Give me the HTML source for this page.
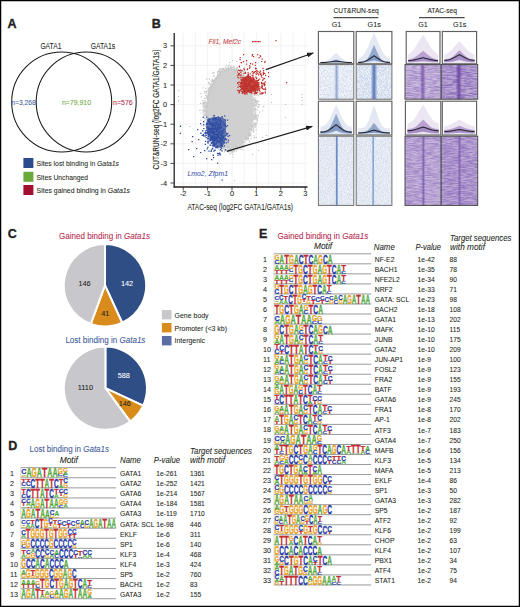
<!DOCTYPE html><html><head><meta charset="utf-8"><style>html,body{margin:0;padding:0;background:#fff;width:520px;height:607px;overflow:hidden}svg{display:block}text{font-family:"Liberation Sans",sans-serif}</style></head><body><svg width="520" height="607" viewBox="0 0 520 607" font-family="Liberation Sans, sans-serif">
<defs>
<filter id="nz" x="0" y="0" width="100%" height="100%"><feTurbulence type="fractalNoise" baseFrequency="1.3" numOctaves="1" seed="3"/><feColorMatrix type="matrix" values="0 0 0 0 0  0 0 0 0 0  0 0 0 0 0  2.6 0 0 0 -0.95" result="n"/><feComposite in="SourceGraphic" in2="n" operator="in"/></filter>
<filter id="nzh" x="0" y="0" width="100%" height="100%"><feTurbulence type="fractalNoise" baseFrequency="0.15 1.4" numOctaves="2" seed="5"/><feColorMatrix type="matrix" values="0 0 0 0 0  0 0 0 0 0  0 0 0 0 0  2.4 0 0 0 -0.75" result="n"/><feComposite in="SourceGraphic" in2="n" operator="in"/></filter>
<marker id="ah" markerWidth="7" markerHeight="5" refX="6.5" refY="2.5" orient="auto" markerUnits="userSpaceOnUse"><path d="M0,0 L7,2.5 L0,5 z" fill="#231f20"/></marker>
</defs>
<rect x="0" y="0" width="520" height="607" fill="#fff"/>
<text x="7.40" y="28.15" font-size="12.5" font-weight="bold" fill="#231f20" stroke="#231f20" stroke-width="0.35">A</text>
<text x="151.70" y="27.75" font-size="12.5" font-weight="bold" fill="#231f20" stroke="#231f20" stroke-width="0.35">B</text>
<text x="7.70" y="237.75" font-size="12.5" font-weight="bold" fill="#231f20" stroke="#231f20" stroke-width="0.35">C</text>
<text x="8.15" y="449.95" font-size="12.5" font-weight="bold" fill="#231f20" stroke="#231f20" stroke-width="0.35">D</text>
<text x="258.90" y="238.15" font-size="12.5" font-weight="bold" fill="#231f20" stroke="#231f20" stroke-width="0.35">E</text>
<circle cx="61.7" cy="102" r="50" fill="none" stroke="#1a1a1a" stroke-width="1.05"/>
<circle cx="86.2" cy="102" r="50" fill="none" stroke="#1a1a1a" stroke-width="1.05"/>
<text x="40.40" y="48.57" font-size="8.3" fill="#231f20" stroke="#231f20" stroke-width="0.07" text-anchor="start" textLength="21.00" lengthAdjust="spacingAndGlyphs">GATA1</text>
<text x="90.70" y="48.57" font-size="8.3" fill="#231f20" stroke="#231f20" stroke-width="0.07" text-anchor="start" textLength="24.50" lengthAdjust="spacingAndGlyphs">GATA1s</text>
<text x="11.30" y="104.86" font-size="8.0" fill="#3d5c9e" stroke="#3d5c9e" stroke-width="0.07" text-anchor="start" textLength="24.50" lengthAdjust="spacingAndGlyphs">n=3,268</text>
<text x="61.90" y="104.86" font-size="8.0" fill="#6caa3f" stroke="#6caa3f" stroke-width="0.07" text-anchor="start" textLength="29.10" lengthAdjust="spacingAndGlyphs">n=79,910</text>
<text x="113.00" y="104.86" font-size="8.0" fill="#b01f3f" stroke="#b01f3f" stroke-width="0.07" text-anchor="start" textLength="19.70" lengthAdjust="spacingAndGlyphs">n=576</text>
<rect x="23.4" y="158" width="10" height="10" fill="#2b4c8c"/>
<rect x="23.4" y="171.8" width="10" height="10" fill="#6aaa3c"/>
<rect x="23.4" y="185" width="10" height="10" fill="#a3102f"/>
<text x="36.60" y="165.72" font-size="7.6" fill="#231f20" stroke="#231f20" stroke-width="0.07" textLength="82.40" lengthAdjust="spacingAndGlyphs"><tspan>Sites lost binding in </tspan><tspan font-style="italic">Gata1s</tspan></text>
<text x="36.60" y="179.52" font-size="7.6" fill="#231f20" stroke="#231f20" stroke-width="0.07" textLength="51.40" lengthAdjust="spacingAndGlyphs"><tspan>Sites Unchanged</tspan></text>
<text x="36.60" y="192.72" font-size="7.6" fill="#231f20" stroke="#231f20" stroke-width="0.07" textLength="93.40" lengthAdjust="spacingAndGlyphs"><tspan>Sites gained binding in </tspan><tspan font-style="italic">Gata1s</tspan></text>
<line x1="171.00" y1="33" x2="171.00" y2="187" stroke="#efefef" stroke-width="0.8"/>
<line x1="183.20" y1="33" x2="183.20" y2="187" stroke="#efefef" stroke-width="0.8"/>
<line x1="195.40" y1="33" x2="195.40" y2="187" stroke="#efefef" stroke-width="0.8"/>
<line x1="207.60" y1="33" x2="207.60" y2="187" stroke="#efefef" stroke-width="0.8"/>
<line x1="219.80" y1="33" x2="219.80" y2="187" stroke="#efefef" stroke-width="0.8"/>
<line x1="232.00" y1="33" x2="232.00" y2="187" stroke="#efefef" stroke-width="0.8"/>
<line x1="244.20" y1="33" x2="244.20" y2="187" stroke="#efefef" stroke-width="0.8"/>
<line x1="256.40" y1="33" x2="256.40" y2="187" stroke="#efefef" stroke-width="0.8"/>
<line x1="268.60" y1="33" x2="268.60" y2="187" stroke="#efefef" stroke-width="0.8"/>
<line x1="280.80" y1="33" x2="280.80" y2="187" stroke="#efefef" stroke-width="0.8"/>
<line x1="293.00" y1="33" x2="293.00" y2="187" stroke="#efefef" stroke-width="0.8"/>
<line x1="305.20" y1="33" x2="305.20" y2="187" stroke="#efefef" stroke-width="0.8"/>
<line x1="174" y1="183.00" x2="307.5" y2="183.00" stroke="#efefef" stroke-width="0.8"/>
<line x1="174" y1="163.40" x2="307.5" y2="163.40" stroke="#efefef" stroke-width="0.8"/>
<line x1="174" y1="143.80" x2="307.5" y2="143.80" stroke="#efefef" stroke-width="0.8"/>
<line x1="174" y1="124.20" x2="307.5" y2="124.20" stroke="#efefef" stroke-width="0.8"/>
<line x1="174" y1="104.60" x2="307.5" y2="104.60" stroke="#efefef" stroke-width="0.8"/>
<line x1="174" y1="85.00" x2="307.5" y2="85.00" stroke="#efefef" stroke-width="0.8"/>
<line x1="174" y1="65.40" x2="307.5" y2="65.40" stroke="#efefef" stroke-width="0.8"/>
<line x1="174" y1="45.80" x2="307.5" y2="45.80" stroke="#efefef" stroke-width="0.8"/>
<path d="M221,72 L229,69 L236,71 L244,78 L250,90 L253,105 L252,120 L248,132 L240,143 L232,148 L224,146 L216,138 L209,125 L206.5,110 L209,94 L215,80 Z" fill="#d0d0d0" stroke="#d0d0d0" stroke-width="2" stroke-linejoin="round"/>
<path d="M215.4,139.2h1.2v1.2h-1.2zM207.7,125.4h1.2v1.2h-1.2zM252.4,127.3h1.2v1.2h-1.2zM203.6,105.9h1.2v1.2h-1.2zM204.3,90.7h1.2v1.2h-1.2zM199.7,93.1h1.2v1.2h-1.2zM228.8,64.8h1.2v1.2h-1.2zM219.9,73.0h1.2v1.2h-1.2zM213.2,82.4h1.2v1.2h-1.2zM233.7,69.4h1.2v1.2h-1.2zM236.3,148.2h1.2v1.2h-1.2zM213.0,134.8h1.2v1.2h-1.2zM217.8,76.0h1.2v1.2h-1.2zM234.0,150.5h1.2v1.2h-1.2zM201.8,109.7h1.2v1.2h-1.2zM249.7,85.6h1.2v1.2h-1.2zM205.5,91.4h1.2v1.2h-1.2zM218.0,140.9h1.2v1.2h-1.2zM248.3,82.1h1.2v1.2h-1.2zM210.4,85.9h1.2v1.2h-1.2zM204.0,101.5h1.2v1.2h-1.2zM210.9,83.1h1.2v1.2h-1.2zM212.6,81.3h1.2v1.2h-1.2zM254.5,100.1h1.2v1.2h-1.2zM219.7,147.5h1.2v1.2h-1.2zM249.2,81.2h1.2v1.2h-1.2zM208.5,93.6h1.2v1.2h-1.2zM243.6,74.9h1.2v1.2h-1.2zM207.0,130.3h1.2v1.2h-1.2zM222.9,146.0h1.2v1.2h-1.2zM221.2,68.6h1.2v1.2h-1.2zM205.6,104.3h1.2v1.2h-1.2zM201.8,99.9h1.2v1.2h-1.2zM247.6,139.1h1.2v1.2h-1.2zM212.9,139.2h1.2v1.2h-1.2zM230.2,149.8h1.2v1.2h-1.2zM236.1,146.0h1.2v1.2h-1.2zM205.4,131.8h1.2v1.2h-1.2zM207.5,119.6h1.2v1.2h-1.2zM207.2,118.0h1.2v1.2h-1.2zM251.5,129.0h1.2v1.2h-1.2zM215.4,77.6h1.2v1.2h-1.2zM218.2,70.5h1.2v1.2h-1.2zM211.5,84.8h1.2v1.2h-1.2zM256.7,119.1h1.2v1.2h-1.2zM250.7,91.4h1.2v1.2h-1.2zM206.0,106.4h1.2v1.2h-1.2zM245.0,136.3h1.2v1.2h-1.2zM222.0,146.8h1.2v1.2h-1.2zM236.0,68.9h1.2v1.2h-1.2zM206.9,121.1h1.2v1.2h-1.2zM207.7,95.6h1.2v1.2h-1.2zM255.0,109.2h1.2v1.2h-1.2zM219.0,142.8h1.2v1.2h-1.2zM213.4,81.0h1.2v1.2h-1.2zM242.6,141.7h1.2v1.2h-1.2zM228.8,147.6h1.2v1.2h-1.2zM252.2,89.8h1.2v1.2h-1.2zM259.3,111.6h1.2v1.2h-1.2zM208.2,124.0h1.2v1.2h-1.2zM211.6,86.8h1.2v1.2h-1.2zM246.7,80.7h1.2v1.2h-1.2zM227.0,151.1h1.2v1.2h-1.2zM255.2,117.3h1.2v1.2h-1.2zM224.6,146.6h1.2v1.2h-1.2zM211.9,135.5h1.2v1.2h-1.2zM246.5,75.9h1.2v1.2h-1.2zM217.8,140.0h1.2v1.2h-1.2zM239.7,70.6h1.2v1.2h-1.2zM204.8,106.1h1.2v1.2h-1.2zM253.3,90.8h1.2v1.2h-1.2zM225.1,149.0h1.2v1.2h-1.2zM235.4,70.1h1.2v1.2h-1.2zM250.6,128.6h1.2v1.2h-1.2zM257.7,106.3h1.2v1.2h-1.2zM219.9,72.7h1.2v1.2h-1.2zM231.2,68.3h1.2v1.2h-1.2zM211.0,139.3h1.2v1.2h-1.2zM258.2,100.9h1.2v1.2h-1.2zM248.5,133.5h1.2v1.2h-1.2zM224.4,148.9h1.2v1.2h-1.2zM254.8,108.3h1.2v1.2h-1.2zM206.9,106.8h1.2v1.2h-1.2zM250.6,88.9h1.2v1.2h-1.2zM218.9,73.3h1.2v1.2h-1.2zM254.8,91.8h1.2v1.2h-1.2zM212.6,134.7h1.2v1.2h-1.2zM240.5,74.3h1.2v1.2h-1.2zM251.0,85.2h1.2v1.2h-1.2zM256.9,118.0h1.2v1.2h-1.2zM245.4,138.2h1.2v1.2h-1.2zM254.0,111.9h1.2v1.2h-1.2zM226.0,67.5h1.2v1.2h-1.2zM211.1,81.1h1.2v1.2h-1.2zM218.1,146.3h1.2v1.2h-1.2zM206.4,125.2h1.2v1.2h-1.2zM222.1,67.7h1.2v1.2h-1.2zM224.4,146.6h1.2v1.2h-1.2zM206.7,101.6h1.2v1.2h-1.2zM236.2,67.6h1.2v1.2h-1.2zM206.1,112.5h1.2v1.2h-1.2zM213.0,82.3h1.2v1.2h-1.2zM231.8,152.0h1.2v1.2h-1.2zM209.3,133.2h1.2v1.2h-1.2zM219.8,71.2h1.2v1.2h-1.2zM211.1,82.8h1.2v1.2h-1.2zM212.3,132.7h1.2v1.2h-1.2zM204.8,125.6h1.2v1.2h-1.2zM252.2,126.3h1.2v1.2h-1.2zM224.7,66.7h1.2v1.2h-1.2zM230.1,67.5h1.2v1.2h-1.2zM229.7,149.7h1.2v1.2h-1.2zM240.3,143.6h1.2v1.2h-1.2zM236.0,150.3h1.2v1.2h-1.2zM250.5,134.5h1.2v1.2h-1.2zM212.9,82.8h1.2v1.2h-1.2zM253.0,116.4h1.2v1.2h-1.2zM244.1,71.8h1.2v1.2h-1.2zM229.7,150.8h1.2v1.2h-1.2zM209.4,132.5h1.2v1.2h-1.2zM227.1,149.9h1.2v1.2h-1.2zM207.0,102.7h1.2v1.2h-1.2zM229.4,148.6h1.2v1.2h-1.2zM255.6,136.9h1.2v1.2h-1.2zM208.2,92.1h1.2v1.2h-1.2zM213.3,133.8h1.2v1.2h-1.2zM253.2,125.0h1.2v1.2h-1.2zM252.3,91.4h1.2v1.2h-1.2zM254.8,113.8h1.2v1.2h-1.2zM253.2,91.7h1.2v1.2h-1.2zM239.8,70.2h1.2v1.2h-1.2zM218.0,75.4h1.2v1.2h-1.2zM207.0,127.8h1.2v1.2h-1.2zM253.1,102.4h1.2v1.2h-1.2zM207.9,81.7h1.2v1.2h-1.2zM239.5,146.3h1.2v1.2h-1.2zM246.2,80.5h1.2v1.2h-1.2zM226.8,68.5h1.2v1.2h-1.2zM207.7,99.8h1.2v1.2h-1.2zM255.6,129.1h1.2v1.2h-1.2zM249.2,84.0h1.2v1.2h-1.2zM249.2,81.3h1.2v1.2h-1.2zM212.8,134.5h1.2v1.2h-1.2zM218.0,140.9h1.2v1.2h-1.2zM242.3,74.4h1.2v1.2h-1.2zM231.8,67.4h1.2v1.2h-1.2zM208.6,95.2h1.2v1.2h-1.2zM242.4,141.3h1.2v1.2h-1.2zM207.6,123.6h1.2v1.2h-1.2zM225.4,70.3h1.2v1.2h-1.2zM209.7,131.0h1.2v1.2h-1.2zM208.3,83.1h1.2v1.2h-1.2zM205.3,105.1h1.2v1.2h-1.2zM247.1,83.8h1.2v1.2h-1.2zM208.9,88.5h1.2v1.2h-1.2zM246.1,134.6h1.2v1.2h-1.2zM249.1,134.6h1.2v1.2h-1.2zM257.6,114.6h1.2v1.2h-1.2zM247.3,133.0h1.2v1.2h-1.2zM208.3,90.7h1.2v1.2h-1.2zM207.1,103.1h1.2v1.2h-1.2zM223.6,145.8h1.2v1.2h-1.2zM207.8,93.0h1.2v1.2h-1.2zM211.7,84.2h1.2v1.2h-1.2zM248.9,80.2h1.2v1.2h-1.2zM237.8,148.2h1.2v1.2h-1.2zM225.6,64.8h1.2v1.2h-1.2zM252.6,125.1h1.2v1.2h-1.2zM250.3,81.0h1.2v1.2h-1.2zM206.0,104.9h1.2v1.2h-1.2zM207.0,116.4h1.2v1.2h-1.2zM217.3,139.8h1.2v1.2h-1.2zM212.1,130.8h1.2v1.2h-1.2zM233.9,150.0h1.2v1.2h-1.2zM211.5,130.5h1.2v1.2h-1.2zM208.3,122.7h1.2v1.2h-1.2zM227.9,68.1h1.2v1.2h-1.2zM203.0,125.3h1.2v1.2h-1.2zM210.9,139.1h1.2v1.2h-1.2zM210.0,133.2h1.2v1.2h-1.2zM255.4,102.2h1.2v1.2h-1.2zM230.9,151.5h1.2v1.2h-1.2zM256.4,122.1h1.2v1.2h-1.2zM206.7,124.3h1.2v1.2h-1.2zM253.9,104.3h1.2v1.2h-1.2zM228.8,69.0h1.2v1.2h-1.2zM246.4,137.7h1.2v1.2h-1.2zM242.5,74.9h1.2v1.2h-1.2zM213.0,134.5h1.2v1.2h-1.2zM245.9,139.5h1.2v1.2h-1.2zM247.7,77.2h1.2v1.2h-1.2zM251.6,122.8h1.2v1.2h-1.2zM220.3,143.8h1.2v1.2h-1.2zM233.8,69.7h1.2v1.2h-1.2zM254.9,109.1h1.2v1.2h-1.2zM243.5,139.1h1.2v1.2h-1.2zM205.9,114.9h1.2v1.2h-1.2zM227.7,69.4h1.2v1.2h-1.2zM207.5,121.5h1.2v1.2h-1.2zM205.7,96.3h1.2v1.2h-1.2zM223.5,68.5h1.2v1.2h-1.2zM254.4,98.5h1.2v1.2h-1.2zM223.3,147.0h1.2v1.2h-1.2zM206.7,103.2h1.2v1.2h-1.2zM203.8,113.9h1.2v1.2h-1.2zM217.0,142.6h1.2v1.2h-1.2zM257.5,94.3h1.2v1.2h-1.2zM203.7,111.1h1.2v1.2h-1.2zM249.7,88.4h1.2v1.2h-1.2zM210.1,87.1h1.2v1.2h-1.2zM207.4,90.2h1.2v1.2h-1.2zM252.8,117.0h1.2v1.2h-1.2zM216.3,145.4h1.2v1.2h-1.2zM209.2,127.9h1.2v1.2h-1.2zM217.0,71.9h1.2v1.2h-1.2zM253.6,79.4h1.2v1.2h-1.2zM212.9,81.7h1.2v1.2h-1.2zM250.2,87.2h1.2v1.2h-1.2zM213.4,134.7h1.2v1.2h-1.2zM240.7,145.0h1.2v1.2h-1.2zM252.8,130.6h1.2v1.2h-1.2zM211.0,88.2h1.2v1.2h-1.2zM254.0,102.2h1.2v1.2h-1.2zM209.5,142.0h1.2v1.2h-1.2zM251.5,129.3h1.2v1.2h-1.2zM209.7,127.8h1.2v1.2h-1.2zM215.9,77.2h1.2v1.2h-1.2zM219.9,68.2h1.2v1.2h-1.2zM245.2,80.3h1.2v1.2h-1.2zM242.6,75.6h1.2v1.2h-1.2zM206.3,128.5h1.2v1.2h-1.2zM203.3,109.9h1.2v1.2h-1.2zM239.3,143.8h1.2v1.2h-1.2zM253.0,104.1h1.2v1.2h-1.2zM253.9,84.1h1.2v1.2h-1.2zM249.7,86.8h1.2v1.2h-1.2zM235.5,69.2h1.2v1.2h-1.2zM245.1,137.3h1.2v1.2h-1.2zM253.5,123.9h1.2v1.2h-1.2zM208.2,89.9h1.2v1.2h-1.2zM224.3,150.0h1.2v1.2h-1.2zM254.5,115.7h1.2v1.2h-1.2zM218.6,75.0h1.2v1.2h-1.2zM222.6,68.9h1.2v1.2h-1.2zM235.5,68.0h1.2v1.2h-1.2zM210.0,135.4h1.2v1.2h-1.2zM232.2,153.9h1.2v1.2h-1.2zM208.8,78.6h1.2v1.2h-1.2zM210.0,128.3h1.2v1.2h-1.2zM218.5,70.6h1.2v1.2h-1.2zM242.9,142.0h1.2v1.2h-1.2zM206.1,103.3h1.2v1.2h-1.2zM241.6,144.4h1.2v1.2h-1.2zM251.2,95.8h1.2v1.2h-1.2zM262.0,110.3h1.2v1.2h-1.2zM209.2,89.1h1.2v1.2h-1.2zM211.8,80.9h1.2v1.2h-1.2zM221.5,69.6h1.2v1.2h-1.2zM246.2,136.9h1.2v1.2h-1.2zM203.5,106.6h1.2v1.2h-1.2zM224.2,150.4h1.2v1.2h-1.2zM216.9,140.7h1.2v1.2h-1.2zM231.3,67.6h1.2v1.2h-1.2zM240.5,74.5h1.2v1.2h-1.2zM213.9,82.1h1.2v1.2h-1.2zM263.2,105.7h1.2v1.2h-1.2zM255.5,117.4h1.2v1.2h-1.2zM238.9,145.4h1.2v1.2h-1.2zM233.0,148.0h1.2v1.2h-1.2zM246.3,79.3h1.2v1.2h-1.2zM250.7,87.2h1.2v1.2h-1.2zM242.8,74.2h1.2v1.2h-1.2zM205.9,123.5h1.2v1.2h-1.2zM203.1,111.9h1.2v1.2h-1.2zM213.0,140.7h1.2v1.2h-1.2zM215.2,137.9h1.2v1.2h-1.2zM229.8,67.5h1.2v1.2h-1.2zM204.4,113.6h1.2v1.2h-1.2zM255.5,104.5h1.2v1.2h-1.2zM208.6,127.6h1.2v1.2h-1.2zM217.7,139.8h1.2v1.2h-1.2zM252.5,122.8h1.2v1.2h-1.2zM245.5,138.7h1.2v1.2h-1.2zM204.3,132.7h1.2v1.2h-1.2zM206.9,118.6h1.2v1.2h-1.2zM236.4,70.3h1.2v1.2h-1.2zM227.4,148.0h1.2v1.2h-1.2zM243.7,67.3h1.2v1.2h-1.2zM234.8,69.7h1.2v1.2h-1.2zM252.4,88.2h1.2v1.2h-1.2zM251.0,124.6h1.2v1.2h-1.2zM236.7,146.8h1.2v1.2h-1.2zM217.9,74.1h1.2v1.2h-1.2zM203.0,116.4h1.2v1.2h-1.2zM250.1,129.3h1.2v1.2h-1.2zM251.4,95.5h1.2v1.2h-1.2zM240.7,148.8h1.2v1.2h-1.2zM242.8,144.5h1.2v1.2h-1.2zM207.2,118.9h1.2v1.2h-1.2zM215.7,140.5h1.2v1.2h-1.2zM233.7,69.4h1.2v1.2h-1.2zM202.3,100.4h1.2v1.2h-1.2zM215.5,142.5h1.2v1.2h-1.2zM246.1,78.0h1.2v1.2h-1.2zM212.5,85.2h1.2v1.2h-1.2zM205.2,105.5h1.2v1.2h-1.2zM254.7,101.5h1.2v1.2h-1.2zM209.5,126.6h1.2v1.2h-1.2zM205.0,101.4h1.2v1.2h-1.2zM243.3,146.3h1.2v1.2h-1.2zM252.4,88.8h1.2v1.2h-1.2zM249.4,127.9h1.2v1.2h-1.2zM251.0,94.3h1.2v1.2h-1.2zM251.1,94.9h1.2v1.2h-1.2zM240.7,74.9h1.2v1.2h-1.2zM206.0,111.3h1.2v1.2h-1.2zM212.0,131.5h1.2v1.2h-1.2zM248.4,132.4h1.2v1.2h-1.2zM242.9,71.3h1.2v1.2h-1.2zM204.2,97.8h1.2v1.2h-1.2zM206.3,104.7h1.2v1.2h-1.2zM252.1,96.2h1.2v1.2h-1.2zM249.9,75.8h1.2v1.2h-1.2zM242.1,76.0h1.2v1.2h-1.2zM204.7,102.5h1.2v1.2h-1.2zM207.1,120.0h1.2v1.2h-1.2zM217.4,145.7h1.2v1.2h-1.2zM251.5,126.9h1.2v1.2h-1.2zM227.1,149.4h1.2v1.2h-1.2zM249.4,128.9h1.2v1.2h-1.2zM244.4,138.3h1.2v1.2h-1.2zM251.4,93.8h1.2v1.2h-1.2zM223.6,147.7h1.2v1.2h-1.2zM250.0,84.4h1.2v1.2h-1.2zM232.6,156.3h1.2v1.2h-1.2zM203.4,115.2h1.2v1.2h-1.2zM229.3,148.1h1.2v1.2h-1.2zM225.8,146.5h1.2v1.2h-1.2zM254.1,100.3h1.2v1.2h-1.2zM205.4,111.3h1.2v1.2h-1.2zM255.1,116.7h1.2v1.2h-1.2zM255.5,103.8h1.2v1.2h-1.2zM253.9,137.2h1.2v1.2h-1.2zM204.6,117.3h1.2v1.2h-1.2zM209.8,129.9h1.2v1.2h-1.2zM221.6,71.1h1.2v1.2h-1.2zM210.4,135.0h1.2v1.2h-1.2zM248.3,74.2h1.2v1.2h-1.2zM236.8,70.9h1.2v1.2h-1.2zM223.7,70.2h1.2v1.2h-1.2zM235.0,69.9h1.2v1.2h-1.2zM222.1,146.0h1.2v1.2h-1.2zM211.4,86.7h1.2v1.2h-1.2zM208.2,95.9h1.2v1.2h-1.2zM221.5,145.4h1.2v1.2h-1.2zM218.7,74.9h1.2v1.2h-1.2zM212.1,132.2h1.2v1.2h-1.2zM205.6,98.4h1.2v1.2h-1.2zM222.4,146.5h1.2v1.2h-1.2zM244.5,72.7h1.2v1.2h-1.2zM254.4,107.4h1.2v1.2h-1.2zM231.6,69.0h1.2v1.2h-1.2zM215.3,137.5h1.2v1.2h-1.2zM248.5,133.4h1.2v1.2h-1.2zM226.9,69.4h1.2v1.2h-1.2zM209.2,128.0h1.2v1.2h-1.2zM209.3,86.9h1.2v1.2h-1.2zM253.7,125.2h1.2v1.2h-1.2zM218.1,148.6h1.2v1.2h-1.2zM200.3,119.7h1.2v1.2h-1.2zM246.5,80.9h1.2v1.2h-1.2zM205.9,105.8h1.2v1.2h-1.2zM218.0,71.2h1.2v1.2h-1.2zM230.1,67.0h1.2v1.2h-1.2zM255.9,116.2h1.2v1.2h-1.2zM217.3,139.5h1.2v1.2h-1.2zM202.7,105.1h1.2v1.2h-1.2zM248.1,138.3h1.2v1.2h-1.2zM250.8,89.8h1.2v1.2h-1.2zM251.2,87.4h1.2v1.2h-1.2zM236.3,70.1h1.2v1.2h-1.2zM211.5,129.7h1.2v1.2h-1.2zM246.5,138.4h1.2v1.2h-1.2zM211.8,137.1h1.2v1.2h-1.2zM217.0,71.3h1.2v1.2h-1.2zM218.8,69.4h1.2v1.2h-1.2zM252.6,102.3h1.2v1.2h-1.2zM254.8,99.3h1.2v1.2h-1.2zM211.6,134.8h1.2v1.2h-1.2zM250.9,127.9h1.2v1.2h-1.2zM240.0,73.4h1.2v1.2h-1.2zM212.6,81.4h1.2v1.2h-1.2zM210.6,134.5h1.2v1.2h-1.2zM246.3,79.0h1.2v1.2h-1.2zM209.8,87.0h1.2v1.2h-1.2zM257.4,106.4h1.2v1.2h-1.2zM227.6,69.0h1.2v1.2h-1.2zM207.8,89.8h1.2v1.2h-1.2zM253.0,128.5h1.2v1.2h-1.2zM220.6,70.6h1.2v1.2h-1.2zM245.4,136.9h1.2v1.2h-1.2zM206.2,123.2h1.2v1.2h-1.2zM241.8,142.8h1.2v1.2h-1.2zM238.0,146.0h1.2v1.2h-1.2zM202.3,105.1h1.2v1.2h-1.2zM255.7,123.6h1.2v1.2h-1.2zM204.7,106.6h1.2v1.2h-1.2zM248.6,77.1h1.2v1.2h-1.2zM206.0,124.2h1.2v1.2h-1.2zM256.8,114.9h1.2v1.2h-1.2zM230.7,148.2h1.2v1.2h-1.2zM209.4,91.1h1.2v1.2h-1.2zM217.3,75.6h1.2v1.2h-1.2zM213.4,72.2h1.2v1.2h-1.2zM206.3,110.1h1.2v1.2h-1.2zM203.5,109.3h1.2v1.2h-1.2zM210.1,86.5h1.2v1.2h-1.2zM212.0,80.0h1.2v1.2h-1.2zM216.9,73.8h1.2v1.2h-1.2zM211.0,136.9h1.2v1.2h-1.2zM251.2,86.5h1.2v1.2h-1.2zM206.7,112.4h1.2v1.2h-1.2zM211.8,131.1h1.2v1.2h-1.2zM253.7,135.3h1.2v1.2h-1.2zM241.2,142.8h1.2v1.2h-1.2zM249.5,86.0h1.2v1.2h-1.2zM258.2,105.8h1.2v1.2h-1.2zM254.5,116.2h1.2v1.2h-1.2zM250.5,129.0h1.2v1.2h-1.2zM206.1,118.2h1.2v1.2h-1.2zM206.3,95.2h1.2v1.2h-1.2zM233.5,147.2h1.2v1.2h-1.2zM255.5,101.9h1.2v1.2h-1.2zM209.0,137.3h1.2v1.2h-1.2zM253.0,109.8h1.2v1.2h-1.2zM255.5,124.2h1.2v1.2h-1.2zM241.3,144.9h1.2v1.2h-1.2zM254.9,122.6h1.2v1.2h-1.2zM226.6,147.6h1.2v1.2h-1.2zM204.0,111.0h1.2v1.2h-1.2zM255.5,124.4h1.2v1.2h-1.2zM240.3,70.9h1.2v1.2h-1.2zM217.0,75.9h1.2v1.2h-1.2zM204.3,99.9h1.2v1.2h-1.2zM211.3,87.0h1.2v1.2h-1.2zM253.6,116.8h1.2v1.2h-1.2zM206.5,109.8h1.2v1.2h-1.2zM210.4,80.5h1.2v1.2h-1.2zM239.1,143.8h1.2v1.2h-1.2zM207.5,103.3h1.2v1.2h-1.2zM256.8,100.1h1.2v1.2h-1.2zM205.5,126.7h1.2v1.2h-1.2zM202.7,102.7h1.2v1.2h-1.2zM250.7,79.4h1.2v1.2h-1.2zM209.7,128.0h1.2v1.2h-1.2zM210.0,89.5h1.2v1.2h-1.2zM208.5,124.7h1.2v1.2h-1.2zM225.0,149.9h1.2v1.2h-1.2zM215.0,79.0h1.2v1.2h-1.2zM220.3,143.9h1.2v1.2h-1.2zM201.6,102.4h1.2v1.2h-1.2zM243.0,70.4h1.2v1.2h-1.2zM206.5,116.6h1.2v1.2h-1.2zM247.3,83.6h1.2v1.2h-1.2zM231.1,67.3h1.2v1.2h-1.2zM213.9,79.1h1.2v1.2h-1.2zM248.7,135.0h1.2v1.2h-1.2zM253.6,136.8h1.2v1.2h-1.2zM230.5,147.8h1.2v1.2h-1.2zM213.5,71.8h1.2v1.2h-1.2zM244.2,77.1h1.2v1.2h-1.2zM206.3,123.2h1.2v1.2h-1.2zM207.2,104.9h1.2v1.2h-1.2zM219.8,149.7h1.2v1.2h-1.2zM209.0,83.0h1.2v1.2h-1.2zM203.6,102.6h1.2v1.2h-1.2zM252.3,98.5h1.2v1.2h-1.2zM211.1,88.3h1.2v1.2h-1.2zM206.1,93.1h1.2v1.2h-1.2zM218.4,141.1h1.2v1.2h-1.2zM251.4,124.9h1.2v1.2h-1.2zM203.9,104.4h1.2v1.2h-1.2zM236.7,68.2h1.2v1.2h-1.2zM209.5,90.4h1.2v1.2h-1.2zM211.9,84.4h1.2v1.2h-1.2zM210.7,86.2h1.2v1.2h-1.2zM209.0,134.5h1.2v1.2h-1.2zM256.8,109.2h1.2v1.2h-1.2zM252.6,99.9h1.2v1.2h-1.2zM252.6,120.2h1.2v1.2h-1.2zM239.6,74.1h1.2v1.2h-1.2zM256.7,120.1h1.2v1.2h-1.2zM206.1,78.6h1.2v1.2h-1.2zM222.5,68.0h1.2v1.2h-1.2zM248.0,132.4h1.2v1.2h-1.2zM203.2,110.6h1.2v1.2h-1.2zM206.7,126.3h1.2v1.2h-1.2zM206.2,118.8h1.2v1.2h-1.2zM252.0,95.6h1.2v1.2h-1.2zM244.7,141.2h1.2v1.2h-1.2zM205.4,104.4h1.2v1.2h-1.2zM223.8,151.2h1.2v1.2h-1.2zM216.4,139.1h1.2v1.2h-1.2zM225.0,69.1h1.2v1.2h-1.2zM254.3,100.6h1.2v1.2h-1.2zM253.2,102.3h1.2v1.2h-1.2zM206.2,105.1h1.2v1.2h-1.2zM247.4,137.0h1.2v1.2h-1.2zM207.8,87.9h1.2v1.2h-1.2zM253.3,104.9h1.2v1.2h-1.2zM248.7,87.3h1.2v1.2h-1.2zM251.2,124.6h1.2v1.2h-1.2zM249.2,129.4h1.2v1.2h-1.2zM229.9,67.4h1.2v1.2h-1.2zM250.2,89.2h1.2v1.2h-1.2zM213.3,137.4h1.2v1.2h-1.2zM232.7,67.0h1.2v1.2h-1.2zM199.3,109.7h1.2v1.2h-1.2zM209.0,127.8h1.2v1.2h-1.2zM221.6,150.4h1.2v1.2h-1.2zM248.2,84.7h1.2v1.2h-1.2zM232.0,149.6h1.2v1.2h-1.2zM219.9,72.6h1.2v1.2h-1.2zM207.0,115.2h1.2v1.2h-1.2zM209.0,125.2h1.2v1.2h-1.2zM227.0,68.9h1.2v1.2h-1.2zM205.0,110.2h1.2v1.2h-1.2zM240.5,71.4h1.2v1.2h-1.2zM201.1,125.1h1.2v1.2h-1.2zM230.8,68.9h1.2v1.2h-1.2zM254.4,123.7h1.2v1.2h-1.2zM209.6,86.7h1.2v1.2h-1.2zM231.4,148.4h1.2v1.2h-1.2zM253.4,102.5h1.2v1.2h-1.2zM238.7,69.6h1.2v1.2h-1.2zM243.8,77.5h1.2v1.2h-1.2zM200.0,102.7h1.2v1.2h-1.2zM213.1,133.6h1.2v1.2h-1.2zM230.8,68.7h1.2v1.2h-1.2zM248.8,140.4h1.2v1.2h-1.2zM215.1,143.1h1.2v1.2h-1.2zM213.7,75.6h1.2v1.2h-1.2zM206.7,120.4h1.2v1.2h-1.2zM256.5,93.7h1.2v1.2h-1.2zM223.7,70.2h1.2v1.2h-1.2zM246.0,80.0h1.2v1.2h-1.2zM230.1,65.6h1.2v1.2h-1.2zM208.1,123.8h1.2v1.2h-1.2zM214.8,79.4h1.2v1.2h-1.2zM217.0,73.6h1.2v1.2h-1.2zM215.1,78.2h1.2v1.2h-1.2zM228.3,151.2h1.2v1.2h-1.2zM209.5,127.7h1.2v1.2h-1.2zM232.6,150.9h1.2v1.2h-1.2zM253.4,130.4h1.2v1.2h-1.2zM250.9,125.1h1.2v1.2h-1.2zM208.1,90.1h1.2v1.2h-1.2zM205.1,87.7h1.2v1.2h-1.2zM218.0,141.5h1.2v1.2h-1.2zM231.5,68.9h1.2v1.2h-1.2zM223.1,145.1h1.2v1.2h-1.2zM204.6,113.4h1.2v1.2h-1.2zM211.7,130.1h1.2v1.2h-1.2zM232.6,149.8h1.2v1.2h-1.2zM211.6,79.1h1.2v1.2h-1.2zM211.3,132.0h1.2v1.2h-1.2zM236.7,146.3h1.2v1.2h-1.2zM254.2,112.2h1.2v1.2h-1.2zM251.2,124.2h1.2v1.2h-1.2zM252.3,125.8h1.2v1.2h-1.2zM209.7,91.5h1.2v1.2h-1.2zM248.1,134.5h1.2v1.2h-1.2zM251.7,130.0h1.2v1.2h-1.2zM206.8,120.3h1.2v1.2h-1.2zM206.2,95.9h1.2v1.2h-1.2zM229.3,149.3h1.2v1.2h-1.2zM235.0,147.3h1.2v1.2h-1.2zM207.8,118.1h1.2v1.2h-1.2zM251.0,92.8h1.2v1.2h-1.2zM242.3,73.0h1.2v1.2h-1.2zM214.6,138.2h1.2v1.2h-1.2zM232.4,151.1h1.2v1.2h-1.2zM213.7,81.1h1.2v1.2h-1.2zM254.9,102.1h1.2v1.2h-1.2zM255.6,100.4h1.2v1.2h-1.2zM209.8,84.1h1.2v1.2h-1.2zM256.2,114.6h1.2v1.2h-1.2zM250.4,88.2h1.2v1.2h-1.2zM253.9,115.4h1.2v1.2h-1.2zM253.4,105.2h1.2v1.2h-1.2zM205.2,94.7h1.2v1.2h-1.2zM206.2,110.9h1.2v1.2h-1.2zM203.4,111.0h1.2v1.2h-1.2zM208.9,86.8h1.2v1.2h-1.2zM205.6,118.9h1.2v1.2h-1.2zM249.9,133.6h1.2v1.2h-1.2zM202.9,107.0h1.2v1.2h-1.2zM254.1,89.2h1.2v1.2h-1.2zM253.6,125.3h1.2v1.2h-1.2zM250.7,126.3h1.2v1.2h-1.2zM217.2,74.1h1.2v1.2h-1.2zM218.8,146.2h1.2v1.2h-1.2zM206.3,103.5h1.2v1.2h-1.2zM229.3,68.9h1.2v1.2h-1.2zM246.5,136.3h1.2v1.2h-1.2zM211.0,88.1h1.2v1.2h-1.2zM206.1,108.9h1.2v1.2h-1.2zM243.6,144.6h1.2v1.2h-1.2zM247.5,84.7h1.2v1.2h-1.2zM251.4,125.4h1.2v1.2h-1.2zM209.1,87.0h1.2v1.2h-1.2zM248.9,141.2h1.2v1.2h-1.2zM226.1,67.4h1.2v1.2h-1.2zM233.8,68.4h1.2v1.2h-1.2zM205.2,112.7h1.2v1.2h-1.2zM229.8,68.4h1.2v1.2h-1.2zM218.6,141.1h1.2v1.2h-1.2zM254.1,117.8h1.2v1.2h-1.2zM258.5,95.4h1.2v1.2h-1.2zM207.3,119.0h1.2v1.2h-1.2zM244.0,139.0h1.2v1.2h-1.2zM208.3,88.2h1.2v1.2h-1.2zM203.2,122.2h1.2v1.2h-1.2zM229.4,153.2h1.2v1.2h-1.2zM212.7,75.4h1.2v1.2h-1.2zM253.2,81.3h1.2v1.2h-1.2zM262.8,106.1h1.2v1.2h-1.2zM221.3,144.9h1.2v1.2h-1.2zM207.7,101.1h1.2v1.2h-1.2zM206.6,122.7h1.2v1.2h-1.2zM253.3,114.7h1.2v1.2h-1.2zM243.1,140.6h1.2v1.2h-1.2zM223.8,146.3h1.2v1.2h-1.2zM200.4,112.4h1.2v1.2h-1.2zM228.3,150.4h1.2v1.2h-1.2zM251.4,124.2h1.2v1.2h-1.2zM236.7,66.8h1.2v1.2h-1.2zM216.5,77.4h1.2v1.2h-1.2zM249.2,86.1h1.2v1.2h-1.2zM233.3,70.0h1.2v1.2h-1.2zM205.4,115.1h1.2v1.2h-1.2zM250.4,125.8h1.2v1.2h-1.2zM252.9,114.2h1.2v1.2h-1.2zM251.9,85.7h1.2v1.2h-1.2zM208.4,92.0h1.2v1.2h-1.2zM241.9,140.8h1.2v1.2h-1.2zM224.7,68.4h1.2v1.2h-1.2zM257.4,116.5h1.2v1.2h-1.2zM222.2,71.2h1.2v1.2h-1.2zM202.0,110.0h1.2v1.2h-1.2zM224.9,149.5h1.2v1.2h-1.2zM235.2,148.1h1.2v1.2h-1.2zM219.3,74.1h1.2v1.2h-1.2zM252.9,97.9h1.2v1.2h-1.2zM247.3,135.1h1.2v1.2h-1.2zM213.3,133.8h1.2v1.2h-1.2zM245.5,135.8h1.2v1.2h-1.2zM204.2,114.8h1.2v1.2h-1.2zM257.8,103.6h1.2v1.2h-1.2zM208.5,127.3h1.2v1.2h-1.2zM218.0,75.7h1.2v1.2h-1.2zM202.7,104.5h1.2v1.2h-1.2zM233.0,70.1h1.2v1.2h-1.2zM206.7,106.0h1.2v1.2h-1.2zM249.7,88.2h1.2v1.2h-1.2zM253.0,131.3h1.2v1.2h-1.2zM247.6,134.2h1.2v1.2h-1.2zM230.6,148.3h1.2v1.2h-1.2zM236.6,145.1h1.2v1.2h-1.2zM229.6,153.1h1.2v1.2h-1.2zM211.2,135.1h1.2v1.2h-1.2zM254.5,126.7h1.2v1.2h-1.2zM251.7,88.8h1.2v1.2h-1.2zM203.2,109.0h1.2v1.2h-1.2zM250.4,137.8h1.2v1.2h-1.2zM203.7,103.3h1.2v1.2h-1.2zM253.9,117.0h1.2v1.2h-1.2zM211.4,142.5h1.2v1.2h-1.2zM241.9,146.8h1.2v1.2h-1.2zM207.4,98.1h1.2v1.2h-1.2zM202.6,113.4h1.2v1.2h-1.2zM210.9,88.4h1.2v1.2h-1.2zM241.0,72.5h1.2v1.2h-1.2zM207.9,122.4h1.2v1.2h-1.2zM260.1,93.9h1.2v1.2h-1.2zM251.4,130.1h1.2v1.2h-1.2zM245.4,78.3h1.2v1.2h-1.2zM219.2,70.8h1.2v1.2h-1.2zM214.0,139.1h1.2v1.2h-1.2zM254.3,96.9h1.2v1.2h-1.2zM232.2,67.1h1.2v1.2h-1.2zM213.1,80.1h1.2v1.2h-1.2zM255.3,116.0h1.2v1.2h-1.2zM239.7,147.5h1.2v1.2h-1.2zM213.6,139.6h1.2v1.2h-1.2zM231.7,148.3h1.2v1.2h-1.2zM253.0,103.5h1.2v1.2h-1.2zM258.9,103.9h1.2v1.2h-1.2zM248.5,143.9h1.2v1.2h-1.2zM233.3,148.2h1.2v1.2h-1.2zM200.7,96.2h1.2v1.2h-1.2zM211.7,78.7h1.2v1.2h-1.2zM256.2,102.6h1.2v1.2h-1.2zM242.7,140.8h1.2v1.2h-1.2zM212.7,136.4h1.2v1.2h-1.2zM204.0,97.7h1.2v1.2h-1.2zM252.1,120.5h1.2v1.2h-1.2zM206.5,98.0h1.2v1.2h-1.2zM223.8,149.5h1.2v1.2h-1.2zM254.9,100.8h1.2v1.2h-1.2zM242.5,142.0h1.2v1.2h-1.2zM219.1,74.1h1.2v1.2h-1.2zM207.7,100.8h1.2v1.2h-1.2zM219.1,71.8h1.2v1.2h-1.2zM250.3,135.2h1.2v1.2h-1.2zM218.5,141.9h1.2v1.2h-1.2zM250.2,131.6h1.2v1.2h-1.2zM246.1,79.2h1.2v1.2h-1.2zM211.0,136.0h1.2v1.2h-1.2zM231.3,68.5h1.2v1.2h-1.2zM207.1,103.4h1.2v1.2h-1.2zM255.1,104.4h1.2v1.2h-1.2zM233.5,65.8h1.2v1.2h-1.2zM203.4,101.7h1.2v1.2h-1.2zM232.6,66.8h1.2v1.2h-1.2zM206.7,103.7h1.2v1.2h-1.2zM235.7,146.1h1.2v1.2h-1.2zM216.8,144.7h1.2v1.2h-1.2zM254.8,104.7h1.2v1.2h-1.2zM253.4,122.2h1.2v1.2h-1.2zM245.4,76.7h1.2v1.2h-1.2zM230.4,148.4h1.2v1.2h-1.2zM250.8,127.0h1.2v1.2h-1.2zM236.1,146.2h1.2v1.2h-1.2zM212.7,83.9h1.2v1.2h-1.2zM257.2,106.4h1.2v1.2h-1.2zM253.5,99.5h1.2v1.2h-1.2zM223.6,147.0h1.2v1.2h-1.2zM233.1,147.7h1.2v1.2h-1.2zM217.9,140.2h1.2v1.2h-1.2zM238.2,69.9h1.2v1.2h-1.2zM245.8,135.4h1.2v1.2h-1.2zM204.2,120.1h1.2v1.2h-1.2zM213.1,84.0h1.2v1.2h-1.2zM222.2,146.5h1.2v1.2h-1.2zM239.7,70.1h1.2v1.2h-1.2zM214.3,141.4h1.2v1.2h-1.2zM211.5,132.2h1.2v1.2h-1.2zM211.7,132.0h1.2v1.2h-1.2zM233.9,70.2h1.2v1.2h-1.2zM212.1,85.8h1.2v1.2h-1.2zM216.3,78.2h1.2v1.2h-1.2zM206.3,114.5h1.2v1.2h-1.2zM218.0,70.3h1.2v1.2h-1.2zM208.3,98.0h1.2v1.2h-1.2zM207.8,93.2h1.2v1.2h-1.2zM255.3,126.3h1.2v1.2h-1.2zM217.5,75.0h1.2v1.2h-1.2zM254.4,109.8h1.2v1.2h-1.2zM211.6,141.3h1.2v1.2h-1.2zM206.5,114.2h1.2v1.2h-1.2zM246.8,136.9h1.2v1.2h-1.2zM237.6,69.8h1.2v1.2h-1.2zM243.3,139.8h1.2v1.2h-1.2zM225.8,146.7h1.2v1.2h-1.2zM228.1,149.7h1.2v1.2h-1.2zM216.3,76.7h1.2v1.2h-1.2zM254.6,114.2h1.2v1.2h-1.2zM254.8,113.1h1.2v1.2h-1.2zM204.5,117.8h1.2v1.2h-1.2zM205.9,122.6h1.2v1.2h-1.2zM236.7,67.0h1.2v1.2h-1.2zM214.6,78.3h1.2v1.2h-1.2zM212.1,72.6h1.2v1.2h-1.2zM213.1,135.1h1.2v1.2h-1.2zM204.2,108.4h1.2v1.2h-1.2zM248.6,130.7h1.2v1.2h-1.2zM228.0,149.3h1.2v1.2h-1.2zM247.7,138.0h1.2v1.2h-1.2zM235.2,146.1h1.2v1.2h-1.2zM252.6,118.8h1.2v1.2h-1.2zM228.1,67.2h1.2v1.2h-1.2zM242.9,76.7h1.2v1.2h-1.2zM227.6,66.1h1.2v1.2h-1.2zM213.6,137.6h1.2v1.2h-1.2zM241.2,70.8h1.2v1.2h-1.2zM247.2,76.0h1.2v1.2h-1.2zM255.0,116.2h1.2v1.2h-1.2zM257.4,104.1h1.2v1.2h-1.2zM221.9,145.0h1.2v1.2h-1.2zM204.4,106.2h1.2v1.2h-1.2zM211.3,131.4h1.2v1.2h-1.2zM223.9,70.8h1.2v1.2h-1.2zM217.3,74.3h1.2v1.2h-1.2zM248.5,85.7h1.2v1.2h-1.2zM251.8,83.8h1.2v1.2h-1.2zM227.1,147.4h1.2v1.2h-1.2zM203.7,111.3h1.2v1.2h-1.2zM205.2,110.7h1.2v1.2h-1.2zM240.4,69.5h1.2v1.2h-1.2zM213.1,80.0h1.2v1.2h-1.2zM252.7,109.9h1.2v1.2h-1.2zM253.8,95.1h1.2v1.2h-1.2zM202.5,87.3h1.2v1.2h-1.2zM248.3,135.4h1.2v1.2h-1.2zM249.7,87.9h1.2v1.2h-1.2zM218.2,75.0h1.2v1.2h-1.2zM220.0,142.4h1.2v1.2h-1.2zM211.5,136.7h1.2v1.2h-1.2zM205.9,90.6h1.2v1.2h-1.2zM213.2,82.7h1.2v1.2h-1.2zM235.1,147.2h1.2v1.2h-1.2zM233.6,67.4h1.2v1.2h-1.2zM205.8,101.7h1.2v1.2h-1.2zM232.2,151.8h1.2v1.2h-1.2zM245.4,136.3h1.2v1.2h-1.2zM208.7,93.9h1.2v1.2h-1.2zM241.7,69.7h1.2v1.2h-1.2zM242.4,149.0h1.2v1.2h-1.2zM216.9,77.1h1.2v1.2h-1.2zM257.9,106.8h1.2v1.2h-1.2zM240.7,71.7h1.2v1.2h-1.2zM254.2,110.7h1.2v1.2h-1.2zM252.8,113.9h1.2v1.2h-1.2zM237.6,69.2h1.2v1.2h-1.2zM204.2,92.2h1.2v1.2h-1.2zM231.2,150.5h1.2v1.2h-1.2zM205.4,107.5h1.2v1.2h-1.2zM211.1,142.0h1.2v1.2h-1.2zM203.5,114.7h1.2v1.2h-1.2zM251.6,91.9h1.2v1.2h-1.2zM246.0,78.0h1.2v1.2h-1.2zM230.6,65.8h1.2v1.2h-1.2zM231.7,148.2h1.2v1.2h-1.2zM241.4,142.1h1.2v1.2h-1.2zM255.5,100.8h1.2v1.2h-1.2zM241.6,75.4h1.2v1.2h-1.2zM249.4,133.1h1.2v1.2h-1.2zM254.8,124.6h1.2v1.2h-1.2zM254.5,108.3h1.2v1.2h-1.2zM209.8,128.9h1.2v1.2h-1.2zM212.2,134.9h1.2v1.2h-1.2zM205.2,109.6h1.2v1.2h-1.2zM251.1,126.8h1.2v1.2h-1.2zM211.8,85.4h1.2v1.2h-1.2zM205.1,101.8h1.2v1.2h-1.2zM254.3,105.7h1.2v1.2h-1.2zM219.4,68.1h1.2v1.2h-1.2zM212.5,80.2h1.2v1.2h-1.2zM252.4,114.3h1.2v1.2h-1.2zM221.8,68.3h1.2v1.2h-1.2zM248.0,135.8h1.2v1.2h-1.2zM243.6,142.0h1.2v1.2h-1.2zM213.8,145.6h1.2v1.2h-1.2zM206.5,95.7h1.2v1.2h-1.2zM247.4,84.1h1.2v1.2h-1.2zM217.8,141.7h1.2v1.2h-1.2zM240.3,144.4h1.2v1.2h-1.2zM253.9,107.8h1.2v1.2h-1.2zM205.5,112.3h1.2v1.2h-1.2zM208.0,94.0h1.2v1.2h-1.2zM248.9,132.2h1.2v1.2h-1.2zM205.2,113.4h1.2v1.2h-1.2zM255.4,90.8h1.2v1.2h-1.2zM219.5,72.7h1.2v1.2h-1.2zM230.8,149.3h1.2v1.2h-1.2zM218.7,74.9h1.2v1.2h-1.2zM254.8,94.0h1.2v1.2h-1.2zM225.0,147.1h1.2v1.2h-1.2zM245.6,79.9h1.2v1.2h-1.2zM248.1,77.5h1.2v1.2h-1.2zM254.4,116.4h1.2v1.2h-1.2zM203.8,117.7h1.2v1.2h-1.2zM256.2,94.4h1.2v1.2h-1.2zM228.0,68.6h1.2v1.2h-1.2zM206.0,114.7h1.2v1.2h-1.2zM253.0,99.3h1.2v1.2h-1.2zM253.7,118.5h1.2v1.2h-1.2zM222.9,148.3h1.2v1.2h-1.2zM234.4,147.8h1.2v1.2h-1.2zM221.4,144.7h1.2v1.2h-1.2zM207.3,122.8h1.2v1.2h-1.2zM238.6,144.8h1.2v1.2h-1.2zM226.8,67.9h1.2v1.2h-1.2zM228.2,65.1h1.2v1.2h-1.2zM210.0,90.4h1.2v1.2h-1.2zM236.7,147.7h1.2v1.2h-1.2zM214.8,136.6h1.2v1.2h-1.2zM256.7,101.2h1.2v1.2h-1.2zM255.2,119.0h1.2v1.2h-1.2zM244.7,137.2h1.2v1.2h-1.2zM210.0,84.5h1.2v1.2h-1.2zM227.9,68.3h1.2v1.2h-1.2zM246.5,137.0h1.2v1.2h-1.2zM206.9,97.1h1.2v1.2h-1.2zM219.1,71.5h1.2v1.2h-1.2zM210.3,86.8h1.2v1.2h-1.2zM245.2,78.3h1.2v1.2h-1.2zM248.8,132.8h1.2v1.2h-1.2zM249.6,89.2h1.2v1.2h-1.2z" fill="#c9c9c9"/>
<path d="M271,94h1.1v1.1h-1.1zM271,102h1.1v1.1h-1.1zM301.5,94h1.1v1.1h-1.1zM301.5,97h1.1v1.1h-1.1zM301.5,100h1.1v1.1h-1.1zM301.5,104h1.1v1.1h-1.1zM285,104h1.1v1.1h-1.1zM285,117h1.1v1.1h-1.1zM178,90h1.1v1.1h-1.1zM178,96h1.1v1.1h-1.1zM178,100h1.1v1.1h-1.1zM189,126h1.1v1.1h-1.1zM266,135h1.1v1.1h-1.1zM262,137h1.1v1.1h-1.1zM258,150h1.1v1.1h-1.1zM252,154h1.1v1.1h-1.1zM234,180h1.1v1.1h-1.1zM229,62h1.1v1.1h-1.1zM232,60h1.1v1.1h-1.1zM236,61h1.1v1.1h-1.1z" fill="#bdbdbd"/>
<path d="M242,77 L249,76 L255,79 L259,84 L260,90 L252,92 L244,92 L240,87 Z" fill="#c1342d" fill-opacity="0.85"/>
<path d="M253.8,85.3h1.2v1.2h-1.2zM238.7,90.0h1.2v1.2h-1.2zM248.2,81.1h1.2v1.2h-1.2zM245.0,85.9h1.2v1.2h-1.2zM250.6,89.8h1.2v1.2h-1.2zM260.7,74.7h1.2v1.2h-1.2zM258.8,72.0h1.2v1.2h-1.2zM247.7,79.1h1.2v1.2h-1.2zM250.8,91.6h1.2v1.2h-1.2zM237.3,74.4h1.2v1.2h-1.2zM242.5,78.9h1.2v1.2h-1.2zM255.5,87.8h1.2v1.2h-1.2zM257.2,72.9h1.2v1.2h-1.2zM259.6,55.1h1.2v1.2h-1.2zM260.8,75.6h1.2v1.2h-1.2zM256.6,84.6h1.2v1.2h-1.2zM257.8,84.4h1.2v1.2h-1.2zM243.0,91.7h1.2v1.2h-1.2zM246.5,88.4h1.2v1.2h-1.2zM238.9,74.4h1.2v1.2h-1.2zM258.5,57.0h1.2v1.2h-1.2zM252.0,63.6h1.2v1.2h-1.2zM241.8,91.5h1.2v1.2h-1.2zM237.0,71.4h1.2v1.2h-1.2zM246.7,83.1h1.2v1.2h-1.2zM249.4,78.2h1.2v1.2h-1.2zM242.6,88.7h1.2v1.2h-1.2zM258.2,82.0h1.2v1.2h-1.2zM254.4,86.0h1.2v1.2h-1.2zM252.2,81.2h1.2v1.2h-1.2zM242.8,61.0h1.2v1.2h-1.2zM251.8,86.4h1.2v1.2h-1.2zM240.1,69.5h1.2v1.2h-1.2zM254.6,87.7h1.2v1.2h-1.2zM246.7,80.4h1.2v1.2h-1.2zM253.0,85.7h1.2v1.2h-1.2zM253.0,81.8h1.2v1.2h-1.2zM250.6,82.2h1.2v1.2h-1.2zM258.4,85.9h1.2v1.2h-1.2zM244.2,88.0h1.2v1.2h-1.2zM244.2,88.7h1.2v1.2h-1.2zM255.8,91.9h1.2v1.2h-1.2zM243.4,72.9h1.2v1.2h-1.2zM262.5,82.6h1.2v1.2h-1.2zM251.4,92.6h1.2v1.2h-1.2zM242.9,78.4h1.2v1.2h-1.2zM244.2,90.7h1.2v1.2h-1.2zM247.7,90.4h1.2v1.2h-1.2zM260.5,92.9h1.2v1.2h-1.2zM257.3,70.9h1.2v1.2h-1.2zM240.1,74.6h1.2v1.2h-1.2zM249.2,82.6h1.2v1.2h-1.2zM245.6,91.2h1.2v1.2h-1.2zM246.3,85.1h1.2v1.2h-1.2zM237.4,86.7h1.2v1.2h-1.2zM247.3,90.5h1.2v1.2h-1.2zM246.3,91.7h1.2v1.2h-1.2zM243.7,93.3h1.2v1.2h-1.2zM250.8,84.0h1.2v1.2h-1.2zM244.0,85.4h1.2v1.2h-1.2zM261.9,83.0h1.2v1.2h-1.2zM255.2,84.2h1.2v1.2h-1.2zM242.9,87.5h1.2v1.2h-1.2zM247.5,89.1h1.2v1.2h-1.2zM242.1,85.7h1.2v1.2h-1.2zM244.5,79.6h1.2v1.2h-1.2zM242.3,90.4h1.2v1.2h-1.2zM240.6,74.5h1.2v1.2h-1.2zM248.4,85.8h1.2v1.2h-1.2zM243.3,68.3h1.2v1.2h-1.2zM254.3,83.5h1.2v1.2h-1.2zM249.5,90.3h1.2v1.2h-1.2zM250.4,79.9h1.2v1.2h-1.2zM241.4,70.1h1.2v1.2h-1.2zM244.9,72.8h1.2v1.2h-1.2zM246.5,83.0h1.2v1.2h-1.2zM256.1,80.1h1.2v1.2h-1.2zM247.9,75.7h1.2v1.2h-1.2zM249.4,91.1h1.2v1.2h-1.2zM254.8,91.2h1.2v1.2h-1.2zM264.7,81.2h1.2v1.2h-1.2zM263.6,88.8h1.2v1.2h-1.2zM259.6,73.7h1.2v1.2h-1.2zM253.1,90.5h1.2v1.2h-1.2zM240.2,71.8h1.2v1.2h-1.2zM254.9,70.8h1.2v1.2h-1.2zM241.1,82.5h1.2v1.2h-1.2zM249.6,88.1h1.2v1.2h-1.2zM252.8,75.4h1.2v1.2h-1.2zM249.9,78.7h1.2v1.2h-1.2zM246.4,88.0h1.2v1.2h-1.2zM240.4,82.7h1.2v1.2h-1.2zM253.6,72.1h1.2v1.2h-1.2zM256.3,71.9h1.2v1.2h-1.2zM247.9,82.7h1.2v1.2h-1.2zM263.6,84.5h1.2v1.2h-1.2zM243.8,80.6h1.2v1.2h-1.2zM256.1,82.0h1.2v1.2h-1.2zM262.9,72.8h1.2v1.2h-1.2zM245.9,85.1h1.2v1.2h-1.2zM246.5,92.0h1.2v1.2h-1.2zM259.2,93.4h1.2v1.2h-1.2zM259.6,71.3h1.2v1.2h-1.2zM252.7,84.7h1.2v1.2h-1.2zM262.3,67.9h1.2v1.2h-1.2zM240.7,90.5h1.2v1.2h-1.2zM257.4,84.3h1.2v1.2h-1.2zM240.3,76.8h1.2v1.2h-1.2zM260.8,81.8h1.2v1.2h-1.2zM247.4,72.2h1.2v1.2h-1.2zM263.9,82.6h1.2v1.2h-1.2zM238.6,92.2h1.2v1.2h-1.2zM244.6,86.2h1.2v1.2h-1.2zM239.6,85.8h1.2v1.2h-1.2zM247.8,75.1h1.2v1.2h-1.2zM261.5,58.6h1.2v1.2h-1.2zM246.9,85.9h1.2v1.2h-1.2zM256.3,84.7h1.2v1.2h-1.2zM238.3,91.8h1.2v1.2h-1.2zM254.9,67.4h1.2v1.2h-1.2zM238.1,73.7h1.2v1.2h-1.2zM243.2,88.5h1.2v1.2h-1.2zM245.1,87.9h1.2v1.2h-1.2zM252.1,75.3h1.2v1.2h-1.2zM264.5,60.7h1.2v1.2h-1.2zM252.5,80.5h1.2v1.2h-1.2zM244.9,77.2h1.2v1.2h-1.2zM248.3,90.2h1.2v1.2h-1.2zM249.7,76.1h1.2v1.2h-1.2zM251.4,88.6h1.2v1.2h-1.2zM244.1,79.7h1.2v1.2h-1.2zM245.1,85.6h1.2v1.2h-1.2zM251.5,85.7h1.2v1.2h-1.2zM243.0,90.2h1.2v1.2h-1.2zM262.8,74.1h1.2v1.2h-1.2zM246.9,90.5h1.2v1.2h-1.2zM248.5,82.5h1.2v1.2h-1.2zM238.1,69.8h1.2v1.2h-1.2zM248.6,91.8h1.2v1.2h-1.2zM262.6,88.5h1.2v1.2h-1.2zM239.6,57.1h1.2v1.2h-1.2zM258.3,83.6h1.2v1.2h-1.2zM248.1,83.6h1.2v1.2h-1.2zM246.1,76.4h1.2v1.2h-1.2zM237.1,82.7h1.2v1.2h-1.2zM252.2,77.1h1.2v1.2h-1.2zM238.8,85.9h1.2v1.2h-1.2zM242.6,86.7h1.2v1.2h-1.2zM238.2,84.3h1.2v1.2h-1.2zM257.2,86.6h1.2v1.2h-1.2zM254.6,82.3h1.2v1.2h-1.2zM248.5,84.6h1.2v1.2h-1.2zM246.5,86.8h1.2v1.2h-1.2zM250.1,82.4h1.2v1.2h-1.2zM255.1,68.2h1.2v1.2h-1.2zM240.5,81.7h1.2v1.2h-1.2zM247.9,89.4h1.2v1.2h-1.2zM261.4,93.3h1.2v1.2h-1.2zM244.2,87.9h1.2v1.2h-1.2zM240.4,85.2h1.2v1.2h-1.2zM262.5,78.9h1.2v1.2h-1.2zM252.3,85.9h1.2v1.2h-1.2zM265.0,74.7h1.2v1.2h-1.2zM249.7,78.3h1.2v1.2h-1.2zM243.2,79.9h1.2v1.2h-1.2zM252.9,87.5h1.2v1.2h-1.2zM250.9,80.9h1.2v1.2h-1.2zM265.0,89.1h1.2v1.2h-1.2zM260.8,86.3h1.2v1.2h-1.2zM255.4,84.7h1.2v1.2h-1.2zM246.0,63.6h1.2v1.2h-1.2zM260.6,87.0h1.2v1.2h-1.2zM257.0,89.7h1.2v1.2h-1.2zM240.9,62.2h1.2v1.2h-1.2zM244.6,92.2h1.2v1.2h-1.2zM253.1,89.3h1.2v1.2h-1.2zM257.9,74.2h1.2v1.2h-1.2zM264.6,91.2h1.2v1.2h-1.2zM255.4,73.2h1.2v1.2h-1.2zM254.7,92.3h1.2v1.2h-1.2zM261.0,82.9h1.2v1.2h-1.2zM256.6,85.6h1.2v1.2h-1.2zM256.0,77.2h1.2v1.2h-1.2zM238.8,66.3h1.2v1.2h-1.2zM249.7,77.7h1.2v1.2h-1.2zM250.9,86.9h1.2v1.2h-1.2zM241.6,79.0h1.2v1.2h-1.2zM246.1,85.3h1.2v1.2h-1.2zM246.8,69.1h1.2v1.2h-1.2zM244.8,90.0h1.2v1.2h-1.2zM249.0,67.6h1.2v1.2h-1.2zM245.6,88.0h1.2v1.2h-1.2zM258.4,83.5h1.2v1.2h-1.2zM239.5,82.3h1.2v1.2h-1.2zM249.3,80.9h1.2v1.2h-1.2zM246.1,83.5h1.2v1.2h-1.2zM244.4,84.0h1.2v1.2h-1.2zM238.9,90.7h1.2v1.2h-1.2zM246.6,75.5h1.2v1.2h-1.2zM239.9,89.3h1.2v1.2h-1.2zM258.9,89.9h1.2v1.2h-1.2zM239.5,59.0h1.2v1.2h-1.2zM249.4,80.3h1.2v1.2h-1.2zM260.2,73.0h1.2v1.2h-1.2zM246.5,93.4h1.2v1.2h-1.2zM240.0,86.6h1.2v1.2h-1.2zM245.9,91.5h1.2v1.2h-1.2zM253.2,80.6h1.2v1.2h-1.2zM250.5,79.2h1.2v1.2h-1.2zM248.4,83.8h1.2v1.2h-1.2zM247.4,77.0h1.2v1.2h-1.2zM255.5,85.4h1.2v1.2h-1.2zM254.2,86.3h1.2v1.2h-1.2zM259.1,78.6h1.2v1.2h-1.2zM255.6,85.2h1.2v1.2h-1.2zM264.1,72.7h1.2v1.2h-1.2zM252.8,78.8h1.2v1.2h-1.2zM238.0,73.2h1.2v1.2h-1.2zM251.5,79.7h1.2v1.2h-1.2zM243.5,82.1h1.2v1.2h-1.2zM253.2,71.9h1.2v1.2h-1.2zM255.8,81.7h1.2v1.2h-1.2zM255.0,76.4h1.2v1.2h-1.2zM252.4,77.8h1.2v1.2h-1.2zM254.1,71.3h1.2v1.2h-1.2zM259.2,88.3h1.2v1.2h-1.2zM255.9,73.8h1.2v1.2h-1.2zM245.9,60.2h1.2v1.2h-1.2zM240.1,77.0h1.2v1.2h-1.2zM241.2,83.4h1.2v1.2h-1.2zM241.9,91.4h1.2v1.2h-1.2zM244.0,83.7h1.2v1.2h-1.2zM262.6,71.8h1.2v1.2h-1.2zM251.8,87.9h1.2v1.2h-1.2zM247.6,72.6h1.2v1.2h-1.2zM250.0,86.5h1.2v1.2h-1.2zM239.8,85.5h1.2v1.2h-1.2zM257.9,79.7h1.2v1.2h-1.2zM237.3,82.0h1.2v1.2h-1.2zM239.0,70.0h1.2v1.2h-1.2zM256.3,70.0h1.2v1.2h-1.2zM245.7,83.3h1.2v1.2h-1.2zM262.1,79.8h1.2v1.2h-1.2zM252.4,73.0h1.2v1.2h-1.2zM247.0,68.3h1.2v1.2h-1.2zM250.2,79.4h1.2v1.2h-1.2zM242.8,82.3h1.2v1.2h-1.2zM247.3,74.2h1.2v1.2h-1.2zM248.5,80.9h1.2v1.2h-1.2zM249.7,82.6h1.2v1.2h-1.2zM249.2,79.2h1.2v1.2h-1.2zM252.8,81.4h1.2v1.2h-1.2zM261.4,92.3h1.2v1.2h-1.2zM255.0,89.6h1.2v1.2h-1.2zM241.1,79.8h1.2v1.2h-1.2zM254.6,91.6h1.2v1.2h-1.2zM252.5,80.9h1.2v1.2h-1.2zM250.9,90.1h1.2v1.2h-1.2zM264.1,61.9h1.2v1.2h-1.2zM264.8,87.5h1.2v1.2h-1.2zM251.0,87.8h1.2v1.2h-1.2zM257.0,80.1h1.2v1.2h-1.2zM253.3,77.6h1.2v1.2h-1.2zM254.5,82.6h1.2v1.2h-1.2zM256.1,70.2h1.2v1.2h-1.2zM262.7,92.2h1.2v1.2h-1.2zM243.4,92.0h1.2v1.2h-1.2zM254.4,84.3h1.2v1.2h-1.2zM249.3,66.6h1.2v1.2h-1.2zM253.8,92.8h1.2v1.2h-1.2zM253.2,85.6h1.2v1.2h-1.2zM247.8,76.8h1.2v1.2h-1.2zM259.9,70.4h1.2v1.2h-1.2zM254.4,89.0h1.2v1.2h-1.2zM237.1,76.6h1.2v1.2h-1.2zM245.9,78.2h1.2v1.2h-1.2zM240.5,88.8h1.2v1.2h-1.2zM254.7,92.7h1.2v1.2h-1.2zM241.8,92.8h1.2v1.2h-1.2zM259.4,91.2h1.2v1.2h-1.2zM261.0,74.6h1.2v1.2h-1.2zM246.7,79.4h1.2v1.2h-1.2zM244.9,85.0h1.2v1.2h-1.2zM253.2,84.7h1.2v1.2h-1.2zM240.2,79.3h1.2v1.2h-1.2zM256.0,92.7h1.2v1.2h-1.2zM249.3,79.3h1.2v1.2h-1.2zM261.3,87.1h1.2v1.2h-1.2zM254.7,64.8h1.2v1.2h-1.2zM252.3,80.0h1.2v1.2h-1.2zM238.6,81.5h1.2v1.2h-1.2zM255.6,68.1h1.2v1.2h-1.2zM264.8,92.2h1.2v1.2h-1.2zM240.0,83.1h1.2v1.2h-1.2zM250.3,87.0h1.2v1.2h-1.2zM251.5,74.7h1.2v1.2h-1.2zM237.1,89.7h1.2v1.2h-1.2zM255.4,86.1h1.2v1.2h-1.2zM252.5,88.3h1.2v1.2h-1.2zM252.1,71.1h1.2v1.2h-1.2zM250.1,92.1h1.2v1.2h-1.2zM249.6,73.2h1.2v1.2h-1.2zM253.6,88.6h1.2v1.2h-1.2zM262.1,92.7h1.2v1.2h-1.2zM245.6,81.0h1.2v1.2h-1.2zM247.0,85.2h1.2v1.2h-1.2zM243.2,80.2h1.2v1.2h-1.2zM245.1,93.4h1.2v1.2h-1.2zM262.4,67.8h1.2v1.2h-1.2zM252.6,89.3h1.2v1.2h-1.2zM251.9,86.9h1.2v1.2h-1.2zM250.7,79.3h1.2v1.2h-1.2zM244.7,71.7h1.2v1.2h-1.2zM241.8,91.3h1.2v1.2h-1.2zM248.6,86.1h1.2v1.2h-1.2zM240.2,89.0h1.2v1.2h-1.2zM241.0,82.1h1.2v1.2h-1.2zM254.9,91.1h1.2v1.2h-1.2zM251.3,71.4h1.2v1.2h-1.2zM244.4,87.2h1.2v1.2h-1.2zM261.8,87.7h1.2v1.2h-1.2zM245.6,78.5h1.2v1.2h-1.2zM244.0,69.3h1.2v1.2h-1.2zM252.9,78.2h1.2v1.2h-1.2zM245.9,78.8h1.2v1.2h-1.2zM251.6,55.2h1.2v1.2h-1.2zM249.1,65.0h1.2v1.2h-1.2zM252.4,86.3h1.2v1.2h-1.2zM249.6,85.3h1.2v1.2h-1.2zM255.6,82.1h1.2v1.2h-1.2zM247.8,74.0h1.2v1.2h-1.2zM246.4,85.1h1.2v1.2h-1.2zM261.6,76.9h1.2v1.2h-1.2zM255.0,90.9h1.2v1.2h-1.2zM251.1,79.3h1.2v1.2h-1.2zM263.2,88.6h1.2v1.2h-1.2zM261.8,85.8h1.2v1.2h-1.2zM251.6,80.3h1.2v1.2h-1.2zM243.7,85.3h1.2v1.2h-1.2zM248.6,76.3h1.2v1.2h-1.2zM257.0,91.6h1.2v1.2h-1.2zM238.4,90.0h1.2v1.2h-1.2zM258.3,86.0h1.2v1.2h-1.2zM244.5,81.6h1.2v1.2h-1.2zM244.8,82.7h1.2v1.2h-1.2zM247.8,81.9h1.2v1.2h-1.2zM256.5,81.6h1.2v1.2h-1.2zM247.7,81.9h1.2v1.2h-1.2zM257.7,79.2h1.2v1.2h-1.2zM256.1,83.7h1.2v1.2h-1.2zM244.3,79.1h1.2v1.2h-1.2zM244.7,78.4h1.2v1.2h-1.2zM248.4,85.9h1.2v1.2h-1.2zM257.5,81.8h1.2v1.2h-1.2zM264.0,85.0h1.2v1.2h-1.2zM238.7,72.8h1.2v1.2h-1.2zM253.6,93.3h1.2v1.2h-1.2zM261.3,84.6h1.2v1.2h-1.2zM263.3,77.8h1.2v1.2h-1.2zM238.9,65.5h1.2v1.2h-1.2zM255.9,78.0h1.2v1.2h-1.2zM252.2,87.5h1.2v1.2h-1.2zM264.4,84.1h1.2v1.2h-1.2zM263.4,83.5h1.2v1.2h-1.2zM240.4,61.9h1.2v1.2h-1.2zM247.3,79.5h1.2v1.2h-1.2zM248.1,85.1h1.2v1.2h-1.2zM237.5,74.9h1.2v1.2h-1.2zM242.9,88.7h1.2v1.2h-1.2zM242.7,88.3h1.2v1.2h-1.2zM253.9,82.0h1.2v1.2h-1.2zM261.0,60.9h1.2v1.2h-1.2zM238.1,77.2h1.2v1.2h-1.2zM241.4,88.0h1.2v1.2h-1.2zM241.0,82.4h1.2v1.2h-1.2zM242.2,82.4h1.2v1.2h-1.2zM255.0,89.2h1.2v1.2h-1.2zM243.6,85.8h1.2v1.2h-1.2zM250.2,80.9h1.2v1.2h-1.2zM248.8,83.6h1.2v1.2h-1.2zM252.0,41.0h1.2v1.2h-1.2zM253.5,41.0h1.2v1.2h-1.2zM255.0,41.0h1.2v1.2h-1.2zM256.5,41.0h1.2v1.2h-1.2zM258.0,41.0h1.2v1.2h-1.2zM259.5,41.0h1.2v1.2h-1.2zM275.5,40.0h1.2v1.2h-1.2zM243.0,54.0h1.2v1.2h-1.2zM252.0,54.0h1.2v1.2h-1.2zM253.0,56.0h1.2v1.2h-1.2zM257.0,54.0h1.2v1.2h-1.2zM260.0,56.0h1.2v1.2h-1.2zM246.0,60.0h1.2v1.2h-1.2zM250.0,63.0h1.2v1.2h-1.2zM255.0,62.0h1.2v1.2h-1.2zM268.0,72.0h1.2v1.2h-1.2zM268.0,76.0h1.2v1.2h-1.2zM286.0,82.0h1.2v1.2h-1.2zM264.0,78.0h1.2v1.2h-1.2zM263.0,70.0h1.2v1.2h-1.2z" fill="#c0302b"/>
<path d="M207,119 L214,117 L222,117 L226,120 L226,132 L225,143 L221,148 L216,147 L210,139 L206,128 Z" fill="#3551a3" fill-opacity="0.75"/>
<path d="M212.9,136.9h1.3v1.3h-1.3zM219.6,135.0h1.3v1.3h-1.3zM216.4,136.2h1.3v1.3h-1.3zM214.3,127.8h1.3v1.3h-1.3zM216.1,130.1h1.3v1.3h-1.3zM212.2,137.4h1.3v1.3h-1.3zM206.6,148.2h1.3v1.3h-1.3zM221.5,116.1h1.3v1.3h-1.3zM216.4,138.1h1.3v1.3h-1.3zM205.6,132.1h1.3v1.3h-1.3zM213.6,145.7h1.3v1.3h-1.3zM214.8,133.4h1.3v1.3h-1.3zM215.3,137.8h1.3v1.3h-1.3zM212.8,123.8h1.3v1.3h-1.3zM205.5,134.8h1.3v1.3h-1.3zM213.9,142.3h1.3v1.3h-1.3zM210.5,150.8h1.3v1.3h-1.3zM218.0,131.9h1.3v1.3h-1.3zM218.3,133.5h1.3v1.3h-1.3zM220.1,122.6h1.3v1.3h-1.3zM217.6,123.5h1.3v1.3h-1.3zM219.7,137.0h1.3v1.3h-1.3zM212.9,135.4h1.3v1.3h-1.3zM215.4,130.9h1.3v1.3h-1.3zM213.5,144.7h1.3v1.3h-1.3zM218.5,127.0h1.3v1.3h-1.3zM212.2,138.2h1.3v1.3h-1.3zM207.2,146.8h1.3v1.3h-1.3zM225.8,139.3h1.3v1.3h-1.3zM222.8,128.6h1.3v1.3h-1.3zM207.0,138.2h1.3v1.3h-1.3zM216.3,122.1h1.3v1.3h-1.3zM216.8,134.5h1.3v1.3h-1.3zM223.4,123.1h1.3v1.3h-1.3zM217.6,127.4h1.3v1.3h-1.3zM227.4,141.5h1.3v1.3h-1.3zM214.5,122.4h1.3v1.3h-1.3zM214.7,119.5h1.3v1.3h-1.3zM213.7,133.3h1.3v1.3h-1.3zM207.9,127.4h1.3v1.3h-1.3zM209.8,122.7h1.3v1.3h-1.3zM227.4,135.8h1.3v1.3h-1.3zM212.1,141.2h1.3v1.3h-1.3zM220.7,131.0h1.3v1.3h-1.3zM215.6,128.7h1.3v1.3h-1.3zM213.5,117.7h1.3v1.3h-1.3zM219.8,128.1h1.3v1.3h-1.3zM217.7,116.2h1.3v1.3h-1.3zM210.0,123.0h1.3v1.3h-1.3zM217.6,133.7h1.3v1.3h-1.3zM209.7,127.9h1.3v1.3h-1.3zM207.7,135.8h1.3v1.3h-1.3zM211.0,136.6h1.3v1.3h-1.3zM221.6,138.5h1.3v1.3h-1.3zM205.0,130.5h1.3v1.3h-1.3zM222.4,136.4h1.3v1.3h-1.3zM223.4,142.2h1.3v1.3h-1.3zM212.8,120.2h1.3v1.3h-1.3zM210.8,142.8h1.3v1.3h-1.3zM211.6,128.7h1.3v1.3h-1.3zM212.6,142.2h1.3v1.3h-1.3zM212.1,126.2h1.3v1.3h-1.3zM224.4,119.2h1.3v1.3h-1.3zM210.2,139.8h1.3v1.3h-1.3zM207.4,142.5h1.3v1.3h-1.3zM213.4,131.4h1.3v1.3h-1.3zM216.4,122.9h1.3v1.3h-1.3zM213.7,138.9h1.3v1.3h-1.3zM208.5,123.3h1.3v1.3h-1.3zM207.0,131.2h1.3v1.3h-1.3zM214.6,138.5h1.3v1.3h-1.3zM218.3,131.9h1.3v1.3h-1.3zM213.2,124.6h1.3v1.3h-1.3zM212.6,154.6h1.3v1.3h-1.3zM213.9,130.9h1.3v1.3h-1.3zM212.8,133.6h1.3v1.3h-1.3zM219.9,127.5h1.3v1.3h-1.3zM219.0,119.3h1.3v1.3h-1.3zM221.4,137.3h1.3v1.3h-1.3zM217.2,136.7h1.3v1.3h-1.3zM201.6,134.8h1.3v1.3h-1.3zM207.8,127.3h1.3v1.3h-1.3zM207.1,133.3h1.3v1.3h-1.3zM212.2,145.1h1.3v1.3h-1.3zM213.9,124.8h1.3v1.3h-1.3zM212.4,124.0h1.3v1.3h-1.3zM207.9,131.7h1.3v1.3h-1.3zM216.2,119.2h1.3v1.3h-1.3zM222.2,132.6h1.3v1.3h-1.3zM204.5,135.4h1.3v1.3h-1.3zM205.9,123.9h1.3v1.3h-1.3zM219.9,144.8h1.3v1.3h-1.3zM212.0,135.9h1.3v1.3h-1.3zM226.9,119.5h1.3v1.3h-1.3zM214.8,133.7h1.3v1.3h-1.3zM209.5,133.8h1.3v1.3h-1.3zM223.0,142.3h1.3v1.3h-1.3zM210.3,144.5h1.3v1.3h-1.3zM222.3,124.7h1.3v1.3h-1.3zM213.8,115.0h1.3v1.3h-1.3zM215.6,124.0h1.3v1.3h-1.3zM214.8,124.7h1.3v1.3h-1.3zM222.9,136.8h1.3v1.3h-1.3zM214.4,138.8h1.3v1.3h-1.3zM212.6,130.6h1.3v1.3h-1.3zM210.6,124.3h1.3v1.3h-1.3zM221.3,150.2h1.3v1.3h-1.3zM205.1,133.1h1.3v1.3h-1.3zM204.7,143.8h1.3v1.3h-1.3zM225.0,138.1h1.3v1.3h-1.3zM207.5,135.5h1.3v1.3h-1.3zM211.8,124.8h1.3v1.3h-1.3zM212.2,132.0h1.3v1.3h-1.3zM216.0,140.7h1.3v1.3h-1.3zM214.6,119.5h1.3v1.3h-1.3zM225.0,149.1h1.3v1.3h-1.3zM220.1,140.4h1.3v1.3h-1.3zM208.9,121.1h1.3v1.3h-1.3zM212.1,118.1h1.3v1.3h-1.3zM208.1,127.2h1.3v1.3h-1.3zM209.6,144.5h1.3v1.3h-1.3zM219.0,130.7h1.3v1.3h-1.3zM215.7,117.1h1.3v1.3h-1.3zM210.8,149.4h1.3v1.3h-1.3zM213.9,131.9h1.3v1.3h-1.3zM222.7,121.5h1.3v1.3h-1.3zM213.5,139.7h1.3v1.3h-1.3zM203.0,135.1h1.3v1.3h-1.3zM220.6,120.1h1.3v1.3h-1.3zM208.3,128.8h1.3v1.3h-1.3zM216.1,129.7h1.3v1.3h-1.3zM213.8,128.5h1.3v1.3h-1.3zM218.5,141.8h1.3v1.3h-1.3zM213.1,128.5h1.3v1.3h-1.3zM223.3,128.8h1.3v1.3h-1.3zM224.3,124.2h1.3v1.3h-1.3zM220.4,126.9h1.3v1.3h-1.3zM212.1,124.2h1.3v1.3h-1.3zM217.3,127.6h1.3v1.3h-1.3zM214.8,146.4h1.3v1.3h-1.3zM209.3,138.3h1.3v1.3h-1.3zM211.9,126.2h1.3v1.3h-1.3zM218.3,121.5h1.3v1.3h-1.3zM213.1,115.2h1.3v1.3h-1.3zM211.5,122.8h1.3v1.3h-1.3zM227.8,139.5h1.3v1.3h-1.3zM214.9,126.1h1.3v1.3h-1.3zM214.1,143.4h1.3v1.3h-1.3zM221.6,129.9h1.3v1.3h-1.3zM211.8,148.3h1.3v1.3h-1.3zM207.5,137.2h1.3v1.3h-1.3zM222.4,137.6h1.3v1.3h-1.3zM219.3,153.7h1.3v1.3h-1.3zM211.4,142.4h1.3v1.3h-1.3zM210.7,135.9h1.3v1.3h-1.3zM220.4,126.5h1.3v1.3h-1.3zM210.3,131.4h1.3v1.3h-1.3zM204.9,140.7h1.3v1.3h-1.3zM219.6,138.9h1.3v1.3h-1.3zM207.4,140.9h1.3v1.3h-1.3zM220.5,127.0h1.3v1.3h-1.3zM213.3,132.8h1.3v1.3h-1.3zM225.9,132.4h1.3v1.3h-1.3zM224.1,115.3h1.3v1.3h-1.3zM224.3,124.9h1.3v1.3h-1.3zM221.1,136.2h1.3v1.3h-1.3zM206.0,116.4h1.3v1.3h-1.3zM221.1,126.5h1.3v1.3h-1.3zM204.4,132.2h1.3v1.3h-1.3zM210.3,131.9h1.3v1.3h-1.3zM212.2,132.7h1.3v1.3h-1.3zM206.2,129.7h1.3v1.3h-1.3zM210.6,129.2h1.3v1.3h-1.3zM209.4,128.8h1.3v1.3h-1.3zM216.6,123.3h1.3v1.3h-1.3zM207.6,120.7h1.3v1.3h-1.3zM214.7,124.5h1.3v1.3h-1.3zM214.7,126.0h1.3v1.3h-1.3zM209.4,144.4h1.3v1.3h-1.3zM217.5,135.4h1.3v1.3h-1.3zM202.5,116.7h1.3v1.3h-1.3zM209.3,139.3h1.3v1.3h-1.3zM211.3,131.1h1.3v1.3h-1.3zM212.8,139.9h1.3v1.3h-1.3zM219.0,152.5h1.3v1.3h-1.3zM214.0,138.7h1.3v1.3h-1.3zM210.9,127.9h1.3v1.3h-1.3zM213.1,137.3h1.3v1.3h-1.3zM217.1,129.2h1.3v1.3h-1.3zM212.9,119.5h1.3v1.3h-1.3zM212.1,130.3h1.3v1.3h-1.3zM215.6,122.3h1.3v1.3h-1.3zM215.0,146.2h1.3v1.3h-1.3zM211.1,121.8h1.3v1.3h-1.3zM219.9,149.0h1.3v1.3h-1.3zM211.8,128.1h1.3v1.3h-1.3zM213.5,122.6h1.3v1.3h-1.3zM208.5,130.2h1.3v1.3h-1.3zM210.7,124.1h1.3v1.3h-1.3zM212.9,124.1h1.3v1.3h-1.3zM212.6,135.8h1.3v1.3h-1.3zM218.2,140.2h1.3v1.3h-1.3zM213.2,136.5h1.3v1.3h-1.3zM207.6,140.4h1.3v1.3h-1.3zM210.6,134.9h1.3v1.3h-1.3zM217.5,119.0h1.3v1.3h-1.3zM211.3,131.9h1.3v1.3h-1.3zM218.1,116.9h1.3v1.3h-1.3zM209.7,139.1h1.3v1.3h-1.3zM221.4,139.3h1.3v1.3h-1.3zM216.3,146.0h1.3v1.3h-1.3zM226.8,125.0h1.3v1.3h-1.3zM215.3,125.9h1.3v1.3h-1.3zM216.4,130.4h1.3v1.3h-1.3zM221.5,132.7h1.3v1.3h-1.3zM220.3,131.1h1.3v1.3h-1.3zM213.6,135.4h1.3v1.3h-1.3zM213.2,123.7h1.3v1.3h-1.3zM208.3,127.4h1.3v1.3h-1.3zM211.2,135.9h1.3v1.3h-1.3zM212.1,132.7h1.3v1.3h-1.3zM214.9,117.4h1.3v1.3h-1.3zM218.5,123.3h1.3v1.3h-1.3zM208.2,134.0h1.3v1.3h-1.3zM209.7,135.5h1.3v1.3h-1.3zM214.4,149.6h1.3v1.3h-1.3zM215.0,118.8h1.3v1.3h-1.3zM221.0,135.0h1.3v1.3h-1.3zM206.8,123.1h1.3v1.3h-1.3zM215.4,143.7h1.3v1.3h-1.3zM207.7,120.0h1.3v1.3h-1.3zM215.3,127.5h1.3v1.3h-1.3zM224.3,138.6h1.3v1.3h-1.3zM214.6,133.7h1.3v1.3h-1.3zM209.0,120.5h1.3v1.3h-1.3zM210.5,137.1h1.3v1.3h-1.3zM223.1,130.7h1.3v1.3h-1.3zM211.0,141.9h1.3v1.3h-1.3zM221.9,130.0h1.3v1.3h-1.3zM228.9,135.0h1.3v1.3h-1.3zM216.8,129.7h1.3v1.3h-1.3zM221.7,132.0h1.3v1.3h-1.3zM207.2,141.1h1.3v1.3h-1.3zM219.6,154.2h1.3v1.3h-1.3zM210.3,138.9h1.3v1.3h-1.3zM211.0,138.1h1.3v1.3h-1.3zM216.9,139.7h1.3v1.3h-1.3zM217.1,146.9h1.3v1.3h-1.3zM212.7,139.7h1.3v1.3h-1.3zM202.8,134.7h1.3v1.3h-1.3zM220.9,133.0h1.3v1.3h-1.3zM214.2,143.9h1.3v1.3h-1.3zM216.3,120.9h1.3v1.3h-1.3zM220.8,120.8h1.3v1.3h-1.3zM216.4,124.0h1.3v1.3h-1.3zM218.7,126.8h1.3v1.3h-1.3zM212.7,127.5h1.3v1.3h-1.3zM227.1,132.9h1.3v1.3h-1.3zM211.6,125.3h1.3v1.3h-1.3zM202.1,130.1h1.3v1.3h-1.3zM220.9,144.2h1.3v1.3h-1.3zM212.5,132.0h1.3v1.3h-1.3zM220.1,142.9h1.3v1.3h-1.3zM221.4,134.8h1.3v1.3h-1.3zM208.7,129.9h1.3v1.3h-1.3zM219.9,122.8h1.3v1.3h-1.3zM219.6,130.2h1.3v1.3h-1.3zM216.8,137.7h1.3v1.3h-1.3zM213.2,125.3h1.3v1.3h-1.3zM219.7,118.5h1.3v1.3h-1.3zM219.7,141.3h1.3v1.3h-1.3zM215.6,137.2h1.3v1.3h-1.3zM214.1,138.9h1.3v1.3h-1.3zM219.8,120.9h1.3v1.3h-1.3zM217.7,134.5h1.3v1.3h-1.3zM224.9,135.0h1.3v1.3h-1.3zM216.5,128.6h1.3v1.3h-1.3zM211.7,132.3h1.3v1.3h-1.3zM214.2,149.4h1.3v1.3h-1.3zM223.7,145.2h1.3v1.3h-1.3zM219.6,137.5h1.3v1.3h-1.3zM209.5,134.4h1.3v1.3h-1.3zM212.5,133.2h1.3v1.3h-1.3zM216.3,122.3h1.3v1.3h-1.3zM208.7,133.3h1.3v1.3h-1.3zM215.5,147.1h1.3v1.3h-1.3zM208.6,132.4h1.3v1.3h-1.3zM213.2,118.2h1.3v1.3h-1.3zM215.5,146.2h1.3v1.3h-1.3zM212.4,136.4h1.3v1.3h-1.3zM212.1,144.4h1.3v1.3h-1.3zM215.4,137.6h1.3v1.3h-1.3zM205.6,136.9h1.3v1.3h-1.3zM216.4,123.6h1.3v1.3h-1.3zM219.2,126.0h1.3v1.3h-1.3zM216.4,142.3h1.3v1.3h-1.3zM219.7,137.9h1.3v1.3h-1.3zM219.6,130.9h1.3v1.3h-1.3zM216.7,135.5h1.3v1.3h-1.3zM213.0,128.0h1.3v1.3h-1.3zM220.0,138.4h1.3v1.3h-1.3zM209.9,136.6h1.3v1.3h-1.3zM219.9,133.5h1.3v1.3h-1.3zM214.6,133.4h1.3v1.3h-1.3zM218.4,140.6h1.3v1.3h-1.3zM216.3,133.9h1.3v1.3h-1.3zM220.5,143.8h1.3v1.3h-1.3zM226.1,134.1h1.3v1.3h-1.3zM217.7,125.7h1.3v1.3h-1.3zM218.3,119.6h1.3v1.3h-1.3zM210.0,123.4h1.3v1.3h-1.3zM206.7,127.3h1.3v1.3h-1.3zM221.7,145.6h1.3v1.3h-1.3zM222.3,140.6h1.3v1.3h-1.3zM214.3,127.3h1.3v1.3h-1.3zM208.6,123.5h1.3v1.3h-1.3zM214.7,127.5h1.3v1.3h-1.3zM209.6,128.0h1.3v1.3h-1.3zM210.6,130.5h1.3v1.3h-1.3zM207.2,126.3h1.3v1.3h-1.3zM212.8,144.9h1.3v1.3h-1.3zM217.3,145.4h1.3v1.3h-1.3zM210.7,135.2h1.3v1.3h-1.3zM218.1,125.2h1.3v1.3h-1.3zM214.6,137.9h1.3v1.3h-1.3zM211.3,125.9h1.3v1.3h-1.3zM219.9,138.6h1.3v1.3h-1.3zM221.9,132.5h1.3v1.3h-1.3zM218.2,123.5h1.3v1.3h-1.3zM218.6,137.6h1.3v1.3h-1.3zM216.2,130.9h1.3v1.3h-1.3zM214.2,137.3h1.3v1.3h-1.3zM214.2,129.0h1.3v1.3h-1.3zM209.4,140.5h1.3v1.3h-1.3zM216.9,126.5h1.3v1.3h-1.3zM220.4,146.8h1.3v1.3h-1.3zM220.8,143.5h1.3v1.3h-1.3zM220.8,134.0h1.3v1.3h-1.3zM218.6,125.7h1.3v1.3h-1.3zM214.4,125.0h1.3v1.3h-1.3zM219.6,124.5h1.3v1.3h-1.3zM213.9,124.7h1.3v1.3h-1.3zM203.0,120.9h1.3v1.3h-1.3zM215.3,136.4h1.3v1.3h-1.3zM212.0,118.5h1.3v1.3h-1.3zM206.4,132.5h1.3v1.3h-1.3zM213.8,135.4h1.3v1.3h-1.3zM212.7,143.7h1.3v1.3h-1.3zM209.0,122.0h1.3v1.3h-1.3zM217.6,131.8h1.3v1.3h-1.3zM219.6,127.4h1.3v1.3h-1.3zM220.8,142.5h1.3v1.3h-1.3zM214.9,139.4h1.3v1.3h-1.3zM217.8,136.3h1.3v1.3h-1.3zM209.5,131.2h1.3v1.3h-1.3zM214.4,122.3h1.3v1.3h-1.3zM216.9,152.8h1.3v1.3h-1.3zM214.7,137.4h1.3v1.3h-1.3zM203.2,127.9h1.3v1.3h-1.3zM200.2,132.6h1.3v1.3h-1.3zM209.2,118.7h1.3v1.3h-1.3zM225.6,126.0h1.3v1.3h-1.3zM213.5,138.0h1.3v1.3h-1.3zM217.4,123.9h1.3v1.3h-1.3zM218.0,128.3h1.3v1.3h-1.3zM212.0,138.9h1.3v1.3h-1.3zM215.6,121.3h1.3v1.3h-1.3zM212.5,139.0h1.3v1.3h-1.3zM208.0,118.6h1.3v1.3h-1.3zM208.4,150.4h1.3v1.3h-1.3zM213.2,150.4h1.3v1.3h-1.3zM217.2,129.3h1.3v1.3h-1.3zM207.5,128.7h1.3v1.3h-1.3zM217.3,129.4h1.3v1.3h-1.3zM219.7,138.2h1.3v1.3h-1.3zM217.8,133.0h1.3v1.3h-1.3zM214.1,139.7h1.3v1.3h-1.3zM216.0,129.8h1.3v1.3h-1.3zM218.2,128.0h1.3v1.3h-1.3zM213.2,140.7h1.3v1.3h-1.3zM207.6,134.2h1.3v1.3h-1.3zM216.2,133.6h1.3v1.3h-1.3zM213.3,142.9h1.3v1.3h-1.3zM217.0,126.7h1.3v1.3h-1.3zM214.3,139.2h1.3v1.3h-1.3zM222.8,135.5h1.3v1.3h-1.3zM215.2,124.6h1.3v1.3h-1.3zM213.8,144.7h1.3v1.3h-1.3zM216.4,131.1h1.3v1.3h-1.3zM207.2,131.1h1.3v1.3h-1.3zM216.2,121.6h1.3v1.3h-1.3zM211.3,132.3h1.3v1.3h-1.3zM221.4,139.8h1.3v1.3h-1.3zM220.0,123.9h1.3v1.3h-1.3zM217.3,154.7h1.3v1.3h-1.3zM214.0,135.8h1.3v1.3h-1.3zM215.6,134.1h1.3v1.3h-1.3zM214.7,139.9h1.3v1.3h-1.3zM218.5,136.7h1.3v1.3h-1.3zM214.6,122.0h1.3v1.3h-1.3zM212.0,130.2h1.3v1.3h-1.3zM215.5,139.0h1.3v1.3h-1.3zM212.8,135.0h1.3v1.3h-1.3zM205.8,123.5h1.3v1.3h-1.3zM220.8,140.1h1.3v1.3h-1.3zM209.7,127.7h1.3v1.3h-1.3zM217.9,123.5h1.3v1.3h-1.3zM212.1,147.7h1.3v1.3h-1.3zM219.2,126.0h1.3v1.3h-1.3zM206.1,122.7h1.3v1.3h-1.3zM207.8,138.1h1.3v1.3h-1.3zM212.4,127.9h1.3v1.3h-1.3zM208.0,128.0h1.3v1.3h-1.3zM216.6,140.4h1.3v1.3h-1.3zM218.6,131.7h1.3v1.3h-1.3zM216.3,121.0h1.3v1.3h-1.3zM225.6,142.3h1.3v1.3h-1.3zM202.8,133.8h1.3v1.3h-1.3zM209.3,128.7h1.3v1.3h-1.3zM215.7,142.2h1.3v1.3h-1.3zM179.8,125.6h1.3v1.3h-1.3zM179.8,132.7h1.3v1.3h-1.3zM192.0,136.0h1.3v1.3h-1.3zM191.5,141.0h1.3v1.3h-1.3zM193.0,156.0h1.3v1.3h-1.3zM217.0,162.5h1.3v1.3h-1.3zM196.0,148.0h1.3v1.3h-1.3zM200.0,152.0h1.3v1.3h-1.3zM188.0,149.0h1.3v1.3h-1.3zM206.0,158.0h1.3v1.3h-1.3zM211.0,159.0h1.3v1.3h-1.3zM213.0,157.0h1.3v1.3h-1.3zM221.0,148.0h1.3v1.3h-1.3zM218.0,153.0h1.3v1.3h-1.3zM221.5,179.5h1.3v1.3h-1.3zM197.0,129.0h1.3v1.3h-1.3zM200.0,123.0h1.3v1.3h-1.3zM203.0,124.0h1.3v1.3h-1.3zM198.0,139.0h1.3v1.3h-1.3zM204.0,150.0h1.3v1.3h-1.3z" fill="#2f4ca3"/>
<line x1="174.2" y1="33" x2="174.2" y2="187.6" stroke="#231f20" stroke-width="1.3"/>
<line x1="173.6" y1="187" x2="307.5" y2="187" stroke="#231f20" stroke-width="1.3"/>
<line x1="170.5" y1="183.00" x2="174" y2="183.00" stroke="#231f20" stroke-width="0.8"/>
<text x="167.20" y="185.65" font-size="7.4" fill="#231f20" stroke="#231f20" stroke-width="0.07" text-anchor="end">-4</text>
<line x1="170.5" y1="163.40" x2="174" y2="163.40" stroke="#231f20" stroke-width="0.8"/>
<text x="167.20" y="166.05" font-size="7.4" fill="#231f20" stroke="#231f20" stroke-width="0.07" text-anchor="end">-3</text>
<line x1="170.5" y1="143.80" x2="174" y2="143.80" stroke="#231f20" stroke-width="0.8"/>
<text x="167.20" y="146.45" font-size="7.4" fill="#231f20" stroke="#231f20" stroke-width="0.07" text-anchor="end">-2</text>
<line x1="170.5" y1="124.20" x2="174" y2="124.20" stroke="#231f20" stroke-width="0.8"/>
<text x="167.20" y="126.85" font-size="7.4" fill="#231f20" stroke="#231f20" stroke-width="0.07" text-anchor="end">-1</text>
<line x1="170.5" y1="104.60" x2="174" y2="104.60" stroke="#231f20" stroke-width="0.8"/>
<text x="167.20" y="107.25" font-size="7.4" fill="#231f20" stroke="#231f20" stroke-width="0.07" text-anchor="end">0</text>
<line x1="170.5" y1="85.00" x2="174" y2="85.00" stroke="#231f20" stroke-width="0.8"/>
<text x="167.20" y="87.65" font-size="7.4" fill="#231f20" stroke="#231f20" stroke-width="0.07" text-anchor="end">1</text>
<line x1="170.5" y1="65.40" x2="174" y2="65.40" stroke="#231f20" stroke-width="0.8"/>
<text x="167.20" y="68.05" font-size="7.4" fill="#231f20" stroke="#231f20" stroke-width="0.07" text-anchor="end">2</text>
<line x1="170.5" y1="45.80" x2="174" y2="45.80" stroke="#231f20" stroke-width="0.8"/>
<text x="167.20" y="48.45" font-size="7.4" fill="#231f20" stroke="#231f20" stroke-width="0.07" text-anchor="end">3</text>
<line x1="183.20" y1="187" x2="183.20" y2="190.5" stroke="#231f20" stroke-width="0.8"/>
<text x="183.20" y="196.35" font-size="7.4" fill="#231f20" stroke="#231f20" stroke-width="0.07" text-anchor="middle">-2</text>
<line x1="207.60" y1="187" x2="207.60" y2="190.5" stroke="#231f20" stroke-width="0.8"/>
<text x="207.60" y="196.35" font-size="7.4" fill="#231f20" stroke="#231f20" stroke-width="0.07" text-anchor="middle">-1</text>
<line x1="232.00" y1="187" x2="232.00" y2="190.5" stroke="#231f20" stroke-width="0.8"/>
<text x="232.00" y="196.35" font-size="7.4" fill="#231f20" stroke="#231f20" stroke-width="0.07" text-anchor="middle">0</text>
<line x1="256.40" y1="187" x2="256.40" y2="190.5" stroke="#231f20" stroke-width="0.8"/>
<text x="256.40" y="196.35" font-size="7.4" fill="#231f20" stroke="#231f20" stroke-width="0.07" text-anchor="middle">1</text>
<line x1="280.80" y1="187" x2="280.80" y2="190.5" stroke="#231f20" stroke-width="0.8"/>
<text x="280.80" y="196.35" font-size="7.4" fill="#231f20" stroke="#231f20" stroke-width="0.07" text-anchor="middle">2</text>
<line x1="305.20" y1="187" x2="305.20" y2="190.5" stroke="#231f20" stroke-width="0.8"/>
<text x="305.20" y="196.35" font-size="7.4" fill="#231f20" stroke="#231f20" stroke-width="0.07" text-anchor="middle">3</text>
<text x="187.40" y="209.75" font-size="8.8" fill="#231f20" stroke="#231f20" stroke-width="0.07" text-anchor="start" textLength="105.60" lengthAdjust="spacingAndGlyphs">ATAC-seq (log2FC GATA1/GATA1s)</text>
<g transform="translate(155.6,109.5) rotate(-90)">
<text x="-60" y="3.15" font-size="8.8" fill="#231f20" stroke="#231f20" stroke-width="0.12" textLength="120" lengthAdjust="spacingAndGlyphs">CUT&amp;RUN-seq (log2FC GATA1/GATA1s)</text></g>
<text x="208.50" y="43.66" font-size="8.0" fill="#c8413a" stroke="#c8413a" stroke-width="0.07" font-style="italic" text-anchor="start" textLength="32.50" lengthAdjust="spacingAndGlyphs">Fli1, Mef2c</text>
<text x="187.50" y="176.36" font-size="8.0" fill="#3b56a8" stroke="#3b56a8" stroke-width="0.07" font-style="italic" text-anchor="start" textLength="40.50" lengthAdjust="spacingAndGlyphs">Lmo2, Zfpm1</text>
<line x1="265.8" y1="69.6" x2="313.3" y2="53" stroke="#231f20" stroke-width="1.2" marker-end="url(#ah)"/>
<line x1="226.7" y1="151.3" x2="312.3" y2="126.3" stroke="#231f20" stroke-width="1.2" marker-end="url(#ah)"/>
<text x="333.50" y="13.38" font-size="7.2" fill="#231f20" stroke="#231f20" stroke-width="0.07" text-anchor="start" textLength="45.30" lengthAdjust="spacingAndGlyphs">CUT&amp;RUN-seq</text>
<line x1="333.5" y1="17.7" x2="378.4" y2="17.7" stroke="#231f20" stroke-width="1"/>
<text x="336.50" y="27.18" font-size="7.2" fill="#231f20" stroke="#231f20" stroke-width="0.07" text-anchor="middle">G1</text>
<text x="374.20" y="27.18" font-size="7.2" fill="#231f20" stroke="#231f20" stroke-width="0.07" text-anchor="middle">G1s</text>
<text x="427.40" y="13.38" font-size="7.2" fill="#231f20" stroke="#231f20" stroke-width="0.07" text-anchor="start" textLength="29.60" lengthAdjust="spacingAndGlyphs">ATAC-seq</text>
<line x1="419" y1="17.7" x2="464.6" y2="17.7" stroke="#231f20" stroke-width="1"/>
<text x="423.00" y="27.18" font-size="7.2" fill="#231f20" stroke="#231f20" stroke-width="0.07" text-anchor="middle">G1</text>
<text x="459.70" y="27.18" font-size="7.2" fill="#231f20" stroke="#231f20" stroke-width="0.07" text-anchor="middle">G1s</text>
<rect x="318.4" y="31.5" width="35.40" height="32.30" fill="#fff"/>
<path d="M320.40,61.47 L321.03,61.46 L321.66,61.44 L322.28,61.41 L322.91,61.37 L323.54,61.32 L324.17,61.25 L324.80,61.15 L325.42,61.03 L326.05,60.87 L326.68,60.67 L327.31,60.42 L327.94,60.11 L328.56,59.75 L329.19,59.34 L329.82,58.86 L330.45,58.33 L331.08,57.76 L331.70,57.15 L332.33,56.51 L332.96,55.85 L333.59,55.20 L334.22,54.55 L334.84,53.90 L335.47,53.26 L336.10,52.60 L336.73,53.26 L337.36,53.90 L337.98,54.55 L338.61,55.20 L339.24,55.85 L339.87,56.51 L340.50,57.15 L341.12,57.76 L341.75,58.33 L342.38,58.86 L343.01,59.34 L343.64,59.75 L344.26,60.11 L344.89,60.42 L345.52,60.67 L346.15,60.87 L346.78,61.03 L347.40,61.15 L348.03,61.25 L348.66,61.32 L349.29,61.37 L349.92,61.41 L350.54,61.44 L351.17,61.46 L351.80,61.47 L351.80,63.00 L351.17,63.00 L350.54,63.00 L349.92,63.00 L349.29,63.00 L348.66,63.00 L348.03,63.00 L347.40,63.00 L346.78,63.00 L346.15,63.00 L345.52,63.00 L344.89,63.00 L344.26,63.00 L343.64,63.00 L343.01,63.00 L342.38,63.00 L341.75,63.00 L341.12,63.00 L340.50,63.00 L339.87,63.00 L339.24,63.00 L338.61,63.00 L337.98,63.00 L337.36,63.00 L336.73,63.00 L336.10,63.00 L335.47,63.00 L334.84,63.00 L334.22,63.00 L333.59,63.00 L332.96,63.00 L332.33,63.00 L331.70,63.00 L331.08,63.00 L330.45,63.00 L329.82,63.00 L329.19,63.00 L328.56,63.00 L327.94,63.00 L327.31,63.00 L326.68,63.00 L326.05,63.00 L325.42,63.00 L324.80,63.00 L324.17,63.00 L323.54,63.00 L322.91,63.00 L322.28,63.00 L321.66,63.00 L321.03,63.00 L320.40,63.00 Z" fill="#e3e8f2" fill-opacity="1.0"/>
<path d="M320.40,62.30 L321.03,62.30 L321.66,62.30 L322.28,62.30 L322.91,62.30 L323.54,62.29 L324.17,62.29 L324.80,62.28 L325.42,62.27 L326.05,62.26 L326.68,62.23 L327.31,62.20 L327.94,62.15 L328.56,62.08 L329.19,61.98 L329.82,61.86 L330.45,61.71 L331.08,61.53 L331.70,61.32 L332.33,61.08 L332.96,60.83 L333.59,60.57 L334.22,60.30 L334.84,60.03 L335.47,59.77 L336.10,59.50 L336.73,59.77 L337.36,60.03 L337.98,60.30 L338.61,60.57 L339.24,60.83 L339.87,61.08 L340.50,61.32 L341.12,61.53 L341.75,61.71 L342.38,61.86 L343.01,61.98 L343.64,62.08 L344.26,62.15 L344.89,62.20 L345.52,62.23 L346.15,62.26 L346.78,62.27 L347.40,62.28 L348.03,62.29 L348.66,62.29 L349.29,62.30 L349.92,62.30 L350.54,62.30 L351.17,62.30 L351.80,62.30 L351.80,62.30 L351.17,62.30 L350.54,62.30 L349.92,62.30 L349.29,62.30 L348.66,62.30 L348.03,62.30 L347.40,62.30 L346.78,62.30 L346.15,62.31 L345.52,62.31 L344.89,62.31 L344.26,62.32 L343.64,62.33 L343.01,62.34 L342.38,62.36 L341.75,62.38 L341.12,62.40 L340.50,62.43 L339.87,62.46 L339.24,62.50 L338.61,62.54 L337.98,62.57 L337.36,62.61 L336.73,62.64 L336.10,62.68 L335.47,62.64 L334.84,62.61 L334.22,62.57 L333.59,62.54 L332.96,62.50 L332.33,62.46 L331.70,62.43 L331.08,62.40 L330.45,62.38 L329.82,62.36 L329.19,62.34 L328.56,62.33 L327.94,62.32 L327.31,62.31 L326.68,62.31 L326.05,62.31 L325.42,62.30 L324.80,62.30 L324.17,62.30 L323.54,62.30 L322.91,62.30 L322.28,62.30 L321.66,62.30 L321.03,62.30 L320.40,62.30 Z" fill="#92a8cd" fill-opacity="1.0"/>
<path d="M320.40,62.87 L321.03,62.86 L321.66,62.85 L322.28,62.84 L322.91,62.82 L323.54,62.79 L324.17,62.77 L324.80,62.73 L325.42,62.70 L326.05,62.65 L326.68,62.60 L327.31,62.54 L327.94,62.47 L328.56,62.40 L329.19,62.32 L329.82,62.24 L330.45,62.15 L331.08,62.06 L331.70,61.97 L332.33,61.87 L332.96,61.77 L333.59,61.68 L334.22,61.58 L334.84,61.49 L335.47,61.40 L336.10,61.30 L336.73,61.40 L337.36,61.49 L337.98,61.58 L338.61,61.68 L339.24,61.77 L339.87,61.87 L340.50,61.97 L341.12,62.06 L341.75,62.15 L342.38,62.24 L343.01,62.32 L343.64,62.40 L344.26,62.47 L344.89,62.54 L345.52,62.60 L346.15,62.65 L346.78,62.70 L347.40,62.73 L348.03,62.77 L348.66,62.79 L349.29,62.82 L349.92,62.84 L350.54,62.85 L351.17,62.86 L351.80,62.87 L351.80,62.20 L351.17,62.20 L350.54,62.21 L349.92,62.21 L349.29,62.21 L348.66,62.21 L348.03,62.22 L347.40,62.22 L346.78,62.23 L346.15,62.23 L345.52,62.24 L344.89,62.24 L344.26,62.25 L343.64,62.26 L343.01,62.27 L342.38,62.28 L341.75,62.29 L341.12,62.30 L340.50,62.32 L339.87,62.33 L339.24,62.34 L338.61,62.35 L337.98,62.36 L337.36,62.38 L336.73,62.39 L336.10,62.40 L335.47,62.39 L334.84,62.38 L334.22,62.36 L333.59,62.35 L332.96,62.34 L332.33,62.33 L331.70,62.32 L331.08,62.30 L330.45,62.29 L329.82,62.28 L329.19,62.27 L328.56,62.26 L327.94,62.25 L327.31,62.24 L326.68,62.24 L326.05,62.23 L325.42,62.23 L324.80,62.22 L324.17,62.22 L323.54,62.21 L322.91,62.21 L322.28,62.21 L321.66,62.21 L321.03,62.20 L320.40,62.20 Z" fill="#6a86bb" fill-opacity="0.45"/>
<path d="M320.40,62.57 L321.03,62.56 L321.66,62.55 L322.28,62.54 L322.91,62.52 L323.54,62.49 L324.17,62.47 L324.80,62.43 L325.42,62.40 L326.05,62.35 L326.68,62.30 L327.31,62.24 L327.94,62.17 L328.56,62.10 L329.19,62.02 L329.82,61.94 L330.45,61.85 L331.08,61.76 L331.70,61.67 L332.33,61.57 L332.96,61.47 L333.59,61.38 L334.22,61.28 L334.84,61.19 L335.47,61.10 L336.10,61.00 L336.73,61.10 L337.36,61.19 L337.98,61.28 L338.61,61.38 L339.24,61.47 L339.87,61.57 L340.50,61.67 L341.12,61.76 L341.75,61.85 L342.38,61.94 L343.01,62.02 L343.64,62.10 L344.26,62.17 L344.89,62.24 L345.52,62.30 L346.15,62.35 L346.78,62.40 L347.40,62.43 L348.03,62.47 L348.66,62.49 L349.29,62.52 L349.92,62.54 L350.54,62.55 L351.17,62.56 L351.80,62.57" fill="none" stroke="#22202a" stroke-width="1.05"/>
<rect x="318.4" y="31.5" width="35.40" height="32.30" fill="none" stroke="#606060" stroke-width="1.15"/>
<rect x="356.2" y="31.5" width="35.70" height="32.30" fill="#fff"/>
<path d="M358.20,58.32 L358.83,58.13 L359.47,57.89 L360.10,57.60 L360.74,57.24 L361.37,56.81 L362.00,56.30 L362.64,55.70 L363.27,55.01 L363.91,54.22 L364.54,53.32 L365.17,52.33 L365.81,51.23 L366.44,50.03 L367.08,48.75 L367.71,47.40 L368.34,45.99 L368.98,44.53 L369.61,43.04 L370.25,41.54 L370.88,40.03 L371.51,38.54 L372.15,37.06 L372.78,35.58 L373.42,34.11 L374.05,32.60 L374.68,34.11 L375.32,35.58 L375.95,37.06 L376.59,38.54 L377.22,40.03 L377.85,41.54 L378.49,43.04 L379.12,44.53 L379.76,45.99 L380.39,47.40 L381.02,48.75 L381.66,50.03 L382.29,51.23 L382.93,52.33 L383.56,53.32 L384.19,54.22 L384.83,55.01 L385.46,55.70 L386.10,56.30 L386.73,56.81 L387.36,57.24 L388.00,57.60 L388.63,57.89 L389.27,58.13 L389.90,58.32 L389.90,63.00 L389.27,63.00 L388.63,63.00 L388.00,63.00 L387.36,63.00 L386.73,63.00 L386.10,63.00 L385.46,63.00 L384.83,63.00 L384.19,63.00 L383.56,63.00 L382.93,63.00 L382.29,63.00 L381.66,63.00 L381.02,63.00 L380.39,63.00 L379.76,63.00 L379.12,63.00 L378.49,63.00 L377.85,63.00 L377.22,63.00 L376.59,63.00 L375.95,63.00 L375.32,63.00 L374.68,63.00 L374.05,63.00 L373.42,63.00 L372.78,63.00 L372.15,63.00 L371.51,63.00 L370.88,63.00 L370.25,63.00 L369.61,63.00 L368.98,63.00 L368.34,63.00 L367.71,63.00 L367.08,63.00 L366.44,63.00 L365.81,63.00 L365.17,63.00 L364.54,63.00 L363.91,63.00 L363.27,63.00 L362.64,63.00 L362.00,63.00 L361.37,63.00 L360.74,63.00 L360.10,63.00 L359.47,63.00 L358.83,63.00 L358.20,63.00 Z" fill="#e3e8f2" fill-opacity="1.0"/>
<path d="M358.20,61.49 L358.83,61.48 L359.47,61.47 L360.10,61.46 L360.74,61.44 L361.37,61.41 L362.00,61.37 L362.64,61.30 L363.27,61.20 L363.91,61.05 L364.54,60.84 L365.17,60.55 L365.81,60.16 L366.44,59.65 L367.08,59.01 L367.71,58.21 L368.34,57.27 L368.98,56.17 L369.61,54.95 L370.25,53.61 L370.88,52.20 L371.51,50.76 L372.15,49.31 L372.78,47.87 L373.42,46.45 L374.05,45.00 L374.68,46.45 L375.32,47.87 L375.95,49.31 L376.59,50.76 L377.22,52.20 L377.85,53.61 L378.49,54.95 L379.12,56.17 L379.76,57.27 L380.39,58.21 L381.02,59.01 L381.66,59.65 L382.29,60.16 L382.93,60.55 L383.56,60.84 L384.19,61.05 L384.83,61.20 L385.46,61.30 L386.10,61.37 L386.73,61.41 L387.36,61.44 L388.00,61.46 L388.63,61.47 L389.27,61.48 L389.90,61.49 L389.90,62.30 L389.27,62.30 L388.63,62.30 L388.00,62.30 L387.36,62.29 L386.73,62.29 L386.10,62.29 L385.46,62.28 L384.83,62.27 L384.19,62.25 L383.56,62.23 L382.93,62.20 L382.29,62.16 L381.66,62.10 L381.02,62.04 L380.39,61.95 L379.76,61.85 L379.12,61.74 L378.49,61.61 L377.85,61.47 L377.22,61.32 L376.59,61.17 L375.95,61.01 L375.32,60.86 L374.68,60.71 L374.05,60.56 L373.42,60.71 L372.78,60.86 L372.15,61.01 L371.51,61.17 L370.88,61.32 L370.25,61.47 L369.61,61.61 L368.98,61.74 L368.34,61.85 L367.71,61.95 L367.08,62.04 L366.44,62.10 L365.81,62.16 L365.17,62.20 L364.54,62.23 L363.91,62.25 L363.27,62.27 L362.64,62.28 L362.00,62.29 L361.37,62.29 L360.74,62.29 L360.10,62.30 L359.47,62.30 L358.83,62.30 L358.20,62.30 Z" fill="#92a8cd" fill-opacity="1.0"/>
<path d="M358.20,62.83 L358.83,62.80 L359.47,62.77 L360.10,62.72 L360.74,62.66 L361.37,62.59 L362.00,62.49 L362.64,62.38 L363.27,62.23 L363.91,62.06 L364.54,61.86 L365.17,61.62 L365.81,61.35 L366.44,61.04 L367.08,60.71 L367.71,60.34 L368.34,59.94 L368.98,59.52 L369.61,59.09 L370.25,58.65 L370.88,58.20 L371.51,57.76 L372.15,57.32 L372.78,56.88 L373.42,56.45 L374.05,56.00 L374.68,56.45 L375.32,56.88 L375.95,57.32 L376.59,57.76 L377.22,58.20 L377.85,58.65 L378.49,59.09 L379.12,59.52 L379.76,59.94 L380.39,60.34 L381.02,60.71 L381.66,61.04 L382.29,61.35 L382.93,61.62 L383.56,61.86 L384.19,62.06 L384.83,62.23 L385.46,62.38 L386.10,62.49 L386.73,62.59 L387.36,62.66 L388.00,62.72 L388.63,62.77 L389.27,62.80 L389.90,62.83 L389.90,62.17 L389.27,62.16 L388.63,62.15 L388.00,62.14 L387.36,62.12 L386.73,62.09 L386.10,62.06 L385.46,62.01 L384.83,61.96 L384.19,61.90 L383.56,61.83 L382.93,61.75 L382.29,61.65 L381.66,61.54 L381.02,61.42 L380.39,61.29 L379.76,61.15 L379.12,61.00 L378.49,60.85 L377.85,60.69 L377.22,60.53 L376.59,60.38 L375.95,60.22 L375.32,60.06 L374.68,59.91 L374.05,59.75 L373.42,59.91 L372.78,60.06 L372.15,60.22 L371.51,60.38 L370.88,60.53 L370.25,60.69 L369.61,60.85 L368.98,61.00 L368.34,61.15 L367.71,61.29 L367.08,61.42 L366.44,61.54 L365.81,61.65 L365.17,61.75 L364.54,61.83 L363.91,61.90 L363.27,61.96 L362.64,62.01 L362.00,62.06 L361.37,62.09 L360.74,62.12 L360.10,62.14 L359.47,62.15 L358.83,62.16 L358.20,62.17 Z" fill="#6a86bb" fill-opacity="0.45"/>
<path d="M358.20,62.53 L358.83,62.50 L359.47,62.47 L360.10,62.42 L360.74,62.36 L361.37,62.29 L362.00,62.19 L362.64,62.08 L363.27,61.93 L363.91,61.76 L364.54,61.56 L365.17,61.32 L365.81,61.05 L366.44,60.74 L367.08,60.41 L367.71,60.04 L368.34,59.64 L368.98,59.22 L369.61,58.79 L370.25,58.35 L370.88,57.90 L371.51,57.46 L372.15,57.02 L372.78,56.58 L373.42,56.15 L374.05,55.70 L374.68,56.15 L375.32,56.58 L375.95,57.02 L376.59,57.46 L377.22,57.90 L377.85,58.35 L378.49,58.79 L379.12,59.22 L379.76,59.64 L380.39,60.04 L381.02,60.41 L381.66,60.74 L382.29,61.05 L382.93,61.32 L383.56,61.56 L384.19,61.76 L384.83,61.93 L385.46,62.08 L386.10,62.19 L386.73,62.29 L387.36,62.36 L388.00,62.42 L388.63,62.47 L389.27,62.50 L389.90,62.53" fill="none" stroke="#22202a" stroke-width="1.05"/>
<rect x="356.2" y="31.5" width="35.70" height="32.30" fill="none" stroke="#606060" stroke-width="1.15"/>
<rect x="406.2" y="31.5" width="33.80" height="32.30" fill="#fff"/>
<path d="M408.20,54.22 L408.80,53.89 L409.39,53.52 L409.99,53.10 L410.58,52.63 L411.18,52.11 L411.78,51.54 L412.37,50.91 L412.97,50.23 L413.56,49.50 L414.16,48.72 L414.76,47.89 L415.35,47.03 L415.95,46.13 L416.54,45.20 L417.14,44.26 L417.74,43.29 L418.33,42.32 L418.93,41.35 L419.52,40.38 L420.12,39.41 L420.72,38.45 L421.31,37.49 L421.91,36.54 L422.50,35.58 L423.10,34.60 L423.70,35.58 L424.29,36.54 L424.89,37.49 L425.48,38.45 L426.08,39.41 L426.68,40.38 L427.27,41.35 L427.87,42.32 L428.46,43.29 L429.06,44.26 L429.66,45.20 L430.25,46.13 L430.85,47.03 L431.44,47.89 L432.04,48.72 L432.64,49.50 L433.23,50.23 L433.83,50.91 L434.42,51.54 L435.02,52.11 L435.62,52.63 L436.21,53.10 L436.81,53.52 L437.40,53.89 L438.00,54.22 L438.00,63.00 L437.40,63.00 L436.81,63.00 L436.21,63.00 L435.62,63.00 L435.02,63.00 L434.42,63.00 L433.83,63.00 L433.23,63.00 L432.64,63.00 L432.04,63.00 L431.44,63.00 L430.85,63.00 L430.25,63.00 L429.66,63.00 L429.06,63.00 L428.46,63.00 L427.87,63.00 L427.27,63.00 L426.68,63.00 L426.08,63.00 L425.48,63.00 L424.89,63.00 L424.29,63.00 L423.70,63.00 L423.10,63.00 L422.50,63.00 L421.91,63.00 L421.31,63.00 L420.72,63.00 L420.12,63.00 L419.52,63.00 L418.93,63.00 L418.33,63.00 L417.74,63.00 L417.14,63.00 L416.54,63.00 L415.95,63.00 L415.35,63.00 L414.76,63.00 L414.16,63.00 L413.56,63.00 L412.97,63.00 L412.37,63.00 L411.78,63.00 L411.18,63.00 L410.58,63.00 L409.99,63.00 L409.39,63.00 L408.80,63.00 L408.20,63.00 Z" fill="#ece6f3" fill-opacity="1.0"/>
<path d="M408.20,59.28 L408.80,59.21 L409.39,59.13 L409.99,59.03 L410.58,58.92 L411.18,58.77 L411.78,58.61 L412.37,58.41 L412.97,58.18 L413.56,57.92 L414.16,57.62 L414.76,57.29 L415.35,56.93 L415.95,56.54 L416.54,56.12 L417.14,55.67 L417.74,55.21 L418.33,54.73 L418.93,54.24 L419.52,53.74 L420.12,53.25 L420.72,52.76 L421.31,52.27 L421.91,51.78 L422.50,51.30 L423.10,50.80 L423.70,51.30 L424.29,51.78 L424.89,52.27 L425.48,52.76 L426.08,53.25 L426.68,53.74 L427.27,54.24 L427.87,54.73 L428.46,55.21 L429.06,55.67 L429.66,56.12 L430.25,56.54 L430.85,56.93 L431.44,57.29 L432.04,57.62 L432.64,57.92 L433.23,58.18 L433.83,58.41 L434.42,58.61 L435.02,58.77 L435.62,58.92 L436.21,59.03 L436.81,59.13 L437.40,59.21 L438.00,59.28 L438.00,62.28 L437.40,62.27 L436.81,62.26 L436.21,62.25 L435.62,62.24 L435.02,62.22 L434.42,62.20 L433.83,62.18 L433.23,62.16 L432.64,62.13 L432.04,62.10 L431.44,62.06 L430.85,62.02 L430.25,61.98 L429.66,61.93 L429.06,61.89 L428.46,61.84 L427.87,61.78 L427.27,61.73 L426.68,61.68 L426.08,61.62 L425.48,61.57 L424.89,61.52 L424.29,61.47 L423.70,61.41 L423.10,61.36 L422.50,61.41 L421.91,61.47 L421.31,61.52 L420.72,61.57 L420.12,61.62 L419.52,61.68 L418.93,61.73 L418.33,61.78 L417.74,61.84 L417.14,61.89 L416.54,61.93 L415.95,61.98 L415.35,62.02 L414.76,62.06 L414.16,62.10 L413.56,62.13 L412.97,62.16 L412.37,62.18 L411.78,62.20 L411.18,62.22 L410.58,62.24 L409.99,62.25 L409.39,62.26 L408.80,62.27 L408.20,62.28 Z" fill="#b9a1d1" fill-opacity="1.0"/>
<path d="M408.20,61.02 L408.80,60.97 L409.39,60.92 L409.99,60.85 L410.58,60.78 L411.18,60.70 L411.78,60.61 L412.37,60.51 L412.97,60.41 L413.56,60.30 L414.16,60.18 L414.76,60.05 L415.35,59.92 L415.95,59.78 L416.54,59.64 L417.14,59.49 L417.74,59.34 L418.33,59.19 L418.93,59.04 L419.52,58.89 L420.12,58.74 L420.72,58.59 L421.31,58.45 L421.91,58.30 L422.50,58.15 L423.10,58.00 L423.70,58.15 L424.29,58.30 L424.89,58.45 L425.48,58.59 L426.08,58.74 L426.68,58.89 L427.27,59.04 L427.87,59.19 L428.46,59.34 L429.06,59.49 L429.66,59.64 L430.25,59.78 L430.85,59.92 L431.44,60.05 L432.04,60.18 L432.64,60.30 L433.23,60.41 L433.83,60.51 L434.42,60.61 L435.02,60.70 L435.62,60.78 L436.21,60.85 L436.81,60.92 L437.40,60.97 L438.00,61.02 L438.00,62.08 L437.40,62.06 L436.81,62.03 L436.21,62.00 L435.62,61.97 L435.02,61.94 L434.42,61.90 L433.83,61.86 L433.23,61.81 L432.64,61.76 L432.04,61.71 L431.44,61.65 L430.85,61.59 L430.25,61.53 L429.66,61.47 L429.06,61.40 L428.46,61.34 L427.87,61.27 L427.27,61.21 L426.68,61.14 L426.08,61.08 L425.48,61.01 L424.89,60.95 L424.29,60.88 L423.70,60.82 L423.10,60.75 L422.50,60.82 L421.91,60.88 L421.31,60.95 L420.72,61.01 L420.12,61.08 L419.52,61.14 L418.93,61.21 L418.33,61.27 L417.74,61.34 L417.14,61.40 L416.54,61.47 L415.95,61.53 L415.35,61.59 L414.76,61.65 L414.16,61.71 L413.56,61.76 L412.97,61.81 L412.37,61.86 L411.78,61.90 L411.18,61.94 L410.58,61.97 L409.99,62.00 L409.39,62.03 L408.80,62.06 L408.20,62.08 Z" fill="#9275bb" fill-opacity="0.45"/>
<path d="M408.20,60.72 L408.80,60.67 L409.39,60.62 L409.99,60.55 L410.58,60.48 L411.18,60.40 L411.78,60.31 L412.37,60.21 L412.97,60.11 L413.56,60.00 L414.16,59.88 L414.76,59.75 L415.35,59.62 L415.95,59.48 L416.54,59.34 L417.14,59.19 L417.74,59.04 L418.33,58.89 L418.93,58.74 L419.52,58.59 L420.12,58.44 L420.72,58.29 L421.31,58.15 L421.91,58.00 L422.50,57.85 L423.10,57.70 L423.70,57.85 L424.29,58.00 L424.89,58.15 L425.48,58.29 L426.08,58.44 L426.68,58.59 L427.27,58.74 L427.87,58.89 L428.46,59.04 L429.06,59.19 L429.66,59.34 L430.25,59.48 L430.85,59.62 L431.44,59.75 L432.04,59.88 L432.64,60.00 L433.23,60.11 L433.83,60.21 L434.42,60.31 L435.02,60.40 L435.62,60.48 L436.21,60.55 L436.81,60.62 L437.40,60.67 L438.00,60.72" fill="none" stroke="#22202a" stroke-width="1.05"/>
<rect x="406.2" y="31.5" width="33.80" height="32.30" fill="none" stroke="#606060" stroke-width="1.15"/>
<rect x="442.3" y="31.5" width="34.30" height="32.30" fill="#fff"/>
<path d="M444.30,54.82 L444.91,54.60 L445.51,54.34 L446.12,54.05 L446.72,53.73 L447.33,53.37 L447.94,52.96 L448.54,52.52 L449.15,52.04 L449.75,51.52 L450.36,50.97 L450.97,50.38 L451.57,49.76 L452.18,49.12 L452.78,48.46 L453.39,47.77 L454.00,47.08 L454.60,46.38 L455.21,45.67 L455.81,44.97 L456.42,44.27 L457.03,43.58 L457.63,42.89 L458.24,42.20 L458.84,41.51 L459.45,40.80 L460.06,41.51 L460.66,42.20 L461.27,42.89 L461.87,43.58 L462.48,44.27 L463.09,44.97 L463.69,45.67 L464.30,46.38 L464.90,47.08 L465.51,47.77 L466.12,48.46 L466.72,49.12 L467.33,49.76 L467.93,50.38 L468.54,50.97 L469.15,51.52 L469.75,52.04 L470.36,52.52 L470.96,52.96 L471.57,53.37 L472.18,53.73 L472.78,54.05 L473.39,54.34 L473.99,54.60 L474.60,54.82 L474.60,63.00 L473.99,63.00 L473.39,63.00 L472.78,63.00 L472.18,63.00 L471.57,63.00 L470.96,63.00 L470.36,63.00 L469.75,63.00 L469.15,63.00 L468.54,63.00 L467.93,63.00 L467.33,63.00 L466.72,63.00 L466.12,63.00 L465.51,63.00 L464.90,63.00 L464.30,63.00 L463.69,63.00 L463.09,63.00 L462.48,63.00 L461.87,63.00 L461.27,63.00 L460.66,63.00 L460.06,63.00 L459.45,63.00 L458.84,63.00 L458.24,63.00 L457.63,63.00 L457.03,63.00 L456.42,63.00 L455.81,63.00 L455.21,63.00 L454.60,63.00 L454.00,63.00 L453.39,63.00 L452.78,63.00 L452.18,63.00 L451.57,63.00 L450.97,63.00 L450.36,63.00 L449.75,63.00 L449.15,63.00 L448.54,63.00 L447.94,63.00 L447.33,63.00 L446.72,63.00 L446.12,63.00 L445.51,63.00 L444.91,63.00 L444.30,63.00 Z" fill="#ece6f3" fill-opacity="1.0"/>
<path d="M444.30,59.42 L444.91,59.38 L445.51,59.34 L446.12,59.29 L446.72,59.21 L447.33,59.12 L447.94,59.00 L448.54,58.85 L449.15,58.67 L449.75,58.44 L450.36,58.17 L450.97,57.85 L451.57,57.49 L452.18,57.07 L452.78,56.61 L453.39,56.10 L454.00,55.55 L454.60,54.96 L455.21,54.36 L455.81,53.74 L456.42,53.11 L457.03,52.48 L457.63,51.86 L458.24,51.24 L458.84,50.63 L459.45,50.00 L460.06,50.63 L460.66,51.24 L461.27,51.86 L461.87,52.48 L462.48,53.11 L463.09,53.74 L463.69,54.36 L464.30,54.96 L464.90,55.55 L465.51,56.10 L466.12,56.61 L466.72,57.07 L467.33,57.49 L467.93,57.85 L468.54,58.17 L469.15,58.44 L469.75,58.67 L470.36,58.85 L470.96,59.00 L471.57,59.12 L472.18,59.21 L472.78,59.29 L473.39,59.34 L473.99,59.38 L474.60,59.42 L474.60,62.28 L473.99,62.27 L473.39,62.26 L472.78,62.25 L472.18,62.23 L471.57,62.21 L470.96,62.19 L470.36,62.15 L469.75,62.11 L469.15,62.06 L468.54,61.99 L467.93,61.92 L467.33,61.84 L466.72,61.74 L466.12,61.64 L465.51,61.52 L464.90,61.39 L464.30,61.26 L463.69,61.12 L463.09,60.98 L462.48,60.83 L461.87,60.69 L461.27,60.55 L460.66,60.41 L460.06,60.26 L459.45,60.12 L458.84,60.26 L458.24,60.41 L457.63,60.55 L457.03,60.69 L456.42,60.83 L455.81,60.98 L455.21,61.12 L454.60,61.26 L454.00,61.39 L453.39,61.52 L452.78,61.64 L452.18,61.74 L451.57,61.84 L450.97,61.92 L450.36,61.99 L449.75,62.06 L449.15,62.11 L448.54,62.15 L447.94,62.19 L447.33,62.21 L446.72,62.23 L446.12,62.25 L445.51,62.26 L444.91,62.27 L444.30,62.28 Z" fill="#b9a1d1" fill-opacity="1.0"/>
<path d="M444.30,60.66 L444.91,60.62 L445.51,60.57 L446.12,60.51 L446.72,60.43 L447.33,60.34 L447.94,60.23 L448.54,60.10 L449.15,59.95 L449.75,59.78 L450.36,59.58 L450.97,59.36 L451.57,59.11 L452.18,58.85 L452.78,58.56 L453.39,58.26 L454.00,57.94 L454.60,57.61 L455.21,57.27 L455.81,56.93 L456.42,56.59 L457.03,56.25 L457.63,55.91 L458.24,55.58 L458.84,55.24 L459.45,54.90 L460.06,55.24 L460.66,55.58 L461.27,55.91 L461.87,56.25 L462.48,56.59 L463.09,56.93 L463.69,57.27 L464.30,57.61 L464.90,57.94 L465.51,58.26 L466.12,58.56 L466.72,58.85 L467.33,59.11 L467.93,59.36 L468.54,59.58 L469.15,59.78 L469.75,59.95 L470.36,60.10 L470.96,60.23 L471.57,60.34 L472.18,60.43 L472.78,60.51 L473.39,60.57 L473.99,60.62 L474.60,60.66 L474.60,62.13 L473.99,62.11 L473.39,62.08 L472.78,62.05 L472.18,62.01 L471.57,61.97 L470.96,61.91 L470.36,61.85 L469.75,61.77 L469.15,61.68 L468.54,61.58 L467.93,61.47 L467.33,61.34 L466.72,61.21 L466.12,61.06 L465.51,60.91 L464.90,60.74 L464.30,60.58 L463.69,60.40 L463.09,60.23 L462.48,60.06 L461.87,59.89 L461.27,59.71 L460.66,59.54 L460.06,59.37 L459.45,59.20 L458.84,59.37 L458.24,59.54 L457.63,59.71 L457.03,59.89 L456.42,60.06 L455.81,60.23 L455.21,60.40 L454.60,60.58 L454.00,60.74 L453.39,60.91 L452.78,61.06 L452.18,61.21 L451.57,61.34 L450.97,61.47 L450.36,61.58 L449.75,61.68 L449.15,61.77 L448.54,61.85 L447.94,61.91 L447.33,61.97 L446.72,62.01 L446.12,62.05 L445.51,62.08 L444.91,62.11 L444.30,62.13 Z" fill="#9275bb" fill-opacity="0.45"/>
<path d="M444.30,60.36 L444.91,60.32 L445.51,60.27 L446.12,60.21 L446.72,60.13 L447.33,60.04 L447.94,59.93 L448.54,59.80 L449.15,59.65 L449.75,59.48 L450.36,59.28 L450.97,59.06 L451.57,58.81 L452.18,58.55 L452.78,58.26 L453.39,57.96 L454.00,57.64 L454.60,57.31 L455.21,56.97 L455.81,56.63 L456.42,56.29 L457.03,55.95 L457.63,55.61 L458.24,55.28 L458.84,54.94 L459.45,54.60 L460.06,54.94 L460.66,55.28 L461.27,55.61 L461.87,55.95 L462.48,56.29 L463.09,56.63 L463.69,56.97 L464.30,57.31 L464.90,57.64 L465.51,57.96 L466.12,58.26 L466.72,58.55 L467.33,58.81 L467.93,59.06 L468.54,59.28 L469.15,59.48 L469.75,59.65 L470.36,59.80 L470.96,59.93 L471.57,60.04 L472.18,60.13 L472.78,60.21 L473.39,60.27 L473.99,60.32 L474.60,60.36" fill="none" stroke="#22202a" stroke-width="1.05"/>
<rect x="442.3" y="31.5" width="34.30" height="32.30" fill="none" stroke="#606060" stroke-width="1.15"/>
<rect x="318.4" y="101.2" width="35.40" height="33.80" fill="#fff"/>
<path d="M320.40,126.74 L321.03,126.65 L321.66,126.53 L322.28,126.38 L322.91,126.18 L323.54,125.93 L324.17,125.61 L324.80,125.22 L325.42,124.75 L326.05,124.18 L326.68,123.51 L327.31,122.74 L327.94,121.85 L328.56,120.85 L329.19,119.75 L329.82,118.56 L330.45,117.28 L331.08,115.93 L331.70,114.54 L332.33,113.12 L332.96,111.69 L333.59,110.26 L334.22,108.84 L334.84,107.44 L335.47,106.03 L336.10,104.60 L336.73,106.03 L337.36,107.44 L337.98,108.84 L338.61,110.26 L339.24,111.69 L339.87,113.12 L340.50,114.54 L341.12,115.93 L341.75,117.28 L342.38,118.56 L343.01,119.75 L343.64,120.85 L344.26,121.85 L344.89,122.74 L345.52,123.51 L346.15,124.18 L346.78,124.75 L347.40,125.22 L348.03,125.61 L348.66,125.93 L349.29,126.18 L349.92,126.38 L350.54,126.53 L351.17,126.65 L351.80,126.74 L351.80,134.20 L351.17,134.20 L350.54,134.20 L349.92,134.20 L349.29,134.20 L348.66,134.20 L348.03,134.20 L347.40,134.20 L346.78,134.20 L346.15,134.20 L345.52,134.20 L344.89,134.20 L344.26,134.20 L343.64,134.20 L343.01,134.20 L342.38,134.20 L341.75,134.20 L341.12,134.20 L340.50,134.20 L339.87,134.20 L339.24,134.20 L338.61,134.20 L337.98,134.20 L337.36,134.20 L336.73,134.20 L336.10,134.20 L335.47,134.20 L334.84,134.20 L334.22,134.20 L333.59,134.20 L332.96,134.20 L332.33,134.20 L331.70,134.20 L331.08,134.20 L330.45,134.20 L329.82,134.20 L329.19,134.20 L328.56,134.20 L327.94,134.20 L327.31,134.20 L326.68,134.20 L326.05,134.20 L325.42,134.20 L324.80,134.20 L324.17,134.20 L323.54,134.20 L322.91,134.20 L322.28,134.20 L321.66,134.20 L321.03,134.20 L320.40,134.20 Z" fill="#e3e8f2" fill-opacity="1.0"/>
<path d="M320.40,130.99 L321.03,130.98 L321.66,130.97 L322.28,130.96 L322.91,130.94 L323.54,130.90 L324.17,130.85 L324.80,130.77 L325.42,130.66 L326.05,130.50 L326.68,130.27 L327.31,129.96 L327.94,129.54 L328.56,129.00 L329.19,128.32 L329.82,127.49 L330.45,126.50 L331.08,125.36 L331.70,124.08 L332.33,122.69 L332.96,121.24 L333.59,119.74 L334.22,118.25 L334.84,116.76 L335.47,115.29 L336.10,113.80 L336.73,115.29 L337.36,116.76 L337.98,118.25 L338.61,119.74 L339.24,121.24 L339.87,122.69 L340.50,124.08 L341.12,125.36 L341.75,126.50 L342.38,127.49 L343.01,128.32 L343.64,129.00 L344.26,129.54 L344.89,129.96 L345.52,130.27 L346.15,130.50 L346.78,130.66 L347.40,130.77 L348.03,130.85 L348.66,130.90 L349.29,130.94 L349.92,130.96 L350.54,130.97 L351.17,130.98 L351.80,130.99 L351.80,133.50 L351.17,133.50 L350.54,133.50 L349.92,133.49 L349.29,133.49 L348.66,133.48 L348.03,133.48 L347.40,133.47 L346.78,133.45 L346.15,133.42 L345.52,133.39 L344.89,133.34 L344.26,133.27 L343.64,133.19 L343.01,133.09 L342.38,132.96 L341.75,132.80 L341.12,132.63 L340.50,132.43 L339.87,132.22 L339.24,131.99 L338.61,131.76 L337.98,131.53 L337.36,131.30 L336.73,131.07 L336.10,130.84 L335.47,131.07 L334.84,131.30 L334.22,131.53 L333.59,131.76 L332.96,131.99 L332.33,132.22 L331.70,132.43 L331.08,132.63 L330.45,132.80 L329.82,132.96 L329.19,133.09 L328.56,133.19 L327.94,133.27 L327.31,133.34 L326.68,133.39 L326.05,133.42 L325.42,133.45 L324.80,133.47 L324.17,133.48 L323.54,133.48 L322.91,133.49 L322.28,133.49 L321.66,133.50 L321.03,133.50 L320.40,133.50 Z" fill="#92a8cd" fill-opacity="1.0"/>
<path d="M320.40,132.51 L321.03,132.48 L321.66,132.44 L322.28,132.39 L322.91,132.32 L323.54,132.23 L324.17,132.12 L324.80,131.99 L325.42,131.83 L326.05,131.63 L326.68,131.40 L327.31,131.13 L327.94,130.83 L328.56,130.49 L329.19,130.11 L329.82,129.70 L330.45,129.26 L331.08,128.80 L331.70,128.32 L332.33,127.83 L332.96,127.34 L333.59,126.85 L334.22,126.36 L334.84,125.88 L335.47,125.39 L336.10,124.90 L336.73,125.39 L337.36,125.88 L337.98,126.36 L338.61,126.85 L339.24,127.34 L339.87,127.83 L340.50,128.32 L341.12,128.80 L341.75,129.26 L342.38,129.70 L343.01,130.11 L343.64,130.49 L344.26,130.83 L344.89,131.13 L345.52,131.40 L346.15,131.63 L346.78,131.83 L347.40,131.99 L348.03,132.12 L348.66,132.23 L349.29,132.32 L349.92,132.39 L350.54,132.44 L351.17,132.48 L351.80,132.51 L351.80,133.36 L351.17,133.34 L350.54,133.33 L349.92,133.30 L349.29,133.27 L348.66,133.23 L348.03,133.18 L347.40,133.11 L346.78,133.04 L346.15,132.95 L345.52,132.84 L344.89,132.71 L344.26,132.57 L343.64,132.41 L343.01,132.24 L342.38,132.04 L341.75,131.84 L341.12,131.62 L340.50,131.40 L339.87,131.17 L339.24,130.94 L338.61,130.71 L337.98,130.48 L337.36,130.26 L336.73,130.03 L336.10,129.80 L335.47,130.03 L334.84,130.26 L334.22,130.48 L333.59,130.71 L332.96,130.94 L332.33,131.17 L331.70,131.40 L331.08,131.62 L330.45,131.84 L329.82,132.04 L329.19,132.24 L328.56,132.41 L327.94,132.57 L327.31,132.71 L326.68,132.84 L326.05,132.95 L325.42,133.04 L324.80,133.11 L324.17,133.18 L323.54,133.23 L322.91,133.27 L322.28,133.30 L321.66,133.33 L321.03,133.34 L320.40,133.36 Z" fill="#6a86bb" fill-opacity="0.45"/>
<path d="M320.40,132.21 L321.03,132.18 L321.66,132.14 L322.28,132.09 L322.91,132.02 L323.54,131.93 L324.17,131.82 L324.80,131.69 L325.42,131.53 L326.05,131.33 L326.68,131.10 L327.31,130.83 L327.94,130.53 L328.56,130.19 L329.19,129.81 L329.82,129.40 L330.45,128.96 L331.08,128.50 L331.70,128.02 L332.33,127.53 L332.96,127.04 L333.59,126.55 L334.22,126.06 L334.84,125.58 L335.47,125.09 L336.10,124.60 L336.73,125.09 L337.36,125.58 L337.98,126.06 L338.61,126.55 L339.24,127.04 L339.87,127.53 L340.50,128.02 L341.12,128.50 L341.75,128.96 L342.38,129.40 L343.01,129.81 L343.64,130.19 L344.26,130.53 L344.89,130.83 L345.52,131.10 L346.15,131.33 L346.78,131.53 L347.40,131.69 L348.03,131.82 L348.66,131.93 L349.29,132.02 L349.92,132.09 L350.54,132.14 L351.17,132.18 L351.80,132.21" fill="none" stroke="#22202a" stroke-width="1.05"/>
<rect x="318.4" y="101.2" width="35.40" height="33.80" fill="none" stroke="#606060" stroke-width="1.15"/>
<rect x="356.2" y="101.2" width="35.70" height="33.80" fill="#fff"/>
<path d="M358.20,128.46 L358.83,128.45 L359.47,128.42 L360.10,128.38 L360.74,128.33 L361.37,128.25 L362.00,128.13 L362.64,127.96 L363.27,127.73 L363.91,127.41 L364.54,126.99 L365.17,126.45 L365.81,125.75 L366.44,124.89 L367.08,123.84 L367.71,122.61 L368.34,121.20 L368.98,119.62 L369.61,117.89 L370.25,116.06 L370.88,114.16 L371.51,112.24 L372.15,110.31 L372.78,108.41 L373.42,106.52 L374.05,104.60 L374.68,106.52 L375.32,108.41 L375.95,110.31 L376.59,112.24 L377.22,114.16 L377.85,116.06 L378.49,117.89 L379.12,119.62 L379.76,121.20 L380.39,122.61 L381.02,123.84 L381.66,124.89 L382.29,125.75 L382.93,126.45 L383.56,126.99 L384.19,127.41 L384.83,127.73 L385.46,127.96 L386.10,128.13 L386.73,128.25 L387.36,128.33 L388.00,128.38 L388.63,128.42 L389.27,128.45 L389.90,128.46 L389.90,134.20 L389.27,134.20 L388.63,134.20 L388.00,134.20 L387.36,134.20 L386.73,134.20 L386.10,134.20 L385.46,134.20 L384.83,134.20 L384.19,134.20 L383.56,134.20 L382.93,134.20 L382.29,134.20 L381.66,134.20 L381.02,134.20 L380.39,134.20 L379.76,134.20 L379.12,134.20 L378.49,134.20 L377.85,134.20 L377.22,134.20 L376.59,134.20 L375.95,134.20 L375.32,134.20 L374.68,134.20 L374.05,134.20 L373.42,134.20 L372.78,134.20 L372.15,134.20 L371.51,134.20 L370.88,134.20 L370.25,134.20 L369.61,134.20 L368.98,134.20 L368.34,134.20 L367.71,134.20 L367.08,134.20 L366.44,134.20 L365.81,134.20 L365.17,134.20 L364.54,134.20 L363.91,134.20 L363.27,134.20 L362.64,134.20 L362.00,134.20 L361.37,134.20 L360.74,134.20 L360.10,134.20 L359.47,134.20 L358.83,134.20 L358.20,134.20 Z" fill="#e3e8f2" fill-opacity="1.0"/>
<path d="M358.20,131.99 L358.83,131.99 L359.47,131.99 L360.10,131.98 L360.74,131.97 L361.37,131.95 L362.00,131.93 L362.64,131.89 L363.27,131.83 L363.91,131.75 L364.54,131.64 L365.17,131.48 L365.81,131.27 L366.44,130.99 L367.08,130.64 L367.71,130.21 L368.34,129.69 L368.98,129.09 L369.61,128.43 L370.25,127.70 L370.88,126.93 L371.51,126.14 L372.15,125.35 L372.78,124.57 L373.42,123.79 L374.05,123.00 L374.68,123.79 L375.32,124.57 L375.95,125.35 L376.59,126.14 L377.22,126.93 L377.85,127.70 L378.49,128.43 L379.12,129.09 L379.76,129.69 L380.39,130.21 L381.02,130.64 L381.66,130.99 L382.29,131.27 L382.93,131.48 L383.56,131.64 L384.19,131.75 L384.83,131.83 L385.46,131.89 L386.10,131.93 L386.73,131.95 L387.36,131.97 L388.00,131.98 L388.63,131.99 L389.27,131.99 L389.90,131.99 L389.90,133.50 L389.27,133.50 L388.63,133.50 L388.00,133.50 L387.36,133.50 L386.73,133.50 L386.10,133.50 L385.46,133.49 L384.83,133.49 L384.19,133.49 L383.56,133.48 L382.93,133.47 L382.29,133.46 L381.66,133.44 L381.02,133.42 L380.39,133.40 L379.76,133.37 L379.12,133.34 L378.49,133.30 L377.85,133.26 L377.22,133.22 L376.59,133.17 L375.95,133.13 L375.32,133.09 L374.68,133.04 L374.05,133.00 L373.42,133.04 L372.78,133.09 L372.15,133.13 L371.51,133.17 L370.88,133.22 L370.25,133.26 L369.61,133.30 L368.98,133.34 L368.34,133.37 L367.71,133.40 L367.08,133.42 L366.44,133.44 L365.81,133.46 L365.17,133.47 L364.54,133.48 L363.91,133.49 L363.27,133.49 L362.64,133.49 L362.00,133.50 L361.37,133.50 L360.74,133.50 L360.10,133.50 L359.47,133.50 L358.83,133.50 L358.20,133.50 Z" fill="#92a8cd" fill-opacity="1.0"/>
<path d="M358.20,133.27 L358.83,133.26 L359.47,133.24 L360.10,133.22 L360.74,133.20 L361.37,133.16 L362.00,133.12 L362.64,133.07 L363.27,133.01 L363.91,132.94 L364.54,132.85 L365.17,132.74 L365.81,132.63 L366.44,132.49 L367.08,132.35 L367.71,132.19 L368.34,132.01 L368.98,131.83 L369.61,131.64 L370.25,131.45 L370.88,131.26 L371.51,131.07 L372.15,130.87 L372.78,130.68 L373.42,130.49 L374.05,130.30 L374.68,130.49 L375.32,130.68 L375.95,130.87 L376.59,131.07 L377.22,131.26 L377.85,131.45 L378.49,131.64 L379.12,131.83 L379.76,132.01 L380.39,132.19 L381.02,132.35 L381.66,132.49 L382.29,132.63 L382.93,132.74 L383.56,132.85 L384.19,132.94 L384.83,133.01 L385.46,133.07 L386.10,133.12 L386.73,133.16 L387.36,133.20 L388.00,133.22 L388.63,133.24 L389.27,133.26 L389.90,133.27 L389.90,133.39 L389.27,133.39 L388.63,133.38 L388.00,133.38 L387.36,133.37 L386.73,133.36 L386.10,133.35 L385.46,133.33 L384.83,133.31 L384.19,133.29 L383.56,133.26 L382.93,133.23 L382.29,133.20 L381.66,133.16 L381.02,133.11 L380.39,133.07 L379.76,133.01 L379.12,132.96 L378.49,132.90 L377.85,132.85 L377.22,132.79 L376.59,132.73 L375.95,132.67 L375.32,132.62 L374.68,132.56 L374.05,132.50 L373.42,132.56 L372.78,132.62 L372.15,132.67 L371.51,132.73 L370.88,132.79 L370.25,132.85 L369.61,132.90 L368.98,132.96 L368.34,133.01 L367.71,133.07 L367.08,133.11 L366.44,133.16 L365.81,133.20 L365.17,133.23 L364.54,133.26 L363.91,133.29 L363.27,133.31 L362.64,133.33 L362.00,133.35 L361.37,133.36 L360.74,133.37 L360.10,133.38 L359.47,133.38 L358.83,133.39 L358.20,133.39 Z" fill="#6a86bb" fill-opacity="0.45"/>
<path d="M358.20,132.97 L358.83,132.96 L359.47,132.94 L360.10,132.92 L360.74,132.90 L361.37,132.86 L362.00,132.82 L362.64,132.77 L363.27,132.71 L363.91,132.64 L364.54,132.55 L365.17,132.44 L365.81,132.33 L366.44,132.19 L367.08,132.05 L367.71,131.89 L368.34,131.71 L368.98,131.53 L369.61,131.34 L370.25,131.15 L370.88,130.96 L371.51,130.77 L372.15,130.57 L372.78,130.38 L373.42,130.19 L374.05,130.00 L374.68,130.19 L375.32,130.38 L375.95,130.57 L376.59,130.77 L377.22,130.96 L377.85,131.15 L378.49,131.34 L379.12,131.53 L379.76,131.71 L380.39,131.89 L381.02,132.05 L381.66,132.19 L382.29,132.33 L382.93,132.44 L383.56,132.55 L384.19,132.64 L384.83,132.71 L385.46,132.77 L386.10,132.82 L386.73,132.86 L387.36,132.90 L388.00,132.92 L388.63,132.94 L389.27,132.96 L389.90,132.97" fill="none" stroke="#22202a" stroke-width="1.05"/>
<rect x="356.2" y="101.2" width="35.70" height="33.80" fill="none" stroke="#606060" stroke-width="1.15"/>
<rect x="405.4" y="101.2" width="35.40" height="33.80" fill="#fff"/>
<path d="M407.40,123.46 L408.03,123.31 L408.66,123.12 L409.28,122.90 L409.91,122.62 L410.54,122.29 L411.17,121.90 L411.80,121.44 L412.42,120.92 L413.05,120.32 L413.68,119.64 L414.31,118.89 L414.94,118.06 L415.56,117.17 L416.19,116.21 L416.82,115.20 L417.45,114.15 L418.08,113.06 L418.70,111.95 L419.33,110.84 L419.96,109.72 L420.59,108.61 L421.22,107.51 L421.84,106.42 L422.47,105.32 L423.10,104.20 L423.73,105.32 L424.36,106.42 L424.98,107.51 L425.61,108.61 L426.24,109.72 L426.87,110.84 L427.50,111.95 L428.12,113.06 L428.75,114.15 L429.38,115.20 L430.01,116.21 L430.64,117.17 L431.26,118.06 L431.89,118.89 L432.52,119.64 L433.15,120.32 L433.78,120.92 L434.40,121.44 L435.03,121.90 L435.66,122.29 L436.29,122.62 L436.92,122.90 L437.54,123.12 L438.17,123.31 L438.80,123.46 L438.80,134.20 L438.17,134.20 L437.54,134.20 L436.92,134.20 L436.29,134.20 L435.66,134.20 L435.03,134.20 L434.40,134.20 L433.78,134.20 L433.15,134.20 L432.52,134.20 L431.89,134.20 L431.26,134.20 L430.64,134.20 L430.01,134.20 L429.38,134.20 L428.75,134.20 L428.12,134.20 L427.50,134.20 L426.87,134.20 L426.24,134.20 L425.61,134.20 L424.98,134.20 L424.36,134.20 L423.73,134.20 L423.10,134.20 L422.47,134.20 L421.84,134.20 L421.22,134.20 L420.59,134.20 L419.96,134.20 L419.33,134.20 L418.70,134.20 L418.08,134.20 L417.45,134.20 L416.82,134.20 L416.19,134.20 L415.56,134.20 L414.94,134.20 L414.31,134.20 L413.68,134.20 L413.05,134.20 L412.42,134.20 L411.80,134.20 L411.17,134.20 L410.54,134.20 L409.91,134.20 L409.28,134.20 L408.66,134.20 L408.03,134.20 L407.40,134.20 Z" fill="#ece6f3" fill-opacity="1.0"/>
<path d="M407.40,128.94 L408.03,128.91 L408.66,128.88 L409.28,128.83 L409.91,128.77 L410.54,128.69 L411.17,128.59 L411.80,128.45 L412.42,128.28 L413.05,128.08 L413.68,127.82 L414.31,127.52 L414.94,127.17 L415.56,126.76 L416.19,126.30 L416.82,125.79 L417.45,125.23 L418.08,124.64 L418.70,124.01 L419.33,123.37 L419.96,122.72 L420.59,122.07 L421.22,121.43 L421.84,120.79 L422.47,120.15 L423.10,119.50 L423.73,120.15 L424.36,120.79 L424.98,121.43 L425.61,122.07 L426.24,122.72 L426.87,123.37 L427.50,124.01 L428.12,124.64 L428.75,125.23 L429.38,125.79 L430.01,126.30 L430.64,126.76 L431.26,127.17 L431.89,127.52 L432.52,127.82 L433.15,128.08 L433.78,128.28 L434.40,128.45 L435.03,128.59 L435.66,128.69 L436.29,128.77 L436.92,128.83 L437.54,128.88 L438.17,128.91 L438.80,128.94 L438.80,133.49 L438.17,133.48 L437.54,133.48 L436.92,133.47 L436.29,133.46 L435.66,133.44 L435.03,133.43 L434.40,133.40 L433.78,133.37 L433.15,133.33 L432.52,133.29 L431.89,133.24 L431.26,133.17 L430.64,133.10 L430.01,133.02 L429.38,132.92 L428.75,132.83 L428.12,132.72 L427.50,132.61 L426.87,132.49 L426.24,132.38 L425.61,132.26 L424.98,132.15 L424.36,132.03 L423.73,131.92 L423.10,131.80 L422.47,131.92 L421.84,132.03 L421.22,132.15 L420.59,132.26 L419.96,132.38 L419.33,132.49 L418.70,132.61 L418.08,132.72 L417.45,132.83 L416.82,132.92 L416.19,133.02 L415.56,133.10 L414.94,133.17 L414.31,133.24 L413.68,133.29 L413.05,133.33 L412.42,133.37 L411.80,133.40 L411.17,133.43 L410.54,133.44 L409.91,133.46 L409.28,133.47 L408.66,133.48 L408.03,133.48 L407.40,133.49 Z" fill="#b9a1d1" fill-opacity="1.0"/>
<path d="M407.40,131.15 L408.03,131.11 L408.66,131.06 L409.28,131.01 L409.91,130.94 L410.54,130.87 L411.17,130.78 L411.80,130.68 L412.42,130.56 L413.05,130.44 L413.68,130.29 L414.31,130.14 L414.94,129.97 L415.56,129.79 L416.19,129.60 L416.82,129.41 L417.45,129.20 L418.08,128.99 L418.70,128.78 L419.33,128.57 L419.96,128.35 L420.59,128.14 L421.22,127.93 L421.84,127.72 L422.47,127.51 L423.10,127.30 L423.73,127.51 L424.36,127.72 L424.98,127.93 L425.61,128.14 L426.24,128.35 L426.87,128.57 L427.50,128.78 L428.12,128.99 L428.75,129.20 L429.38,129.41 L430.01,129.60 L430.64,129.79 L431.26,129.97 L431.89,130.14 L432.52,130.29 L433.15,130.44 L433.78,130.56 L434.40,130.68 L435.03,130.78 L435.66,130.87 L436.29,130.94 L436.92,131.01 L437.54,131.06 L438.17,131.11 L438.80,131.15 L438.80,133.31 L438.17,133.29 L437.54,133.26 L436.92,133.22 L436.29,133.19 L435.66,133.14 L435.03,133.09 L434.40,133.03 L433.78,132.96 L433.15,132.88 L432.52,132.80 L431.89,132.70 L431.26,132.60 L430.64,132.50 L430.01,132.38 L429.38,132.26 L428.75,132.14 L428.12,132.01 L427.50,131.89 L426.87,131.76 L426.24,131.63 L425.61,131.51 L424.98,131.38 L424.36,131.25 L423.73,131.13 L423.10,131.00 L422.47,131.13 L421.84,131.25 L421.22,131.38 L420.59,131.51 L419.96,131.63 L419.33,131.76 L418.70,131.89 L418.08,132.01 L417.45,132.14 L416.82,132.26 L416.19,132.38 L415.56,132.50 L414.94,132.60 L414.31,132.70 L413.68,132.80 L413.05,132.88 L412.42,132.96 L411.80,133.03 L411.17,133.09 L410.54,133.14 L409.91,133.19 L409.28,133.22 L408.66,133.26 L408.03,133.29 L407.40,133.31 Z" fill="#9275bb" fill-opacity="0.45"/>
<path d="M407.40,130.85 L408.03,130.81 L408.66,130.76 L409.28,130.71 L409.91,130.64 L410.54,130.57 L411.17,130.48 L411.80,130.38 L412.42,130.26 L413.05,130.14 L413.68,129.99 L414.31,129.84 L414.94,129.67 L415.56,129.49 L416.19,129.30 L416.82,129.11 L417.45,128.90 L418.08,128.69 L418.70,128.48 L419.33,128.27 L419.96,128.05 L420.59,127.84 L421.22,127.63 L421.84,127.42 L422.47,127.21 L423.10,127.00 L423.73,127.21 L424.36,127.42 L424.98,127.63 L425.61,127.84 L426.24,128.05 L426.87,128.27 L427.50,128.48 L428.12,128.69 L428.75,128.90 L429.38,129.11 L430.01,129.30 L430.64,129.49 L431.26,129.67 L431.89,129.84 L432.52,129.99 L433.15,130.14 L433.78,130.26 L434.40,130.38 L435.03,130.48 L435.66,130.57 L436.29,130.64 L436.92,130.71 L437.54,130.76 L438.17,130.81 L438.80,130.85" fill="none" stroke="#22202a" stroke-width="1.05"/>
<rect x="405.4" y="101.2" width="35.40" height="33.80" fill="none" stroke="#606060" stroke-width="1.15"/>
<rect x="442.3" y="101.2" width="34.30" height="33.80" fill="#fff"/>
<path d="M444.30,126.42 L444.91,126.31 L445.51,126.18 L446.12,126.04 L446.72,125.88 L447.33,125.70 L447.94,125.50 L448.54,125.28 L449.15,125.05 L449.75,124.79 L450.36,124.52 L450.97,124.23 L451.57,123.92 L452.18,123.61 L452.78,123.28 L453.39,122.94 L454.00,122.60 L454.60,122.25 L455.21,121.91 L455.81,121.56 L456.42,121.21 L457.03,120.87 L457.63,120.53 L458.24,120.19 L458.84,119.85 L459.45,119.50 L460.06,119.85 L460.66,120.19 L461.27,120.53 L461.87,120.87 L462.48,121.21 L463.09,121.56 L463.69,121.91 L464.30,122.25 L464.90,122.60 L465.51,122.94 L466.12,123.28 L466.72,123.61 L467.33,123.92 L467.93,124.23 L468.54,124.52 L469.15,124.79 L469.75,125.05 L470.36,125.28 L470.96,125.50 L471.57,125.70 L472.18,125.88 L472.78,126.04 L473.39,126.18 L473.99,126.31 L474.60,126.42 L474.60,134.20 L473.99,134.20 L473.39,134.20 L472.78,134.20 L472.18,134.20 L471.57,134.20 L470.96,134.20 L470.36,134.20 L469.75,134.20 L469.15,134.20 L468.54,134.20 L467.93,134.20 L467.33,134.20 L466.72,134.20 L466.12,134.20 L465.51,134.20 L464.90,134.20 L464.30,134.20 L463.69,134.20 L463.09,134.20 L462.48,134.20 L461.87,134.20 L461.27,134.20 L460.66,134.20 L460.06,134.20 L459.45,134.20 L458.84,134.20 L458.24,134.20 L457.63,134.20 L457.03,134.20 L456.42,134.20 L455.81,134.20 L455.21,134.20 L454.60,134.20 L454.00,134.20 L453.39,134.20 L452.78,134.20 L452.18,134.20 L451.57,134.20 L450.97,134.20 L450.36,134.20 L449.75,134.20 L449.15,134.20 L448.54,134.20 L447.94,134.20 L447.33,134.20 L446.72,134.20 L446.12,134.20 L445.51,134.20 L444.91,134.20 L444.30,134.20 Z" fill="#ece6f3" fill-opacity="1.0"/>
<path d="M444.30,129.90 L444.91,129.87 L445.51,129.83 L446.12,129.79 L446.72,129.73 L447.33,129.67 L447.94,129.59 L448.54,129.49 L449.15,129.38 L449.75,129.25 L450.36,129.11 L450.97,128.95 L451.57,128.77 L452.18,128.58 L452.78,128.37 L453.39,128.15 L454.00,127.91 L454.60,127.67 L455.21,127.43 L455.81,127.18 L456.42,126.93 L457.03,126.68 L457.63,126.44 L458.24,126.19 L458.84,125.95 L459.45,125.70 L460.06,125.95 L460.66,126.19 L461.27,126.44 L461.87,126.68 L462.48,126.93 L463.09,127.18 L463.69,127.43 L464.30,127.67 L464.90,127.91 L465.51,128.15 L466.12,128.37 L466.72,128.58 L467.33,128.77 L467.93,128.95 L468.54,129.11 L469.15,129.25 L469.75,129.38 L470.36,129.49 L470.96,129.59 L471.57,129.67 L472.18,129.73 L472.78,129.79 L473.39,129.83 L473.99,129.87 L474.60,129.90 L474.60,133.48 L473.99,133.48 L473.39,133.47 L472.78,133.47 L472.18,133.46 L471.57,133.45 L470.96,133.43 L470.36,133.42 L469.75,133.40 L469.15,133.38 L468.54,133.36 L467.93,133.33 L467.33,133.30 L466.72,133.27 L466.12,133.23 L465.51,133.20 L464.90,133.16 L464.30,133.12 L463.69,133.08 L463.09,133.04 L462.48,133.00 L461.87,132.96 L461.27,132.92 L460.66,132.88 L460.06,132.84 L459.45,132.80 L458.84,132.84 L458.24,132.88 L457.63,132.92 L457.03,132.96 L456.42,133.00 L455.81,133.04 L455.21,133.08 L454.60,133.12 L454.00,133.16 L453.39,133.20 L452.78,133.23 L452.18,133.27 L451.57,133.30 L450.97,133.33 L450.36,133.36 L449.75,133.38 L449.15,133.40 L448.54,133.42 L447.94,133.43 L447.33,133.45 L446.72,133.46 L446.12,133.47 L445.51,133.47 L444.91,133.48 L444.30,133.48 Z" fill="#b9a1d1" fill-opacity="1.0"/>
<path d="M444.30,131.92 L444.91,131.89 L445.51,131.85 L446.12,131.81 L446.72,131.76 L447.33,131.70 L447.94,131.64 L448.54,131.57 L449.15,131.50 L449.75,131.42 L450.36,131.34 L450.97,131.25 L451.57,131.16 L452.18,131.06 L452.78,130.96 L453.39,130.86 L454.00,130.75 L454.60,130.64 L455.21,130.54 L455.81,130.43 L456.42,130.33 L457.03,130.22 L457.63,130.12 L458.24,130.01 L458.84,129.91 L459.45,129.80 L460.06,129.91 L460.66,130.01 L461.27,130.12 L461.87,130.22 L462.48,130.33 L463.09,130.43 L463.69,130.54 L464.30,130.64 L464.90,130.75 L465.51,130.86 L466.12,130.96 L466.72,131.06 L467.33,131.16 L467.93,131.25 L468.54,131.34 L469.15,131.42 L469.75,131.50 L470.36,131.57 L470.96,131.64 L471.57,131.70 L472.18,131.76 L472.78,131.81 L473.39,131.85 L473.99,131.89 L474.60,131.92 L474.60,133.31 L473.99,133.29 L473.39,133.27 L472.78,133.25 L472.18,133.23 L471.57,133.20 L470.96,133.17 L470.36,133.14 L469.75,133.10 L469.15,133.06 L468.54,133.02 L467.93,132.97 L467.33,132.93 L466.72,132.88 L466.12,132.83 L465.51,132.78 L464.90,132.73 L464.30,132.67 L463.69,132.62 L463.09,132.57 L462.48,132.51 L461.87,132.46 L461.27,132.41 L460.66,132.36 L460.06,132.30 L459.45,132.25 L458.84,132.30 L458.24,132.36 L457.63,132.41 L457.03,132.46 L456.42,132.51 L455.81,132.57 L455.21,132.62 L454.60,132.67 L454.00,132.73 L453.39,132.78 L452.78,132.83 L452.18,132.88 L451.57,132.93 L450.97,132.97 L450.36,133.02 L449.75,133.06 L449.15,133.10 L448.54,133.14 L447.94,133.17 L447.33,133.20 L446.72,133.23 L446.12,133.25 L445.51,133.27 L444.91,133.29 L444.30,133.31 Z" fill="#9275bb" fill-opacity="0.45"/>
<path d="M444.30,131.62 L444.91,131.59 L445.51,131.55 L446.12,131.51 L446.72,131.46 L447.33,131.40 L447.94,131.34 L448.54,131.27 L449.15,131.20 L449.75,131.12 L450.36,131.04 L450.97,130.95 L451.57,130.86 L452.18,130.76 L452.78,130.66 L453.39,130.56 L454.00,130.45 L454.60,130.34 L455.21,130.24 L455.81,130.13 L456.42,130.03 L457.03,129.92 L457.63,129.82 L458.24,129.71 L458.84,129.61 L459.45,129.50 L460.06,129.61 L460.66,129.71 L461.27,129.82 L461.87,129.92 L462.48,130.03 L463.09,130.13 L463.69,130.24 L464.30,130.34 L464.90,130.45 L465.51,130.56 L466.12,130.66 L466.72,130.76 L467.33,130.86 L467.93,130.95 L468.54,131.04 L469.15,131.12 L469.75,131.20 L470.36,131.27 L470.96,131.34 L471.57,131.40 L472.18,131.46 L472.78,131.51 L473.39,131.55 L473.99,131.59 L474.60,131.62" fill="none" stroke="#22202a" stroke-width="1.05"/>
<rect x="442.3" y="101.2" width="34.30" height="33.80" fill="none" stroke="#606060" stroke-width="1.15"/>
<linearGradient id="sg1" x1="0" y1="0" x2="1" y2="0"><stop offset="0" stop-color="#6f8dc6" stop-opacity="0"/><stop offset="0.5" stop-color="#6f8dc6" stop-opacity="0.7"/><stop offset="1" stop-color="#6f8dc6" stop-opacity="0"/></linearGradient>
<rect x="318.4" y="64.6" width="35.40" height="34.60" fill="#f3f6fa"/>
<rect x="318.4" y="64.6" width="35.40" height="34.60" fill="#a9bbdd" filter="url(#nz)" opacity="0.5"/>
<rect x="334.20" y="64.6" width="4.8" height="34.60" fill="url(#sg1)"/>
<rect x="318.4" y="64.6" width="35.40" height="34.60" fill="none" stroke="#6f6f6f" stroke-width="1"/>
<linearGradient id="sg2" x1="0" y1="0" x2="1" y2="0"><stop offset="0" stop-color="#4568ae" stop-opacity="0"/><stop offset="0.5" stop-color="#4568ae" stop-opacity="0.9"/><stop offset="1" stop-color="#4568ae" stop-opacity="0"/></linearGradient>
<rect x="356.2" y="64.6" width="35.70" height="34.60" fill="#edf1f8"/>
<rect x="356.2" y="64.6" width="35.70" height="34.60" fill="#9fb3da" filter="url(#nz)" opacity="0.6"/>
<rect x="370.60" y="64.6" width="6.8" height="34.60" fill="url(#sg2)"/>
<rect x="356.2" y="64.6" width="35.70" height="34.60" fill="none" stroke="#6f6f6f" stroke-width="1"/>
<linearGradient id="sg3" x1="0" y1="0" x2="1" y2="0"><stop offset="0" stop-color="#4f76bd" stop-opacity="0"/><stop offset="0.5" stop-color="#4f76bd" stop-opacity="1.0"/><stop offset="1" stop-color="#4f76bd" stop-opacity="0"/></linearGradient>
<rect x="318.4" y="136.2" width="35.40" height="69.20" fill="#eef2f8"/>
<rect x="318.4" y="136.2" width="35.40" height="69.20" fill="#c3cfe4" filter="url(#nz)" opacity="0.7"/>
<rect x="335.30" y="136.2" width="3.0" height="69.20" fill="url(#sg3)"/>
<rect x="318.4" y="136.2" width="35.40" height="69.20" fill="none" stroke="#6f6f6f" stroke-width="1"/>
<linearGradient id="sg4" x1="0" y1="0" x2="1" y2="0"><stop offset="0" stop-color="#6a8fcc" stop-opacity="0"/><stop offset="0.5" stop-color="#6a8fcc" stop-opacity="0.95"/><stop offset="1" stop-color="#6a8fcc" stop-opacity="0"/></linearGradient>
<rect x="356.2" y="136.2" width="35.70" height="69.20" fill="#eef2f8"/>
<rect x="356.2" y="136.2" width="35.70" height="69.20" fill="#c3cfe4" filter="url(#nz)" opacity="0.7"/>
<rect x="371.80" y="136.2" width="2.8" height="69.20" fill="url(#sg4)"/>
<rect x="356.2" y="136.2" width="35.70" height="69.20" fill="none" stroke="#6f6f6f" stroke-width="1"/>
<linearGradient id="sg5" x1="0" y1="0" x2="1" y2="0"><stop offset="0" stop-color="#6a3f9e" stop-opacity="0"/><stop offset="0.5" stop-color="#6a3f9e" stop-opacity="0.7"/><stop offset="1" stop-color="#6a3f9e" stop-opacity="0"/></linearGradient>
<rect x="405" y="64.6" width="36.20" height="34.60" fill="#cdbfe0"/>
<rect x="405" y="64.6" width="36.20" height="34.60" fill="#9275bd" filter="url(#nzh)" opacity="0.7"/>
<rect x="419.80" y="64.6" width="6.0" height="34.60" fill="url(#sg5)"/>
<rect x="405" y="64.6" width="36.20" height="34.60" fill="none" stroke="#4a4a4a" stroke-width="1"/>
<linearGradient id="sg6" x1="0" y1="0" x2="1" y2="0"><stop offset="0" stop-color="#62389a" stop-opacity="0"/><stop offset="0.5" stop-color="#62389a" stop-opacity="0.8"/><stop offset="1" stop-color="#62389a" stop-opacity="0"/></linearGradient>
<rect x="441.2" y="64.6" width="36.50" height="34.60" fill="#bcaad6"/>
<rect x="441.2" y="64.6" width="36.50" height="34.60" fill="#8060b2" filter="url(#nzh)" opacity="0.8"/>
<rect x="455.60" y="64.6" width="6.4" height="34.60" fill="url(#sg6)"/>
<rect x="441.2" y="64.6" width="36.50" height="34.60" fill="none" stroke="#4a4a4a" stroke-width="1"/>
<linearGradient id="sg7" x1="0" y1="0" x2="1" y2="0"><stop offset="0" stop-color="#7450a8" stop-opacity="0"/><stop offset="0.5" stop-color="#7450a8" stop-opacity="0.75"/><stop offset="1" stop-color="#7450a8" stop-opacity="0"/></linearGradient>
<rect x="405" y="136.2" width="36.20" height="69.20" fill="#c6b5dc"/>
<rect x="405" y="136.2" width="36.20" height="69.20" fill="#8d70ba" filter="url(#nzh)" opacity="0.65"/>
<rect x="421.30" y="136.2" width="4.0" height="69.20" fill="url(#sg7)"/>
<rect x="405" y="136.2" width="36.20" height="69.20" fill="none" stroke="#4a4a4a" stroke-width="1"/>
<linearGradient id="sg8" x1="0" y1="0" x2="1" y2="0"><stop offset="0" stop-color="#7450a8" stop-opacity="0"/><stop offset="0.5" stop-color="#7450a8" stop-opacity="0.65"/><stop offset="1" stop-color="#7450a8" stop-opacity="0"/></linearGradient>
<rect x="441.2" y="136.2" width="36.50" height="69.20" fill="#bdaad7"/>
<rect x="441.2" y="136.2" width="36.50" height="69.20" fill="#8566b4" filter="url(#nzh)" opacity="0.7"/>
<rect x="457.50" y="136.2" width="4.0" height="69.20" fill="url(#sg8)"/>
<rect x="441.2" y="136.2" width="36.50" height="69.20" fill="none" stroke="#4a4a4a" stroke-width="1"/>
<text x="59.00" y="239.47" font-size="8.3" fill="#b5294e" stroke="#b5294e" stroke-width="0.07" textLength="91.00" lengthAdjust="spacingAndGlyphs"><tspan>Gained binding in </tspan><tspan font-style="italic">Gata1s</tspan></text>
<path d="M105.00,285.30 L105.00,244.10 A41.2,41.2 0 0 1 122.16,322.75 Z" fill="#2f4e86" stroke="#fff" stroke-width="2.0" stroke-linejoin="miter"/>
<path d="M105.00,285.30 L122.16,322.75 A41.2,41.2 0 0 1 90.74,323.96 Z" fill="#d98c1c" stroke="#fff" stroke-width="2.0" stroke-linejoin="miter"/>
<path d="M105.00,285.30 L90.74,323.96 A41.2,41.2 0 0 1 105.00,244.10 Z" fill="#c8c7cc" stroke="#fff" stroke-width="2.0" stroke-linejoin="miter"/>
<text x="84.60" y="286.21" font-size="7.3" fill="#231f20" stroke="#231f20" stroke-width="0.07" text-anchor="middle">146</text>
<text x="127.00" y="286.21" font-size="7.3" fill="#fff" stroke="#fff" stroke-width="0.07" text-anchor="middle">142</text>
<text x="105.20" y="316.01" font-size="7.3" fill="#231f20" stroke="#231f20" stroke-width="0.07" text-anchor="middle">41</text>
<text x="65.40" y="342.97" font-size="8.3" fill="#3c5a9a" stroke="#3c5a9a" stroke-width="0.07" textLength="80.00" lengthAdjust="spacingAndGlyphs"><tspan>Lost binding in </tspan><tspan font-style="italic">Gata1s</tspan></text>
<path d="M105.40,388.20 L105.40,346.60 A41.6,41.6 0 0 1 143.17,405.65 Z" fill="#2f4e86" stroke="#fff" stroke-width="2.0" stroke-linejoin="miter"/>
<path d="M105.40,388.20 L143.17,405.65 A41.6,41.6 0 0 1 130.26,421.55 Z" fill="#d98c1c" stroke="#fff" stroke-width="2.0" stroke-linejoin="miter"/>
<path d="M105.40,388.20 L130.26,421.55 A41.6,41.6 0 1 1 105.40,346.60 Z" fill="#c8c7cc" stroke="#fff" stroke-width="2.0" stroke-linejoin="miter"/>
<text x="123.80" y="378.01" font-size="7.3" fill="#fff" stroke="#fff" stroke-width="0.07" text-anchor="middle">588</text>
<text x="85.40" y="390.31" font-size="7.3" fill="#231f20" stroke="#231f20" stroke-width="0.07" text-anchor="middle">1110</text>
<text x="124.80" y="406.31" font-size="7.3" fill="#231f20" stroke="#231f20" stroke-width="0.07" text-anchor="middle">146</text>
<rect x="161.9" y="310" width="9.6" height="9.4" fill="#c8c7cc"/>
<rect x="161.9" y="323" width="9.6" height="9.4" fill="#d98c1c"/>
<rect x="161.9" y="336" width="9.6" height="9.4" fill="#5a6ea6"/>
<text x="174.60" y="317.59" font-size="7.8" fill="#231f20" stroke="#231f20" stroke-width="0.07" text-anchor="start" textLength="34.00" lengthAdjust="spacingAndGlyphs">Gene body</text>
<text x="174.60" y="330.69" font-size="7.8" fill="#231f20" stroke="#231f20" stroke-width="0.07" text-anchor="start" textLength="52.40" lengthAdjust="spacingAndGlyphs">Promoter (&lt;3 kb)</text>
<text x="174.60" y="343.19" font-size="7.8" fill="#231f20" stroke="#231f20" stroke-width="0.07" text-anchor="start" textLength="30.40" lengthAdjust="spacingAndGlyphs">Intergenic</text>
<text x="29.50" y="451.72" font-size="8.3" fill="#3c5a9a" stroke="#3c5a9a" stroke-width="0.07" textLength="79.50" lengthAdjust="spacingAndGlyphs"><tspan>Lost binding in </tspan><tspan font-style="italic">Gata1s</tspan></text>
<text x="68.75" y="463.01" font-size="8.4" fill="#231f20" stroke="#231f20" stroke-width="0.07" font-style="italic" text-anchor="middle">Motif</text>
<text x="120.00" y="463.21" font-size="8.4" fill="#231f20" stroke="#231f20" stroke-width="0.07" font-style="italic" text-anchor="start" textLength="20.90" lengthAdjust="spacingAndGlyphs">Name</text>
<text x="153.80" y="463.21" font-size="8.4" fill="#231f20" stroke="#231f20" stroke-width="0.07" font-style="italic" text-anchor="start" textLength="26.20" lengthAdjust="spacingAndGlyphs">P-value</text>
<text x="190.00" y="454.01" font-size="8.4" fill="#231f20" stroke="#231f20" stroke-width="0.07" font-style="italic" text-anchor="start" textLength="62.00" lengthAdjust="spacingAndGlyphs">Target sequences</text>
<text x="190.00" y="463.21" font-size="8.4" fill="#231f20" stroke="#231f20" stroke-width="0.07" font-style="italic" text-anchor="start" textLength="35.00" lengthAdjust="spacingAndGlyphs">with motif</text>
<line x1="20.8" y1="467.70" x2="116" y2="467.70" stroke="#9a9a9a" stroke-width="1.0"/>
<line x1="20.8" y1="477.78" x2="116" y2="477.78" stroke="#9a9a9a" stroke-width="1.0"/>
<line x1="20.8" y1="487.86" x2="116" y2="487.86" stroke="#9a9a9a" stroke-width="1.0"/>
<line x1="20.8" y1="497.94" x2="116" y2="497.94" stroke="#9a9a9a" stroke-width="1.0"/>
<line x1="20.8" y1="508.02" x2="116" y2="508.02" stroke="#9a9a9a" stroke-width="1.0"/>
<line x1="20.8" y1="518.10" x2="116" y2="518.10" stroke="#9a9a9a" stroke-width="1.0"/>
<line x1="20.8" y1="528.18" x2="116" y2="528.18" stroke="#9a9a9a" stroke-width="1.0"/>
<line x1="20.8" y1="538.26" x2="116" y2="538.26" stroke="#9a9a9a" stroke-width="1.0"/>
<line x1="20.8" y1="548.34" x2="116" y2="548.34" stroke="#9a9a9a" stroke-width="1.0"/>
<line x1="20.8" y1="558.42" x2="116" y2="558.42" stroke="#9a9a9a" stroke-width="1.0"/>
<line x1="20.8" y1="568.50" x2="116" y2="568.50" stroke="#9a9a9a" stroke-width="1.0"/>
<line x1="20.8" y1="578.58" x2="116" y2="578.58" stroke="#9a9a9a" stroke-width="1.0"/>
<line x1="20.8" y1="588.66" x2="116" y2="588.66" stroke="#9a9a9a" stroke-width="1.0"/>
<line x1="20.8" y1="598.74" x2="116" y2="598.74" stroke="#9a9a9a" stroke-width="1.0"/>
<line x1="20.8" y1="467.70" x2="20.8" y2="598.74" stroke="#c8c8c8" stroke-width="0.7"/>
<text x="10.00" y="476.08" font-size="7.2" fill="#231f20" stroke="#231f20" stroke-width="0.07" text-anchor="start">1</text>
<text transform="matrix(0.669,0,0,0.225,23.80,477.48)" font-size="10" font-weight="bold" fill="#e6a024" stroke="#e6a024" stroke-width="0.25" text-anchor="middle">G</text><text transform="matrix(0.720,0,0,0.225,23.80,475.87)" font-size="10" font-weight="bold" fill="#53a83c" stroke="#53a83c" stroke-width="0.25" text-anchor="middle">A</text><text transform="matrix(0.720,0,0,0.676,23.80,474.25)" font-size="10" font-weight="bold" fill="#2438a6" stroke="#2438a6" stroke-width="0.25" text-anchor="middle">C</text><text transform="matrix(0.720,0,0,1.268,29.00,477.48)" font-size="10" font-weight="bold" fill="#53a83c" stroke="#53a83c" stroke-width="0.25" text-anchor="middle">A</text><text transform="matrix(0.669,0,0,1.268,34.20,477.48)" font-size="10" font-weight="bold" fill="#e6a024" stroke="#e6a024" stroke-width="0.25" text-anchor="middle">G</text><text transform="matrix(0.720,0,0,1.268,39.40,477.48)" font-size="10" font-weight="bold" fill="#53a83c" stroke="#53a83c" stroke-width="0.25" text-anchor="middle">A</text><text transform="matrix(0.851,0,0,1.268,44.60,477.48)" font-size="10" font-weight="bold" fill="#c52a2e" stroke="#c52a2e" stroke-width="0.25" text-anchor="middle">T</text><text transform="matrix(0.720,0,0,1.268,49.80,477.48)" font-size="10" font-weight="bold" fill="#53a83c" stroke="#53a83c" stroke-width="0.25" text-anchor="middle">A</text><text transform="matrix(0.720,0,0,1.268,55.00,477.48)" font-size="10" font-weight="bold" fill="#53a83c" stroke="#53a83c" stroke-width="0.25" text-anchor="middle">A</text><text transform="matrix(0.720,0,0,0.141,60.20,477.48)" font-size="10" font-weight="bold" fill="#53a83c" stroke="#53a83c" stroke-width="0.25" text-anchor="middle">A</text><text transform="matrix(0.720,0,0,0.282,60.20,476.47)" font-size="10" font-weight="bold" fill="#2438a6" stroke="#2438a6" stroke-width="0.25" text-anchor="middle">C</text><text transform="matrix(0.669,0,0,0.845,60.20,474.45)" font-size="10" font-weight="bold" fill="#e6a024" stroke="#e6a024" stroke-width="0.25" text-anchor="middle">G</text><text transform="matrix(0.720,0,0,0.362,65.40,477.48)" font-size="10" font-weight="bold" fill="#2438a6" stroke="#2438a6" stroke-width="0.25" text-anchor="middle">C</text><text transform="matrix(0.720,0,0,0.362,65.40,474.89)" font-size="10" font-weight="bold" fill="#53a83c" stroke="#53a83c" stroke-width="0.25" text-anchor="middle">A</text><text transform="matrix(0.669,0,0,0.543,65.40,472.29)" font-size="10" font-weight="bold" fill="#e6a024" stroke="#e6a024" stroke-width="0.25" text-anchor="middle">G</text>
<text x="120.00" y="476.11" font-size="7.3" fill="#231f20" stroke="#231f20" stroke-width="0.07" text-anchor="start" textLength="21.26" lengthAdjust="spacingAndGlyphs">GATA1</text>
<text x="156.30" y="476.11" font-size="7.3" fill="#231f20" stroke="#231f20" stroke-width="0.07" text-anchor="start" textLength="20.92" lengthAdjust="spacingAndGlyphs">1e-261</text>
<text x="190.00" y="476.11" font-size="7.3" fill="#231f20" stroke="#231f20" stroke-width="0.07" text-anchor="start" textLength="14.79" lengthAdjust="spacingAndGlyphs">1361</text>
<text x="10.00" y="486.16" font-size="7.2" fill="#231f20" stroke="#231f20" stroke-width="0.07" text-anchor="start">2</text>
<text transform="matrix(0.648,0,0,0.225,23.54,487.56)" font-size="10" font-weight="bold" fill="#53a83c" stroke="#53a83c" stroke-width="0.25" text-anchor="middle">A</text><text transform="matrix(0.648,0,0,0.451,23.54,485.95)" font-size="10" font-weight="bold" fill="#2438a6" stroke="#2438a6" stroke-width="0.25" text-anchor="middle">C</text><text transform="matrix(0.766,0,0,0.451,23.54,482.72)" font-size="10" font-weight="bold" fill="#c52a2e" stroke="#c52a2e" stroke-width="0.25" text-anchor="middle">T</text><text transform="matrix(0.648,0,0,0.211,28.22,487.56)" font-size="10" font-weight="bold" fill="#53a83c" stroke="#53a83c" stroke-width="0.25" text-anchor="middle">A</text><text transform="matrix(0.648,0,0,0.634,28.22,486.05)" font-size="10" font-weight="bold" fill="#2438a6" stroke="#2438a6" stroke-width="0.25" text-anchor="middle">C</text><text transform="matrix(0.766,0,0,0.423,28.22,481.51)" font-size="10" font-weight="bold" fill="#c52a2e" stroke="#c52a2e" stroke-width="0.25" text-anchor="middle">T</text><text transform="matrix(0.648,0,0,1.268,32.90,487.56)" font-size="10" font-weight="bold" fill="#2438a6" stroke="#2438a6" stroke-width="0.25" text-anchor="middle">C</text><text transform="matrix(0.766,0,0,1.268,37.58,487.56)" font-size="10" font-weight="bold" fill="#c52a2e" stroke="#c52a2e" stroke-width="0.25" text-anchor="middle">T</text><text transform="matrix(0.766,0,0,1.268,42.26,487.56)" font-size="10" font-weight="bold" fill="#c52a2e" stroke="#c52a2e" stroke-width="0.25" text-anchor="middle">T</text><text transform="matrix(0.648,0,0,1.268,46.94,487.56)" font-size="10" font-weight="bold" fill="#53a83c" stroke="#53a83c" stroke-width="0.25" text-anchor="middle">A</text><text transform="matrix(0.766,0,0,1.268,51.62,487.56)" font-size="10" font-weight="bold" fill="#c52a2e" stroke="#c52a2e" stroke-width="0.25" text-anchor="middle">T</text><text transform="matrix(0.648,0,0,1.268,56.30,487.56)" font-size="10" font-weight="bold" fill="#2438a6" stroke="#2438a6" stroke-width="0.25" text-anchor="middle">C</text><text transform="matrix(0.648,0,0,0.423,60.98,487.56)" font-size="10" font-weight="bold" fill="#53a83c" stroke="#53a83c" stroke-width="0.25" text-anchor="middle">A</text><text transform="matrix(0.766,0,0,0.845,60.98,484.53)" font-size="10" font-weight="bold" fill="#c52a2e" stroke="#c52a2e" stroke-width="0.25" text-anchor="middle">T</text><text transform="matrix(0.602,0,0,0.634,65.66,487.56)" font-size="10" font-weight="bold" fill="#e6a024" stroke="#e6a024" stroke-width="0.25" text-anchor="middle">G</text><text transform="matrix(0.648,0,0,0.634,65.66,483.02)" font-size="10" font-weight="bold" fill="#2438a6" stroke="#2438a6" stroke-width="0.25" text-anchor="middle">C</text>
<text x="120.00" y="486.19" font-size="7.3" fill="#231f20" stroke="#231f20" stroke-width="0.07" text-anchor="start" textLength="21.26" lengthAdjust="spacingAndGlyphs">GATA2</text>
<text x="156.30" y="486.19" font-size="7.3" fill="#231f20" stroke="#231f20" stroke-width="0.07" text-anchor="start" textLength="20.92" lengthAdjust="spacingAndGlyphs">1e-252</text>
<text x="190.00" y="486.19" font-size="7.3" fill="#231f20" stroke="#231f20" stroke-width="0.07" text-anchor="start" textLength="14.79" lengthAdjust="spacingAndGlyphs">1421</text>
<text x="10.00" y="496.24" font-size="7.2" fill="#231f20" stroke="#231f20" stroke-width="0.07" text-anchor="start">3</text>
<text transform="matrix(0.648,0,0,0.451,23.54,497.64)" font-size="10" font-weight="bold" fill="#2438a6" stroke="#2438a6" stroke-width="0.25" text-anchor="middle">C</text><text transform="matrix(0.766,0,0,0.676,23.54,494.41)" font-size="10" font-weight="bold" fill="#c52a2e" stroke="#c52a2e" stroke-width="0.25" text-anchor="middle">T</text><text transform="matrix(0.648,0,0,1.268,28.22,497.64)" font-size="10" font-weight="bold" fill="#2438a6" stroke="#2438a6" stroke-width="0.25" text-anchor="middle">C</text><text transform="matrix(0.766,0,0,1.268,32.90,497.64)" font-size="10" font-weight="bold" fill="#c52a2e" stroke="#c52a2e" stroke-width="0.25" text-anchor="middle">T</text><text transform="matrix(0.766,0,0,1.268,37.58,497.64)" font-size="10" font-weight="bold" fill="#c52a2e" stroke="#c52a2e" stroke-width="0.25" text-anchor="middle">T</text><text transform="matrix(0.648,0,0,1.268,42.26,497.64)" font-size="10" font-weight="bold" fill="#53a83c" stroke="#53a83c" stroke-width="0.25" text-anchor="middle">A</text><text transform="matrix(0.766,0,0,1.268,46.94,497.64)" font-size="10" font-weight="bold" fill="#c52a2e" stroke="#c52a2e" stroke-width="0.25" text-anchor="middle">T</text><text transform="matrix(0.648,0,0,1.268,51.62,497.64)" font-size="10" font-weight="bold" fill="#2438a6" stroke="#2438a6" stroke-width="0.25" text-anchor="middle">C</text><text transform="matrix(0.648,0,0,0.451,56.30,497.64)" font-size="10" font-weight="bold" fill="#53a83c" stroke="#53a83c" stroke-width="0.25" text-anchor="middle">A</text><text transform="matrix(0.766,0,0,0.676,56.30,494.41)" font-size="10" font-weight="bold" fill="#c52a2e" stroke="#c52a2e" stroke-width="0.25" text-anchor="middle">T</text><text transform="matrix(0.648,0,0,0.225,60.98,497.64)" font-size="10" font-weight="bold" fill="#53a83c" stroke="#53a83c" stroke-width="0.25" text-anchor="middle">A</text><text transform="matrix(0.766,0,0,0.451,60.98,496.03)" font-size="10" font-weight="bold" fill="#c52a2e" stroke="#c52a2e" stroke-width="0.25" text-anchor="middle">T</text><text transform="matrix(0.648,0,0,0.451,60.98,492.80)" font-size="10" font-weight="bold" fill="#2438a6" stroke="#2438a6" stroke-width="0.25" text-anchor="middle">C</text><text transform="matrix(0.602,0,0,0.451,65.66,497.64)" font-size="10" font-weight="bold" fill="#e6a024" stroke="#e6a024" stroke-width="0.25" text-anchor="middle">G</text><text transform="matrix(0.648,0,0,0.676,65.66,494.41)" font-size="10" font-weight="bold" fill="#2438a6" stroke="#2438a6" stroke-width="0.25" text-anchor="middle">C</text>
<text x="120.00" y="496.27" font-size="7.3" fill="#231f20" stroke="#231f20" stroke-width="0.07" text-anchor="start" textLength="21.26" lengthAdjust="spacingAndGlyphs">GATA6</text>
<text x="156.30" y="496.27" font-size="7.3" fill="#231f20" stroke="#231f20" stroke-width="0.07" text-anchor="start" textLength="20.92" lengthAdjust="spacingAndGlyphs">1e-214</text>
<text x="190.00" y="496.27" font-size="7.3" fill="#231f20" stroke="#231f20" stroke-width="0.07" text-anchor="start" textLength="14.79" lengthAdjust="spacingAndGlyphs">1567</text>
<text x="10.00" y="506.32" font-size="7.2" fill="#231f20" stroke="#231f20" stroke-width="0.07" text-anchor="start">4</text>
<text transform="matrix(0.648,0,0,0.225,23.54,507.72)" font-size="10" font-weight="bold" fill="#53a83c" stroke="#53a83c" stroke-width="0.25" text-anchor="middle">A</text><text transform="matrix(0.766,0,0,0.451,23.54,506.11)" font-size="10" font-weight="bold" fill="#c52a2e" stroke="#c52a2e" stroke-width="0.25" text-anchor="middle">T</text><text transform="matrix(0.648,0,0,0.451,23.54,502.88)" font-size="10" font-weight="bold" fill="#2438a6" stroke="#2438a6" stroke-width="0.25" text-anchor="middle">C</text><text transform="matrix(0.766,0,0,0.225,28.22,507.72)" font-size="10" font-weight="bold" fill="#c52a2e" stroke="#c52a2e" stroke-width="0.25" text-anchor="middle">T</text><text transform="matrix(0.648,0,0,0.451,28.22,506.11)" font-size="10" font-weight="bold" fill="#53a83c" stroke="#53a83c" stroke-width="0.25" text-anchor="middle">A</text><text transform="matrix(0.648,0,0,0.451,28.22,502.88)" font-size="10" font-weight="bold" fill="#2438a6" stroke="#2438a6" stroke-width="0.25" text-anchor="middle">C</text><text transform="matrix(0.648,0,0,1.268,32.90,507.72)" font-size="10" font-weight="bold" fill="#53a83c" stroke="#53a83c" stroke-width="0.25" text-anchor="middle">A</text><text transform="matrix(0.602,0,0,1.268,37.58,507.72)" font-size="10" font-weight="bold" fill="#e6a024" stroke="#e6a024" stroke-width="0.25" text-anchor="middle">G</text><text transform="matrix(0.648,0,0,1.268,42.26,507.72)" font-size="10" font-weight="bold" fill="#53a83c" stroke="#53a83c" stroke-width="0.25" text-anchor="middle">A</text><text transform="matrix(0.766,0,0,1.268,46.94,507.72)" font-size="10" font-weight="bold" fill="#c52a2e" stroke="#c52a2e" stroke-width="0.25" text-anchor="middle">T</text><text transform="matrix(0.648,0,0,1.268,51.62,507.72)" font-size="10" font-weight="bold" fill="#53a83c" stroke="#53a83c" stroke-width="0.25" text-anchor="middle">A</text><text transform="matrix(0.648,0,0,1.268,56.30,507.72)" font-size="10" font-weight="bold" fill="#53a83c" stroke="#53a83c" stroke-width="0.25" text-anchor="middle">A</text><text transform="matrix(0.648,0,0,0.423,60.98,507.72)" font-size="10" font-weight="bold" fill="#2438a6" stroke="#2438a6" stroke-width="0.25" text-anchor="middle">C</text><text transform="matrix(0.602,0,0,0.845,60.98,504.69)" font-size="10" font-weight="bold" fill="#e6a024" stroke="#e6a024" stroke-width="0.25" text-anchor="middle">G</text><text transform="matrix(0.648,0,0,0.451,65.66,507.72)" font-size="10" font-weight="bold" fill="#53a83c" stroke="#53a83c" stroke-width="0.25" text-anchor="middle">A</text><text transform="matrix(0.602,0,0,0.676,65.66,504.49)" font-size="10" font-weight="bold" fill="#e6a024" stroke="#e6a024" stroke-width="0.25" text-anchor="middle">G</text>
<text x="120.00" y="506.35" font-size="7.3" fill="#231f20" stroke="#231f20" stroke-width="0.07" text-anchor="start" textLength="21.26" lengthAdjust="spacingAndGlyphs">GATA4</text>
<text x="156.30" y="506.35" font-size="7.3" fill="#231f20" stroke="#231f20" stroke-width="0.07" text-anchor="start" textLength="20.92" lengthAdjust="spacingAndGlyphs">1e-184</text>
<text x="190.00" y="506.35" font-size="7.3" fill="#231f20" stroke="#231f20" stroke-width="0.07" text-anchor="start" textLength="14.79" lengthAdjust="spacingAndGlyphs">1581</text>
<text x="10.00" y="516.40" font-size="7.2" fill="#231f20" stroke="#231f20" stroke-width="0.07" text-anchor="start">5</text>
<text transform="matrix(0.659,0,0,1.268,23.58,517.80)" font-size="10" font-weight="bold" fill="#53a83c" stroke="#53a83c" stroke-width="0.25" text-anchor="middle">A</text><text transform="matrix(0.612,0,0,1.268,28.34,517.80)" font-size="10" font-weight="bold" fill="#e6a024" stroke="#e6a024" stroke-width="0.25" text-anchor="middle">G</text><text transform="matrix(0.659,0,0,1.268,33.11,517.80)" font-size="10" font-weight="bold" fill="#53a83c" stroke="#53a83c" stroke-width="0.25" text-anchor="middle">A</text><text transform="matrix(0.780,0,0,1.268,37.87,517.80)" font-size="10" font-weight="bold" fill="#c52a2e" stroke="#c52a2e" stroke-width="0.25" text-anchor="middle">T</text><text transform="matrix(0.659,0,0,1.268,42.63,517.80)" font-size="10" font-weight="bold" fill="#53a83c" stroke="#53a83c" stroke-width="0.25" text-anchor="middle">A</text><text transform="matrix(0.659,0,0,1.184,47.39,517.80)" font-size="10" font-weight="bold" fill="#53a83c" stroke="#53a83c" stroke-width="0.25" text-anchor="middle">A</text><text transform="matrix(0.612,0,0,0.451,52.16,517.80)" font-size="10" font-weight="bold" fill="#e6a024" stroke="#e6a024" stroke-width="0.25" text-anchor="middle">G</text><text transform="matrix(0.659,0,0,0.676,52.16,514.57)" font-size="10" font-weight="bold" fill="#2438a6" stroke="#2438a6" stroke-width="0.25" text-anchor="middle">C</text><text transform="matrix(0.612,0,0,0.254,56.92,517.80)" font-size="10" font-weight="bold" fill="#e6a024" stroke="#e6a024" stroke-width="0.25" text-anchor="middle">G</text><text transform="matrix(0.659,0,0,0.761,56.92,515.98)" font-size="10" font-weight="bold" fill="#53a83c" stroke="#53a83c" stroke-width="0.25" text-anchor="middle">A</text>
<text x="120.00" y="516.43" font-size="7.3" fill="#231f20" stroke="#231f20" stroke-width="0.07" text-anchor="start" textLength="21.26" lengthAdjust="spacingAndGlyphs">GATA3</text>
<text x="156.30" y="516.43" font-size="7.3" fill="#231f20" stroke="#231f20" stroke-width="0.07" text-anchor="start" textLength="20.43" lengthAdjust="spacingAndGlyphs">1e-119</text>
<text x="190.00" y="516.43" font-size="7.3" fill="#231f20" stroke="#231f20" stroke-width="0.07" text-anchor="start" textLength="14.79" lengthAdjust="spacingAndGlyphs">1710</text>
<text x="10.00" y="526.48" font-size="7.2" fill="#231f20" stroke="#231f20" stroke-width="0.07" text-anchor="start">6</text>
<text transform="matrix(0.580,0,0,0.254,23.46,527.88)" font-size="10" font-weight="bold" fill="#e6a024" stroke="#e6a024" stroke-width="0.25" text-anchor="middle">G</text><text transform="matrix(0.625,0,0,0.254,23.46,526.06)" font-size="10" font-weight="bold" fill="#53a83c" stroke="#53a83c" stroke-width="0.25" text-anchor="middle">A</text><text transform="matrix(0.625,0,0,0.507,23.46,524.25)" font-size="10" font-weight="bold" fill="#2438a6" stroke="#2438a6" stroke-width="0.25" text-anchor="middle">C</text><text transform="matrix(0.625,0,0,0.507,27.97,527.88)" font-size="10" font-weight="bold" fill="#53a83c" stroke="#53a83c" stroke-width="0.25" text-anchor="middle">A</text><text transform="matrix(0.625,0,0,0.507,27.97,524.25)" font-size="10" font-weight="bold" fill="#2438a6" stroke="#2438a6" stroke-width="0.25" text-anchor="middle">C</text><text transform="matrix(0.625,0,0,0.507,32.49,527.88)" font-size="10" font-weight="bold" fill="#53a83c" stroke="#53a83c" stroke-width="0.25" text-anchor="middle">A</text><text transform="matrix(0.739,0,0,0.507,32.49,524.25)" font-size="10" font-weight="bold" fill="#c52a2e" stroke="#c52a2e" stroke-width="0.25" text-anchor="middle">T</text><text transform="matrix(0.625,0,0,1.268,37.00,527.88)" font-size="10" font-weight="bold" fill="#2438a6" stroke="#2438a6" stroke-width="0.25" text-anchor="middle">C</text><text transform="matrix(0.739,0,0,1.268,41.51,527.88)" font-size="10" font-weight="bold" fill="#c52a2e" stroke="#c52a2e" stroke-width="0.25" text-anchor="middle">T</text><text transform="matrix(0.580,0,0,1.268,46.03,527.88)" font-size="10" font-weight="bold" fill="#e6a024" stroke="#e6a024" stroke-width="0.25" text-anchor="middle">G</text><text transform="matrix(0.625,0,0,0.211,50.54,527.88)" font-size="10" font-weight="bold" fill="#53a83c" stroke="#53a83c" stroke-width="0.25" text-anchor="middle">A</text><text transform="matrix(0.739,0,0,0.423,50.54,526.37)" font-size="10" font-weight="bold" fill="#c52a2e" stroke="#c52a2e" stroke-width="0.25" text-anchor="middle">T</text><text transform="matrix(0.625,0,0,0.634,50.54,523.34)" font-size="10" font-weight="bold" fill="#2438a6" stroke="#2438a6" stroke-width="0.25" text-anchor="middle">C</text><text transform="matrix(0.580,0,0,0.507,55.06,527.88)" font-size="10" font-weight="bold" fill="#e6a024" stroke="#e6a024" stroke-width="0.25" text-anchor="middle">G</text><text transform="matrix(0.739,0,0,0.507,55.06,524.25)" font-size="10" font-weight="bold" fill="#c52a2e" stroke="#c52a2e" stroke-width="0.25" text-anchor="middle">T</text><text transform="matrix(0.739,0,0,0.507,59.57,527.88)" font-size="10" font-weight="bold" fill="#c52a2e" stroke="#c52a2e" stroke-width="0.25" text-anchor="middle">T</text><text transform="matrix(0.625,0,0,0.507,59.57,524.25)" font-size="10" font-weight="bold" fill="#2438a6" stroke="#2438a6" stroke-width="0.25" text-anchor="middle">C</text><text transform="matrix(0.580,0,0,0.254,64.09,527.88)" font-size="10" font-weight="bold" fill="#e6a024" stroke="#e6a024" stroke-width="0.25" text-anchor="middle">G</text><text transform="matrix(0.625,0,0,0.761,64.09,526.06)" font-size="10" font-weight="bold" fill="#2438a6" stroke="#2438a6" stroke-width="0.25" text-anchor="middle">C</text><text transform="matrix(0.739,0,0,0.507,68.60,527.88)" font-size="10" font-weight="bold" fill="#c52a2e" stroke="#c52a2e" stroke-width="0.25" text-anchor="middle">T</text><text transform="matrix(0.625,0,0,0.507,68.60,524.25)" font-size="10" font-weight="bold" fill="#2438a6" stroke="#2438a6" stroke-width="0.25" text-anchor="middle">C</text><text transform="matrix(0.625,0,0,0.254,73.11,527.88)" font-size="10" font-weight="bold" fill="#53a83c" stroke="#53a83c" stroke-width="0.25" text-anchor="middle">A</text><text transform="matrix(0.625,0,0,0.761,73.11,526.06)" font-size="10" font-weight="bold" fill="#2438a6" stroke="#2438a6" stroke-width="0.25" text-anchor="middle">C</text><text transform="matrix(0.580,0,0,0.507,77.63,527.88)" font-size="10" font-weight="bold" fill="#e6a024" stroke="#e6a024" stroke-width="0.25" text-anchor="middle">G</text><text transform="matrix(0.625,0,0,0.507,77.63,524.25)" font-size="10" font-weight="bold" fill="#2438a6" stroke="#2438a6" stroke-width="0.25" text-anchor="middle">C</text><text transform="matrix(0.625,0,0,0.451,82.14,527.88)" font-size="10" font-weight="bold" fill="#2438a6" stroke="#2438a6" stroke-width="0.25" text-anchor="middle">C</text><text transform="matrix(0.625,0,0,0.676,82.14,524.65)" font-size="10" font-weight="bold" fill="#53a83c" stroke="#53a83c" stroke-width="0.25" text-anchor="middle">A</text><text transform="matrix(0.580,0,0,0.451,86.66,527.88)" font-size="10" font-weight="bold" fill="#e6a024" stroke="#e6a024" stroke-width="0.25" text-anchor="middle">G</text><text transform="matrix(0.625,0,0,0.676,86.66,524.65)" font-size="10" font-weight="bold" fill="#2438a6" stroke="#2438a6" stroke-width="0.25" text-anchor="middle">C</text><text transform="matrix(0.625,0,0,1.268,91.17,527.88)" font-size="10" font-weight="bold" fill="#53a83c" stroke="#53a83c" stroke-width="0.25" text-anchor="middle">A</text><text transform="matrix(0.580,0,0,1.268,95.69,527.88)" font-size="10" font-weight="bold" fill="#e6a024" stroke="#e6a024" stroke-width="0.25" text-anchor="middle">G</text><text transform="matrix(0.625,0,0,1.268,100.20,527.88)" font-size="10" font-weight="bold" fill="#53a83c" stroke="#53a83c" stroke-width="0.25" text-anchor="middle">A</text><text transform="matrix(0.739,0,0,1.268,104.71,527.88)" font-size="10" font-weight="bold" fill="#c52a2e" stroke="#c52a2e" stroke-width="0.25" text-anchor="middle">T</text><text transform="matrix(0.625,0,0,1.268,109.23,527.88)" font-size="10" font-weight="bold" fill="#53a83c" stroke="#53a83c" stroke-width="0.25" text-anchor="middle">A</text><text transform="matrix(0.625,0,0,1.268,113.74,527.88)" font-size="10" font-weight="bold" fill="#53a83c" stroke="#53a83c" stroke-width="0.25" text-anchor="middle">A</text>
<text x="120.00" y="526.51" font-size="7.3" fill="#231f20" stroke="#231f20" stroke-width="0.07" text-anchor="start" textLength="34.46" lengthAdjust="spacingAndGlyphs">GATA: SCL</text>
<text x="156.30" y="526.51" font-size="7.3" fill="#231f20" stroke="#231f20" stroke-width="0.07" text-anchor="start" textLength="17.19" lengthAdjust="spacingAndGlyphs">1e-98</text>
<text x="190.00" y="526.51" font-size="7.3" fill="#231f20" stroke="#231f20" stroke-width="0.07" text-anchor="start" textLength="11.10" lengthAdjust="spacingAndGlyphs">446</text>
<text x="10.00" y="536.56" font-size="7.2" fill="#231f20" stroke="#231f20" stroke-width="0.07" text-anchor="start">7</text>
<text transform="matrix(0.640,0,0,0.451,23.51,537.96)" font-size="10" font-weight="bold" fill="#53a83c" stroke="#53a83c" stroke-width="0.25" text-anchor="middle">A</text><text transform="matrix(0.640,0,0,0.676,23.51,534.73)" font-size="10" font-weight="bold" fill="#2438a6" stroke="#2438a6" stroke-width="0.25" text-anchor="middle">C</text><text transform="matrix(0.757,0,0,1.268,28.14,537.96)" font-size="10" font-weight="bold" fill="#c52a2e" stroke="#c52a2e" stroke-width="0.25" text-anchor="middle">T</text><text transform="matrix(0.595,0,0,1.268,32.76,537.96)" font-size="10" font-weight="bold" fill="#e6a024" stroke="#e6a024" stroke-width="0.25" text-anchor="middle">G</text><text transform="matrix(0.595,0,0,1.268,37.39,537.96)" font-size="10" font-weight="bold" fill="#e6a024" stroke="#e6a024" stroke-width="0.25" text-anchor="middle">G</text><text transform="matrix(0.595,0,0,1.268,42.01,537.96)" font-size="10" font-weight="bold" fill="#e6a024" stroke="#e6a024" stroke-width="0.25" text-anchor="middle">G</text><text transform="matrix(0.757,0,0,1.268,46.64,537.96)" font-size="10" font-weight="bold" fill="#c52a2e" stroke="#c52a2e" stroke-width="0.25" text-anchor="middle">T</text><text transform="matrix(0.595,0,0,1.268,51.26,537.96)" font-size="10" font-weight="bold" fill="#e6a024" stroke="#e6a024" stroke-width="0.25" text-anchor="middle">G</text><text transform="matrix(0.757,0,0,1.268,55.89,537.96)" font-size="10" font-weight="bold" fill="#c52a2e" stroke="#c52a2e" stroke-width="0.25" text-anchor="middle">T</text><text transform="matrix(0.595,0,0,1.268,60.51,537.96)" font-size="10" font-weight="bold" fill="#e6a024" stroke="#e6a024" stroke-width="0.25" text-anchor="middle">G</text><text transform="matrix(0.595,0,0,1.268,65.14,537.96)" font-size="10" font-weight="bold" fill="#e6a024" stroke="#e6a024" stroke-width="0.25" text-anchor="middle">G</text><text transform="matrix(0.757,0,0,0.362,69.76,537.96)" font-size="10" font-weight="bold" fill="#c52a2e" stroke="#c52a2e" stroke-width="0.25" text-anchor="middle">T</text><text transform="matrix(0.640,0,0,0.906,69.76,535.37)" font-size="10" font-weight="bold" fill="#2438a6" stroke="#2438a6" stroke-width="0.25" text-anchor="middle">C</text><text transform="matrix(0.757,0,0,0.543,74.39,537.96)" font-size="10" font-weight="bold" fill="#c52a2e" stroke="#c52a2e" stroke-width="0.25" text-anchor="middle">T</text><text transform="matrix(0.640,0,0,0.725,74.39,534.07)" font-size="10" font-weight="bold" fill="#2438a6" stroke="#2438a6" stroke-width="0.25" text-anchor="middle">C</text>
<text x="120.00" y="536.59" font-size="7.3" fill="#231f20" stroke="#231f20" stroke-width="0.07" text-anchor="start" textLength="16.98" lengthAdjust="spacingAndGlyphs">EKLF</text>
<text x="156.30" y="536.59" font-size="7.3" fill="#231f20" stroke="#231f20" stroke-width="0.07" text-anchor="start" textLength="13.45" lengthAdjust="spacingAndGlyphs">1e-6</text>
<text x="190.00" y="536.59" font-size="7.3" fill="#231f20" stroke="#231f20" stroke-width="0.07" text-anchor="start" textLength="10.60" lengthAdjust="spacingAndGlyphs">311</text>
<text x="10.00" y="546.64" font-size="7.2" fill="#231f20" stroke="#231f20" stroke-width="0.07" text-anchor="start">8</text>
<text transform="matrix(0.640,0,0,0.451,23.51,548.04)" font-size="10" font-weight="bold" fill="#2438a6" stroke="#2438a6" stroke-width="0.25" text-anchor="middle">C</text><text transform="matrix(0.595,0,0,0.676,23.51,544.81)" font-size="10" font-weight="bold" fill="#e6a024" stroke="#e6a024" stroke-width="0.25" text-anchor="middle">G</text><text transform="matrix(0.595,0,0,1.268,28.14,548.04)" font-size="10" font-weight="bold" fill="#e6a024" stroke="#e6a024" stroke-width="0.25" text-anchor="middle">G</text><text transform="matrix(0.640,0,0,1.268,32.76,548.04)" font-size="10" font-weight="bold" fill="#2438a6" stroke="#2438a6" stroke-width="0.25" text-anchor="middle">C</text><text transform="matrix(0.640,0,0,1.268,37.39,548.04)" font-size="10" font-weight="bold" fill="#2438a6" stroke="#2438a6" stroke-width="0.25" text-anchor="middle">C</text><text transform="matrix(0.640,0,0,1.268,42.01,548.04)" font-size="10" font-weight="bold" fill="#2438a6" stroke="#2438a6" stroke-width="0.25" text-anchor="middle">C</text><text transform="matrix(0.640,0,0,1.268,46.64,548.04)" font-size="10" font-weight="bold" fill="#2438a6" stroke="#2438a6" stroke-width="0.25" text-anchor="middle">C</text><text transform="matrix(0.595,0,0,1.268,51.26,548.04)" font-size="10" font-weight="bold" fill="#e6a024" stroke="#e6a024" stroke-width="0.25" text-anchor="middle">G</text><text transform="matrix(0.640,0,0,1.268,55.89,548.04)" font-size="10" font-weight="bold" fill="#2438a6" stroke="#2438a6" stroke-width="0.25" text-anchor="middle">C</text><text transform="matrix(0.640,0,0,1.268,60.51,548.04)" font-size="10" font-weight="bold" fill="#2438a6" stroke="#2438a6" stroke-width="0.25" text-anchor="middle">C</text><text transform="matrix(0.640,0,0,1.268,65.14,548.04)" font-size="10" font-weight="bold" fill="#2438a6" stroke="#2438a6" stroke-width="0.25" text-anchor="middle">C</text><text transform="matrix(0.640,0,0,1.268,69.76,548.04)" font-size="10" font-weight="bold" fill="#2438a6" stroke="#2438a6" stroke-width="0.25" text-anchor="middle">C</text><text transform="matrix(0.595,0,0,0.362,74.39,548.04)" font-size="10" font-weight="bold" fill="#e6a024" stroke="#e6a024" stroke-width="0.25" text-anchor="middle">G</text><text transform="matrix(0.640,0,0,0.906,74.39,545.45)" font-size="10" font-weight="bold" fill="#2438a6" stroke="#2438a6" stroke-width="0.25" text-anchor="middle">C</text>
<text x="120.00" y="546.67" font-size="7.3" fill="#231f20" stroke="#231f20" stroke-width="0.07" text-anchor="start" textLength="12.83" lengthAdjust="spacingAndGlyphs">SP1</text>
<text x="156.30" y="546.67" font-size="7.3" fill="#231f20" stroke="#231f20" stroke-width="0.07" text-anchor="start" textLength="13.45" lengthAdjust="spacingAndGlyphs">1e-6</text>
<text x="190.00" y="546.67" font-size="7.3" fill="#231f20" stroke="#231f20" stroke-width="0.07" text-anchor="start" textLength="11.10" lengthAdjust="spacingAndGlyphs">140</text>
<text x="10.00" y="556.72" font-size="7.2" fill="#231f20" stroke="#231f20" stroke-width="0.07" text-anchor="start">9</text>
<text transform="matrix(0.654,0,0,0.507,23.56,558.12)" font-size="10" font-weight="bold" fill="#53a83c" stroke="#53a83c" stroke-width="0.25" text-anchor="middle">A</text><text transform="matrix(0.773,0,0,0.507,23.56,554.49)" font-size="10" font-weight="bold" fill="#c52a2e" stroke="#c52a2e" stroke-width="0.25" text-anchor="middle">T</text><text transform="matrix(0.607,0,0,0.507,28.28,558.12)" font-size="10" font-weight="bold" fill="#e6a024" stroke="#e6a024" stroke-width="0.25" text-anchor="middle">G</text><text transform="matrix(0.654,0,0,0.507,28.28,554.49)" font-size="10" font-weight="bold" fill="#2438a6" stroke="#2438a6" stroke-width="0.25" text-anchor="middle">C</text><text transform="matrix(0.607,0,0,0.676,33.00,558.12)" font-size="10" font-weight="bold" fill="#e6a024" stroke="#e6a024" stroke-width="0.25" text-anchor="middle">G</text><text transform="matrix(0.654,0,0,0.451,33.00,553.28)" font-size="10" font-weight="bold" fill="#53a83c" stroke="#53a83c" stroke-width="0.25" text-anchor="middle">A</text><text transform="matrix(0.654,0,0,1.268,37.72,558.12)" font-size="10" font-weight="bold" fill="#2438a6" stroke="#2438a6" stroke-width="0.25" text-anchor="middle">C</text><text transform="matrix(0.654,0,0,1.268,42.44,558.12)" font-size="10" font-weight="bold" fill="#2438a6" stroke="#2438a6" stroke-width="0.25" text-anchor="middle">C</text><text transform="matrix(0.607,0,0,0.423,47.16,558.12)" font-size="10" font-weight="bold" fill="#e6a024" stroke="#e6a024" stroke-width="0.25" text-anchor="middle">G</text><text transform="matrix(0.654,0,0,0.845,47.16,555.09)" font-size="10" font-weight="bold" fill="#2438a6" stroke="#2438a6" stroke-width="0.25" text-anchor="middle">C</text><text transform="matrix(0.654,0,0,0.451,51.88,558.12)" font-size="10" font-weight="bold" fill="#53a83c" stroke="#53a83c" stroke-width="0.25" text-anchor="middle">A</text><text transform="matrix(0.654,0,0,0.676,51.88,554.89)" font-size="10" font-weight="bold" fill="#2438a6" stroke="#2438a6" stroke-width="0.25" text-anchor="middle">C</text><text transform="matrix(0.654,0,0,0.451,56.60,558.12)" font-size="10" font-weight="bold" fill="#2438a6" stroke="#2438a6" stroke-width="0.25" text-anchor="middle">C</text><text transform="matrix(0.654,0,0,0.676,56.60,554.89)" font-size="10" font-weight="bold" fill="#53a83c" stroke="#53a83c" stroke-width="0.25" text-anchor="middle">A</text><text transform="matrix(0.654,0,0,1.268,61.32,558.12)" font-size="10" font-weight="bold" fill="#2438a6" stroke="#2438a6" stroke-width="0.25" text-anchor="middle">C</text><text transform="matrix(0.654,0,0,1.268,66.04,558.12)" font-size="10" font-weight="bold" fill="#2438a6" stroke="#2438a6" stroke-width="0.25" text-anchor="middle">C</text><text transform="matrix(0.654,0,0,1.268,70.76,558.12)" font-size="10" font-weight="bold" fill="#2438a6" stroke="#2438a6" stroke-width="0.25" text-anchor="middle">C</text><text transform="matrix(0.773,0,0,0.451,75.48,558.12)" font-size="10" font-weight="bold" fill="#c52a2e" stroke="#c52a2e" stroke-width="0.25" text-anchor="middle">T</text><text transform="matrix(0.654,0,0,0.676,75.48,554.89)" font-size="10" font-weight="bold" fill="#2438a6" stroke="#2438a6" stroke-width="0.25" text-anchor="middle">C</text><text transform="matrix(0.654,0,0,0.254,80.20,558.12)" font-size="10" font-weight="bold" fill="#2438a6" stroke="#2438a6" stroke-width="0.25" text-anchor="middle">C</text><text transform="matrix(0.773,0,0,0.761,80.20,556.30)" font-size="10" font-weight="bold" fill="#c52a2e" stroke="#c52a2e" stroke-width="0.25" text-anchor="middle">T</text><text transform="matrix(0.654,0,0,0.451,84.92,558.12)" font-size="10" font-weight="bold" fill="#53a83c" stroke="#53a83c" stroke-width="0.25" text-anchor="middle">A</text><text transform="matrix(0.654,0,0,0.676,84.92,554.89)" font-size="10" font-weight="bold" fill="#2438a6" stroke="#2438a6" stroke-width="0.25" text-anchor="middle">C</text><text transform="matrix(0.654,0,0,0.451,89.64,558.12)" font-size="10" font-weight="bold" fill="#53a83c" stroke="#53a83c" stroke-width="0.25" text-anchor="middle">A</text><text transform="matrix(0.654,0,0,0.676,89.64,554.89)" font-size="10" font-weight="bold" fill="#2438a6" stroke="#2438a6" stroke-width="0.25" text-anchor="middle">C</text>
<text x="120.00" y="556.75" font-size="7.3" fill="#231f20" stroke="#231f20" stroke-width="0.07" text-anchor="start" textLength="16.23" lengthAdjust="spacingAndGlyphs">KLF3</text>
<text x="156.30" y="556.75" font-size="7.3" fill="#231f20" stroke="#231f20" stroke-width="0.07" text-anchor="start" textLength="13.45" lengthAdjust="spacingAndGlyphs">1e-4</text>
<text x="190.00" y="556.75" font-size="7.3" fill="#231f20" stroke="#231f20" stroke-width="0.07" text-anchor="start" textLength="11.10" lengthAdjust="spacingAndGlyphs">468</text>
<text x="10.00" y="566.80" font-size="7.2" fill="#231f20" stroke="#231f20" stroke-width="0.07" text-anchor="start">10</text>
<text transform="matrix(0.607,0,0,1.268,23.56,568.20)" font-size="10" font-weight="bold" fill="#e6a024" stroke="#e6a024" stroke-width="0.25" text-anchor="middle">G</text><text transform="matrix(0.654,0,0,1.268,28.28,568.20)" font-size="10" font-weight="bold" fill="#2438a6" stroke="#2438a6" stroke-width="0.25" text-anchor="middle">C</text><text transform="matrix(0.654,0,0,1.268,33.00,568.20)" font-size="10" font-weight="bold" fill="#2438a6" stroke="#2438a6" stroke-width="0.25" text-anchor="middle">C</text><text transform="matrix(0.654,0,0,1.268,37.72,568.20)" font-size="10" font-weight="bold" fill="#53a83c" stroke="#53a83c" stroke-width="0.25" text-anchor="middle">A</text><text transform="matrix(0.654,0,0,1.268,42.44,568.20)" font-size="10" font-weight="bold" fill="#2438a6" stroke="#2438a6" stroke-width="0.25" text-anchor="middle">C</text><text transform="matrix(0.654,0,0,1.268,47.16,568.20)" font-size="10" font-weight="bold" fill="#53a83c" stroke="#53a83c" stroke-width="0.25" text-anchor="middle">A</text><text transform="matrix(0.654,0,0,1.268,51.88,568.20)" font-size="10" font-weight="bold" fill="#2438a6" stroke="#2438a6" stroke-width="0.25" text-anchor="middle">C</text><text transform="matrix(0.654,0,0,1.268,56.60,568.20)" font-size="10" font-weight="bold" fill="#2438a6" stroke="#2438a6" stroke-width="0.25" text-anchor="middle">C</text><text transform="matrix(0.654,0,0,1.268,61.32,568.20)" font-size="10" font-weight="bold" fill="#2438a6" stroke="#2438a6" stroke-width="0.25" text-anchor="middle">C</text><text transform="matrix(0.654,0,0,1.015,66.04,568.20)" font-size="10" font-weight="bold" fill="#53a83c" stroke="#53a83c" stroke-width="0.25" text-anchor="middle">A</text>
<text x="120.00" y="566.83" font-size="7.3" fill="#231f20" stroke="#231f20" stroke-width="0.07" text-anchor="start" textLength="16.23" lengthAdjust="spacingAndGlyphs">KLF4</text>
<text x="156.30" y="566.83" font-size="7.3" fill="#231f20" stroke="#231f20" stroke-width="0.07" text-anchor="start" textLength="13.45" lengthAdjust="spacingAndGlyphs">1e-3</text>
<text x="190.00" y="566.83" font-size="7.3" fill="#231f20" stroke="#231f20" stroke-width="0.07" text-anchor="start" textLength="11.10" lengthAdjust="spacingAndGlyphs">424</text>
<text x="10.00" y="576.88" font-size="7.2" fill="#231f20" stroke="#231f20" stroke-width="0.07" text-anchor="start">11</text>
<text transform="matrix(0.595,0,0,0.451,23.51,578.28)" font-size="10" font-weight="bold" fill="#e6a024" stroke="#e6a024" stroke-width="0.25" text-anchor="middle">G</text><text transform="matrix(0.640,0,0,0.676,23.51,575.05)" font-size="10" font-weight="bold" fill="#53a83c" stroke="#53a83c" stroke-width="0.25" text-anchor="middle">A</text><text transform="matrix(0.595,0,0,1.268,28.14,578.28)" font-size="10" font-weight="bold" fill="#e6a024" stroke="#e6a024" stroke-width="0.25" text-anchor="middle">G</text><text transform="matrix(0.595,0,0,0.362,32.76,578.28)" font-size="10" font-weight="bold" fill="#e6a024" stroke="#e6a024" stroke-width="0.25" text-anchor="middle">G</text><text transform="matrix(0.757,0,0,0.906,32.76,575.69)" font-size="10" font-weight="bold" fill="#c52a2e" stroke="#c52a2e" stroke-width="0.25" text-anchor="middle">T</text><text transform="matrix(0.595,0,0,1.268,37.39,578.28)" font-size="10" font-weight="bold" fill="#e6a024" stroke="#e6a024" stroke-width="0.25" text-anchor="middle">G</text><text transform="matrix(0.595,0,0,1.268,42.01,578.28)" font-size="10" font-weight="bold" fill="#e6a024" stroke="#e6a024" stroke-width="0.25" text-anchor="middle">G</text><text transform="matrix(0.595,0,0,1.268,46.64,578.28)" font-size="10" font-weight="bold" fill="#e6a024" stroke="#e6a024" stroke-width="0.25" text-anchor="middle">G</text><text transform="matrix(0.640,0,0,1.268,51.26,578.28)" font-size="10" font-weight="bold" fill="#2438a6" stroke="#2438a6" stroke-width="0.25" text-anchor="middle">C</text><text transform="matrix(0.595,0,0,1.268,55.89,578.28)" font-size="10" font-weight="bold" fill="#e6a024" stroke="#e6a024" stroke-width="0.25" text-anchor="middle">G</text><text transform="matrix(0.595,0,0,1.268,60.51,578.28)" font-size="10" font-weight="bold" fill="#e6a024" stroke="#e6a024" stroke-width="0.25" text-anchor="middle">G</text><text transform="matrix(0.640,0,0,1.268,65.14,578.28)" font-size="10" font-weight="bold" fill="#53a83c" stroke="#53a83c" stroke-width="0.25" text-anchor="middle">A</text><text transform="matrix(0.595,0,0,1.268,69.76,578.28)" font-size="10" font-weight="bold" fill="#e6a024" stroke="#e6a024" stroke-width="0.25" text-anchor="middle">G</text><text transform="matrix(0.640,0,0,1.268,74.39,578.28)" font-size="10" font-weight="bold" fill="#2438a6" stroke="#2438a6" stroke-width="0.25" text-anchor="middle">C</text>
<text x="120.00" y="576.91" font-size="7.3" fill="#231f20" stroke="#231f20" stroke-width="0.07" text-anchor="start" textLength="12.83" lengthAdjust="spacingAndGlyphs">SP5</text>
<text x="156.30" y="576.91" font-size="7.3" fill="#231f20" stroke="#231f20" stroke-width="0.07" text-anchor="start" textLength="13.45" lengthAdjust="spacingAndGlyphs">1e-2</text>
<text x="190.00" y="576.91" font-size="7.3" fill="#231f20" stroke="#231f20" stroke-width="0.07" text-anchor="start" textLength="11.10" lengthAdjust="spacingAndGlyphs">760</text>
<text x="10.00" y="586.96" font-size="7.2" fill="#231f20" stroke="#231f20" stroke-width="0.07" text-anchor="start">12</text>
<text transform="matrix(0.773,0,0,0.451,23.56,588.36)" font-size="10" font-weight="bold" fill="#c52a2e" stroke="#c52a2e" stroke-width="0.25" text-anchor="middle">T</text><text transform="matrix(0.654,0,0,0.676,23.56,585.13)" font-size="10" font-weight="bold" fill="#53a83c" stroke="#53a83c" stroke-width="0.25" text-anchor="middle">A</text><text transform="matrix(0.773,0,0,0.451,28.28,588.36)" font-size="10" font-weight="bold" fill="#c52a2e" stroke="#c52a2e" stroke-width="0.25" text-anchor="middle">T</text><text transform="matrix(0.654,0,0,0.676,28.28,585.13)" font-size="10" font-weight="bold" fill="#53a83c" stroke="#53a83c" stroke-width="0.25" text-anchor="middle">A</text><text transform="matrix(0.773,0,0,0.451,33.00,588.36)" font-size="10" font-weight="bold" fill="#c52a2e" stroke="#c52a2e" stroke-width="0.25" text-anchor="middle">T</text><text transform="matrix(0.654,0,0,0.676,33.00,585.13)" font-size="10" font-weight="bold" fill="#53a83c" stroke="#53a83c" stroke-width="0.25" text-anchor="middle">A</text><text transform="matrix(0.654,0,0,0.507,37.72,588.36)" font-size="10" font-weight="bold" fill="#2438a6" stroke="#2438a6" stroke-width="0.25" text-anchor="middle">C</text><text transform="matrix(0.607,0,0,0.507,37.72,584.73)" font-size="10" font-weight="bold" fill="#e6a024" stroke="#e6a024" stroke-width="0.25" text-anchor="middle">G</text><text transform="matrix(0.773,0,0,1.268,42.44,588.36)" font-size="10" font-weight="bold" fill="#c52a2e" stroke="#c52a2e" stroke-width="0.25" text-anchor="middle">T</text><text transform="matrix(0.607,0,0,1.268,47.16,588.36)" font-size="10" font-weight="bold" fill="#e6a024" stroke="#e6a024" stroke-width="0.25" text-anchor="middle">G</text><text transform="matrix(0.654,0,0,1.268,51.88,588.36)" font-size="10" font-weight="bold" fill="#2438a6" stroke="#2438a6" stroke-width="0.25" text-anchor="middle">C</text><text transform="matrix(0.773,0,0,1.268,56.60,588.36)" font-size="10" font-weight="bold" fill="#c52a2e" stroke="#c52a2e" stroke-width="0.25" text-anchor="middle">T</text><text transform="matrix(0.607,0,0,1.268,61.32,588.36)" font-size="10" font-weight="bold" fill="#e6a024" stroke="#e6a024" stroke-width="0.25" text-anchor="middle">G</text><text transform="matrix(0.654,0,0,1.268,66.04,588.36)" font-size="10" font-weight="bold" fill="#53a83c" stroke="#53a83c" stroke-width="0.25" text-anchor="middle">A</text><text transform="matrix(0.607,0,0,1.268,70.76,588.36)" font-size="10" font-weight="bold" fill="#e6a024" stroke="#e6a024" stroke-width="0.25" text-anchor="middle">G</text><text transform="matrix(0.773,0,0,1.268,75.48,588.36)" font-size="10" font-weight="bold" fill="#c52a2e" stroke="#c52a2e" stroke-width="0.25" text-anchor="middle">T</text><text transform="matrix(0.654,0,0,1.268,80.20,588.36)" font-size="10" font-weight="bold" fill="#2438a6" stroke="#2438a6" stroke-width="0.25" text-anchor="middle">C</text><text transform="matrix(0.654,0,0,1.268,84.92,588.36)" font-size="10" font-weight="bold" fill="#53a83c" stroke="#53a83c" stroke-width="0.25" text-anchor="middle">A</text><text transform="matrix(0.654,0,0,0.362,89.64,588.36)" font-size="10" font-weight="bold" fill="#2438a6" stroke="#2438a6" stroke-width="0.25" text-anchor="middle">C</text><text transform="matrix(0.773,0,0,0.906,89.64,585.77)" font-size="10" font-weight="bold" fill="#c52a2e" stroke="#c52a2e" stroke-width="0.25" text-anchor="middle">T</text>
<text x="120.00" y="586.99" font-size="7.3" fill="#231f20" stroke="#231f20" stroke-width="0.07" text-anchor="start" textLength="22.64" lengthAdjust="spacingAndGlyphs">BACH1</text>
<text x="156.30" y="586.99" font-size="7.3" fill="#231f20" stroke="#231f20" stroke-width="0.07" text-anchor="start" textLength="13.45" lengthAdjust="spacingAndGlyphs">1e-2</text>
<text x="190.00" y="586.99" font-size="7.3" fill="#231f20" stroke="#231f20" stroke-width="0.07" text-anchor="start" textLength="7.40" lengthAdjust="spacingAndGlyphs">83</text>
<text x="10.00" y="597.04" font-size="7.2" fill="#231f20" stroke="#231f20" stroke-width="0.07" text-anchor="start">13</text>
<text transform="matrix(0.654,0,0,1.268,23.56,598.44)" font-size="10" font-weight="bold" fill="#53a83c" stroke="#53a83c" stroke-width="0.25" text-anchor="middle">A</text><text transform="matrix(0.607,0,0,1.268,28.28,598.44)" font-size="10" font-weight="bold" fill="#e6a024" stroke="#e6a024" stroke-width="0.25" text-anchor="middle">G</text><text transform="matrix(0.654,0,0,1.268,33.00,598.44)" font-size="10" font-weight="bold" fill="#53a83c" stroke="#53a83c" stroke-width="0.25" text-anchor="middle">A</text><text transform="matrix(0.773,0,0,1.268,37.72,598.44)" font-size="10" font-weight="bold" fill="#c52a2e" stroke="#c52a2e" stroke-width="0.25" text-anchor="middle">T</text><text transform="matrix(0.654,0,0,0.451,42.44,598.44)" font-size="10" font-weight="bold" fill="#53a83c" stroke="#53a83c" stroke-width="0.25" text-anchor="middle">A</text><text transform="matrix(0.773,0,0,0.676,42.44,595.21)" font-size="10" font-weight="bold" fill="#c52a2e" stroke="#c52a2e" stroke-width="0.25" text-anchor="middle">T</text><text transform="matrix(0.607,0,0,0.507,47.16,598.44)" font-size="10" font-weight="bold" fill="#e6a024" stroke="#e6a024" stroke-width="0.25" text-anchor="middle">G</text><text transform="matrix(0.654,0,0,0.507,47.16,594.81)" font-size="10" font-weight="bold" fill="#53a83c" stroke="#53a83c" stroke-width="0.25" text-anchor="middle">A</text><text transform="matrix(0.654,0,0,0.507,51.88,598.44)" font-size="10" font-weight="bold" fill="#2438a6" stroke="#2438a6" stroke-width="0.25" text-anchor="middle">C</text><text transform="matrix(0.607,0,0,0.507,51.88,594.81)" font-size="10" font-weight="bold" fill="#e6a024" stroke="#e6a024" stroke-width="0.25" text-anchor="middle">G</text><text transform="matrix(0.607,0,0,0.451,56.60,598.44)" font-size="10" font-weight="bold" fill="#e6a024" stroke="#e6a024" stroke-width="0.25" text-anchor="middle">G</text><text transform="matrix(0.654,0,0,0.676,56.60,595.21)" font-size="10" font-weight="bold" fill="#53a83c" stroke="#53a83c" stroke-width="0.25" text-anchor="middle">A</text><text transform="matrix(0.654,0,0,1.268,61.32,598.44)" font-size="10" font-weight="bold" fill="#53a83c" stroke="#53a83c" stroke-width="0.25" text-anchor="middle">A</text><text transform="matrix(0.607,0,0,1.268,66.04,598.44)" font-size="10" font-weight="bold" fill="#e6a024" stroke="#e6a024" stroke-width="0.25" text-anchor="middle">G</text><text transform="matrix(0.654,0,0,1.268,70.76,598.44)" font-size="10" font-weight="bold" fill="#53a83c" stroke="#53a83c" stroke-width="0.25" text-anchor="middle">A</text><text transform="matrix(0.773,0,0,1.268,75.48,598.44)" font-size="10" font-weight="bold" fill="#c52a2e" stroke="#c52a2e" stroke-width="0.25" text-anchor="middle">T</text><text transform="matrix(0.654,0,0,1.268,80.20,598.44)" font-size="10" font-weight="bold" fill="#53a83c" stroke="#53a83c" stroke-width="0.25" text-anchor="middle">A</text><text transform="matrix(0.654,0,0,1.268,84.92,598.44)" font-size="10" font-weight="bold" fill="#53a83c" stroke="#53a83c" stroke-width="0.25" text-anchor="middle">A</text><text transform="matrix(0.654,0,0,0.423,89.64,598.44)" font-size="10" font-weight="bold" fill="#53a83c" stroke="#53a83c" stroke-width="0.25" text-anchor="middle">A</text><text transform="matrix(0.607,0,0,0.845,89.64,595.41)" font-size="10" font-weight="bold" fill="#e6a024" stroke="#e6a024" stroke-width="0.25" text-anchor="middle">G</text>
<text x="120.00" y="597.07" font-size="7.3" fill="#231f20" stroke="#231f20" stroke-width="0.07" text-anchor="start" textLength="21.26" lengthAdjust="spacingAndGlyphs">GATA3</text>
<text x="156.30" y="597.07" font-size="7.3" fill="#231f20" stroke="#231f20" stroke-width="0.07" text-anchor="start" textLength="13.45" lengthAdjust="spacingAndGlyphs">1e-2</text>
<text x="190.00" y="597.07" font-size="7.3" fill="#231f20" stroke="#231f20" stroke-width="0.07" text-anchor="start" textLength="11.10" lengthAdjust="spacingAndGlyphs">155</text>
<text x="277.50" y="239.22" font-size="8.3" fill="#b5294e" stroke="#b5294e" stroke-width="0.07" textLength="90.75" lengthAdjust="spacingAndGlyphs"><tspan>Gained binding in </tspan><tspan font-style="italic">Gata1s</tspan></text>
<text x="323.00" y="249.26" font-size="8.4" fill="#231f20" stroke="#231f20" stroke-width="0.07" font-style="italic" text-anchor="middle">Motif</text>
<text x="373.80" y="250.21" font-size="8.4" fill="#231f20" stroke="#231f20" stroke-width="0.07" font-style="italic" text-anchor="start" textLength="21.00" lengthAdjust="spacingAndGlyphs">Name</text>
<text x="415.40" y="250.21" font-size="8.4" fill="#231f20" stroke="#231f20" stroke-width="0.07" font-style="italic" text-anchor="start" textLength="25.60" lengthAdjust="spacingAndGlyphs">P-value</text>
<text x="450.00" y="241.01" font-size="8.4" fill="#231f20" stroke="#231f20" stroke-width="0.07" font-style="italic" text-anchor="start" textLength="61.40" lengthAdjust="spacingAndGlyphs">Target sequences</text>
<text x="450.00" y="250.21" font-size="8.4" fill="#231f20" stroke="#231f20" stroke-width="0.07" font-style="italic" text-anchor="start" textLength="35.00" lengthAdjust="spacingAndGlyphs">with motif</text>
<line x1="274.1" y1="253.80" x2="371.25" y2="253.80" stroke="#9a9a9a" stroke-width="1.0"/>
<line x1="274.1" y1="263.84" x2="371.25" y2="263.84" stroke="#9a9a9a" stroke-width="1.0"/>
<line x1="274.1" y1="273.87" x2="371.25" y2="273.87" stroke="#9a9a9a" stroke-width="1.0"/>
<line x1="274.1" y1="283.91" x2="371.25" y2="283.91" stroke="#9a9a9a" stroke-width="1.0"/>
<line x1="274.1" y1="293.94" x2="371.25" y2="293.94" stroke="#9a9a9a" stroke-width="1.0"/>
<line x1="274.1" y1="303.98" x2="371.25" y2="303.98" stroke="#9a9a9a" stroke-width="1.0"/>
<line x1="274.1" y1="314.01" x2="371.25" y2="314.01" stroke="#9a9a9a" stroke-width="1.0"/>
<line x1="274.1" y1="324.05" x2="371.25" y2="324.05" stroke="#9a9a9a" stroke-width="1.0"/>
<line x1="274.1" y1="334.08" x2="371.25" y2="334.08" stroke="#9a9a9a" stroke-width="1.0"/>
<line x1="274.1" y1="344.12" x2="371.25" y2="344.12" stroke="#9a9a9a" stroke-width="1.0"/>
<line x1="274.1" y1="354.15" x2="371.25" y2="354.15" stroke="#9a9a9a" stroke-width="1.0"/>
<line x1="274.1" y1="364.19" x2="371.25" y2="364.19" stroke="#9a9a9a" stroke-width="1.0"/>
<line x1="274.1" y1="374.22" x2="371.25" y2="374.22" stroke="#9a9a9a" stroke-width="1.0"/>
<line x1="274.1" y1="384.25" x2="371.25" y2="384.25" stroke="#9a9a9a" stroke-width="1.0"/>
<line x1="274.1" y1="394.29" x2="371.25" y2="394.29" stroke="#9a9a9a" stroke-width="1.0"/>
<line x1="274.1" y1="404.33" x2="371.25" y2="404.33" stroke="#9a9a9a" stroke-width="1.0"/>
<line x1="274.1" y1="414.36" x2="371.25" y2="414.36" stroke="#9a9a9a" stroke-width="1.0"/>
<line x1="274.1" y1="424.39" x2="371.25" y2="424.39" stroke="#9a9a9a" stroke-width="1.0"/>
<line x1="274.1" y1="434.43" x2="371.25" y2="434.43" stroke="#9a9a9a" stroke-width="1.0"/>
<line x1="274.1" y1="444.47" x2="371.25" y2="444.47" stroke="#9a9a9a" stroke-width="1.0"/>
<line x1="274.1" y1="454.50" x2="371.25" y2="454.50" stroke="#9a9a9a" stroke-width="1.0"/>
<line x1="274.1" y1="464.54" x2="371.25" y2="464.54" stroke="#9a9a9a" stroke-width="1.0"/>
<line x1="274.1" y1="474.57" x2="371.25" y2="474.57" stroke="#9a9a9a" stroke-width="1.0"/>
<line x1="274.1" y1="484.61" x2="371.25" y2="484.61" stroke="#9a9a9a" stroke-width="1.0"/>
<line x1="274.1" y1="494.64" x2="371.25" y2="494.64" stroke="#9a9a9a" stroke-width="1.0"/>
<line x1="274.1" y1="504.68" x2="371.25" y2="504.68" stroke="#9a9a9a" stroke-width="1.0"/>
<line x1="274.1" y1="514.71" x2="371.25" y2="514.71" stroke="#9a9a9a" stroke-width="1.0"/>
<line x1="274.1" y1="524.75" x2="371.25" y2="524.75" stroke="#9a9a9a" stroke-width="1.0"/>
<line x1="274.1" y1="534.78" x2="371.25" y2="534.78" stroke="#9a9a9a" stroke-width="1.0"/>
<line x1="274.1" y1="544.82" x2="371.25" y2="544.82" stroke="#9a9a9a" stroke-width="1.0"/>
<line x1="274.1" y1="554.85" x2="371.25" y2="554.85" stroke="#9a9a9a" stroke-width="1.0"/>
<line x1="274.1" y1="564.88" x2="371.25" y2="564.88" stroke="#9a9a9a" stroke-width="1.0"/>
<line x1="274.1" y1="574.92" x2="371.25" y2="574.92" stroke="#9a9a9a" stroke-width="1.0"/>
<line x1="274.1" y1="584.96" x2="371.25" y2="584.96" stroke="#9a9a9a" stroke-width="1.0"/>
<line x1="274.1" y1="253.80" x2="274.1" y2="584.96" stroke="#c8c8c8" stroke-width="0.7"/>
<text x="263.00" y="261.88" font-size="7.2" fill="#231f20" stroke="#231f20" stroke-width="0.07" text-anchor="start">1</text>
<text transform="matrix(0.670,0,0,0.449,276.92,263.54)" font-size="10" font-weight="bold" fill="#2438a6" stroke="#2438a6" stroke-width="0.25" text-anchor="middle">C</text><text transform="matrix(0.622,0,0,0.673,276.92,260.32)" font-size="10" font-weight="bold" fill="#e6a024" stroke="#e6a024" stroke-width="0.25" text-anchor="middle">G</text><text transform="matrix(0.670,0,0,1.262,281.76,263.54)" font-size="10" font-weight="bold" fill="#53a83c" stroke="#53a83c" stroke-width="0.25" text-anchor="middle">A</text><text transform="matrix(0.793,0,0,1.262,286.60,263.54)" font-size="10" font-weight="bold" fill="#c52a2e" stroke="#c52a2e" stroke-width="0.25" text-anchor="middle">T</text><text transform="matrix(0.622,0,0,1.262,291.45,263.54)" font-size="10" font-weight="bold" fill="#e6a024" stroke="#e6a024" stroke-width="0.25" text-anchor="middle">G</text><text transform="matrix(0.670,0,0,1.262,296.29,263.54)" font-size="10" font-weight="bold" fill="#53a83c" stroke="#53a83c" stroke-width="0.25" text-anchor="middle">A</text><text transform="matrix(0.670,0,0,1.262,301.13,263.54)" font-size="10" font-weight="bold" fill="#2438a6" stroke="#2438a6" stroke-width="0.25" text-anchor="middle">C</text><text transform="matrix(0.793,0,0,1.262,305.97,263.54)" font-size="10" font-weight="bold" fill="#c52a2e" stroke="#c52a2e" stroke-width="0.25" text-anchor="middle">T</text><text transform="matrix(0.670,0,0,1.262,310.81,263.54)" font-size="10" font-weight="bold" fill="#2438a6" stroke="#2438a6" stroke-width="0.25" text-anchor="middle">C</text><text transform="matrix(0.670,0,0,1.262,315.65,263.54)" font-size="10" font-weight="bold" fill="#53a83c" stroke="#53a83c" stroke-width="0.25" text-anchor="middle">A</text><text transform="matrix(0.622,0,0,1.262,320.50,263.54)" font-size="10" font-weight="bold" fill="#e6a024" stroke="#e6a024" stroke-width="0.25" text-anchor="middle">G</text><text transform="matrix(0.670,0,0,1.262,325.34,263.54)" font-size="10" font-weight="bold" fill="#2438a6" stroke="#2438a6" stroke-width="0.25" text-anchor="middle">C</text><text transform="matrix(0.670,0,0,1.262,330.18,263.54)" font-size="10" font-weight="bold" fill="#53a83c" stroke="#53a83c" stroke-width="0.25" text-anchor="middle">A</text>
<text x="374.80" y="261.91" font-size="7.3" fill="#231f20" stroke="#231f20" stroke-width="0.07" text-anchor="start" textLength="19.62" lengthAdjust="spacingAndGlyphs">NF-E2</text>
<text x="417.50" y="261.91" font-size="7.3" fill="#231f20" stroke="#231f20" stroke-width="0.07" text-anchor="start" textLength="17.19" lengthAdjust="spacingAndGlyphs">1e-42</text>
<text x="449.60" y="261.91" font-size="7.3" fill="#231f20" stroke="#231f20" stroke-width="0.07" text-anchor="start" textLength="7.40" lengthAdjust="spacingAndGlyphs">88</text>
<text x="263.00" y="271.91" font-size="7.2" fill="#231f20" stroke="#231f20" stroke-width="0.07" text-anchor="start">2</text>
<text transform="matrix(0.780,0,0,0.449,276.88,273.57)" font-size="10" font-weight="bold" fill="#c52a2e" stroke="#c52a2e" stroke-width="0.25" text-anchor="middle">T</text><text transform="matrix(0.660,0,0,0.673,276.88,270.36)" font-size="10" font-weight="bold" fill="#53a83c" stroke="#53a83c" stroke-width="0.25" text-anchor="middle">A</text><text transform="matrix(0.780,0,0,0.449,281.65,273.57)" font-size="10" font-weight="bold" fill="#c52a2e" stroke="#c52a2e" stroke-width="0.25" text-anchor="middle">T</text><text transform="matrix(0.660,0,0,0.673,281.65,270.36)" font-size="10" font-weight="bold" fill="#53a83c" stroke="#53a83c" stroke-width="0.25" text-anchor="middle">A</text><text transform="matrix(0.780,0,0,0.449,286.42,273.57)" font-size="10" font-weight="bold" fill="#c52a2e" stroke="#c52a2e" stroke-width="0.25" text-anchor="middle">T</text><text transform="matrix(0.660,0,0,0.673,286.42,270.36)" font-size="10" font-weight="bold" fill="#53a83c" stroke="#53a83c" stroke-width="0.25" text-anchor="middle">A</text><text transform="matrix(0.660,0,0,0.224,291.18,273.57)" font-size="10" font-weight="bold" fill="#53a83c" stroke="#53a83c" stroke-width="0.25" text-anchor="middle">A</text><text transform="matrix(0.660,0,0,0.449,291.18,271.96)" font-size="10" font-weight="bold" fill="#2438a6" stroke="#2438a6" stroke-width="0.25" text-anchor="middle">C</text><text transform="matrix(0.613,0,0,0.449,291.18,268.75)" font-size="10" font-weight="bold" fill="#e6a024" stroke="#e6a024" stroke-width="0.25" text-anchor="middle">G</text><text transform="matrix(0.780,0,0,1.262,295.95,273.57)" font-size="10" font-weight="bold" fill="#c52a2e" stroke="#c52a2e" stroke-width="0.25" text-anchor="middle">T</text><text transform="matrix(0.613,0,0,1.262,300.72,273.57)" font-size="10" font-weight="bold" fill="#e6a024" stroke="#e6a024" stroke-width="0.25" text-anchor="middle">G</text><text transform="matrix(0.660,0,0,1.262,305.48,273.57)" font-size="10" font-weight="bold" fill="#2438a6" stroke="#2438a6" stroke-width="0.25" text-anchor="middle">C</text><text transform="matrix(0.780,0,0,1.262,310.25,273.57)" font-size="10" font-weight="bold" fill="#c52a2e" stroke="#c52a2e" stroke-width="0.25" text-anchor="middle">T</text><text transform="matrix(0.613,0,0,1.262,315.02,273.57)" font-size="10" font-weight="bold" fill="#e6a024" stroke="#e6a024" stroke-width="0.25" text-anchor="middle">G</text><text transform="matrix(0.660,0,0,1.262,319.78,273.57)" font-size="10" font-weight="bold" fill="#53a83c" stroke="#53a83c" stroke-width="0.25" text-anchor="middle">A</text><text transform="matrix(0.613,0,0,1.262,324.55,273.57)" font-size="10" font-weight="bold" fill="#e6a024" stroke="#e6a024" stroke-width="0.25" text-anchor="middle">G</text><text transform="matrix(0.780,0,0,1.262,329.32,273.57)" font-size="10" font-weight="bold" fill="#c52a2e" stroke="#c52a2e" stroke-width="0.25" text-anchor="middle">T</text><text transform="matrix(0.660,0,0,1.262,334.08,273.57)" font-size="10" font-weight="bold" fill="#2438a6" stroke="#2438a6" stroke-width="0.25" text-anchor="middle">C</text><text transform="matrix(0.660,0,0,1.262,338.85,273.57)" font-size="10" font-weight="bold" fill="#53a83c" stroke="#53a83c" stroke-width="0.25" text-anchor="middle">A</text><text transform="matrix(0.660,0,0,0.361,343.62,273.57)" font-size="10" font-weight="bold" fill="#2438a6" stroke="#2438a6" stroke-width="0.25" text-anchor="middle">C</text><text transform="matrix(0.780,0,0,0.901,343.62,270.99)" font-size="10" font-weight="bold" fill="#c52a2e" stroke="#c52a2e" stroke-width="0.25" text-anchor="middle">T</text>
<text x="374.80" y="271.95" font-size="7.3" fill="#231f20" stroke="#231f20" stroke-width="0.07" text-anchor="start" textLength="22.64" lengthAdjust="spacingAndGlyphs">BACH1</text>
<text x="417.50" y="271.95" font-size="7.3" fill="#231f20" stroke="#231f20" stroke-width="0.07" text-anchor="start" textLength="17.19" lengthAdjust="spacingAndGlyphs">1e-35</text>
<text x="449.60" y="271.95" font-size="7.3" fill="#231f20" stroke="#231f20" stroke-width="0.07" text-anchor="start" textLength="7.40" lengthAdjust="spacingAndGlyphs">78</text>
<text x="263.00" y="281.95" font-size="7.2" fill="#231f20" stroke="#231f20" stroke-width="0.07" text-anchor="start">3</text>
<text transform="matrix(0.780,0,0,0.449,276.88,283.61)" font-size="10" font-weight="bold" fill="#c52a2e" stroke="#c52a2e" stroke-width="0.25" text-anchor="middle">T</text><text transform="matrix(0.660,0,0,0.673,276.88,280.39)" font-size="10" font-weight="bold" fill="#53a83c" stroke="#53a83c" stroke-width="0.25" text-anchor="middle">A</text><text transform="matrix(0.780,0,0,0.449,281.65,283.61)" font-size="10" font-weight="bold" fill="#c52a2e" stroke="#c52a2e" stroke-width="0.25" text-anchor="middle">T</text><text transform="matrix(0.660,0,0,0.673,281.65,280.39)" font-size="10" font-weight="bold" fill="#53a83c" stroke="#53a83c" stroke-width="0.25" text-anchor="middle">A</text><text transform="matrix(0.780,0,0,0.449,286.42,283.61)" font-size="10" font-weight="bold" fill="#c52a2e" stroke="#c52a2e" stroke-width="0.25" text-anchor="middle">T</text><text transform="matrix(0.660,0,0,0.673,286.42,280.39)" font-size="10" font-weight="bold" fill="#53a83c" stroke="#53a83c" stroke-width="0.25" text-anchor="middle">A</text><text transform="matrix(0.660,0,0,0.224,291.18,283.61)" font-size="10" font-weight="bold" fill="#53a83c" stroke="#53a83c" stroke-width="0.25" text-anchor="middle">A</text><text transform="matrix(0.660,0,0,0.449,291.18,282.00)" font-size="10" font-weight="bold" fill="#2438a6" stroke="#2438a6" stroke-width="0.25" text-anchor="middle">C</text><text transform="matrix(0.613,0,0,0.449,291.18,278.79)" font-size="10" font-weight="bold" fill="#e6a024" stroke="#e6a024" stroke-width="0.25" text-anchor="middle">G</text><text transform="matrix(0.780,0,0,1.262,295.95,283.61)" font-size="10" font-weight="bold" fill="#c52a2e" stroke="#c52a2e" stroke-width="0.25" text-anchor="middle">T</text><text transform="matrix(0.613,0,0,1.262,300.72,283.61)" font-size="10" font-weight="bold" fill="#e6a024" stroke="#e6a024" stroke-width="0.25" text-anchor="middle">G</text><text transform="matrix(0.660,0,0,1.262,305.48,283.61)" font-size="10" font-weight="bold" fill="#2438a6" stroke="#2438a6" stroke-width="0.25" text-anchor="middle">C</text><text transform="matrix(0.780,0,0,1.262,310.25,283.61)" font-size="10" font-weight="bold" fill="#c52a2e" stroke="#c52a2e" stroke-width="0.25" text-anchor="middle">T</text><text transform="matrix(0.613,0,0,1.262,315.02,283.61)" font-size="10" font-weight="bold" fill="#e6a024" stroke="#e6a024" stroke-width="0.25" text-anchor="middle">G</text><text transform="matrix(0.660,0,0,1.262,319.78,283.61)" font-size="10" font-weight="bold" fill="#53a83c" stroke="#53a83c" stroke-width="0.25" text-anchor="middle">A</text><text transform="matrix(0.613,0,0,1.262,324.55,283.61)" font-size="10" font-weight="bold" fill="#e6a024" stroke="#e6a024" stroke-width="0.25" text-anchor="middle">G</text><text transform="matrix(0.780,0,0,1.262,329.32,283.61)" font-size="10" font-weight="bold" fill="#c52a2e" stroke="#c52a2e" stroke-width="0.25" text-anchor="middle">T</text><text transform="matrix(0.660,0,0,1.262,334.08,283.61)" font-size="10" font-weight="bold" fill="#2438a6" stroke="#2438a6" stroke-width="0.25" text-anchor="middle">C</text><text transform="matrix(0.660,0,0,1.262,338.85,283.61)" font-size="10" font-weight="bold" fill="#53a83c" stroke="#53a83c" stroke-width="0.25" text-anchor="middle">A</text><text transform="matrix(0.660,0,0,0.361,343.62,283.61)" font-size="10" font-weight="bold" fill="#2438a6" stroke="#2438a6" stroke-width="0.25" text-anchor="middle">C</text><text transform="matrix(0.780,0,0,0.901,343.62,281.02)" font-size="10" font-weight="bold" fill="#c52a2e" stroke="#c52a2e" stroke-width="0.25" text-anchor="middle">T</text>
<text x="374.80" y="281.98" font-size="7.3" fill="#231f20" stroke="#231f20" stroke-width="0.07" text-anchor="start" textLength="24.91" lengthAdjust="spacingAndGlyphs">NFE2L2</text>
<text x="417.50" y="281.98" font-size="7.3" fill="#231f20" stroke="#231f20" stroke-width="0.07" text-anchor="start" textLength="17.19" lengthAdjust="spacingAndGlyphs">1e-34</text>
<text x="449.60" y="281.98" font-size="7.3" fill="#231f20" stroke="#231f20" stroke-width="0.07" text-anchor="start" textLength="7.40" lengthAdjust="spacingAndGlyphs">90</text>
<text x="263.00" y="291.98" font-size="7.2" fill="#231f20" stroke="#231f20" stroke-width="0.07" text-anchor="start">4</text>
<text transform="matrix(0.659,0,0,0.631,276.88,293.64)" font-size="10" font-weight="bold" fill="#2438a6" stroke="#2438a6" stroke-width="0.25" text-anchor="middle">C</text><text transform="matrix(0.612,0,0,0.631,276.88,289.12)" font-size="10" font-weight="bold" fill="#e6a024" stroke="#e6a024" stroke-width="0.25" text-anchor="middle">G</text><text transform="matrix(0.779,0,0,1.262,281.64,293.64)" font-size="10" font-weight="bold" fill="#c52a2e" stroke="#c52a2e" stroke-width="0.25" text-anchor="middle">T</text><text transform="matrix(0.612,0,0,1.262,286.40,293.64)" font-size="10" font-weight="bold" fill="#e6a024" stroke="#e6a024" stroke-width="0.25" text-anchor="middle">G</text><text transform="matrix(0.659,0,0,1.262,291.15,293.64)" font-size="10" font-weight="bold" fill="#2438a6" stroke="#2438a6" stroke-width="0.25" text-anchor="middle">C</text><text transform="matrix(0.779,0,0,1.262,295.91,293.64)" font-size="10" font-weight="bold" fill="#c52a2e" stroke="#c52a2e" stroke-width="0.25" text-anchor="middle">T</text><text transform="matrix(0.612,0,0,1.262,300.67,293.64)" font-size="10" font-weight="bold" fill="#e6a024" stroke="#e6a024" stroke-width="0.25" text-anchor="middle">G</text><text transform="matrix(0.659,0,0,1.262,305.43,293.64)" font-size="10" font-weight="bold" fill="#53a83c" stroke="#53a83c" stroke-width="0.25" text-anchor="middle">A</text><text transform="matrix(0.612,0,0,1.262,310.19,293.64)" font-size="10" font-weight="bold" fill="#e6a024" stroke="#e6a024" stroke-width="0.25" text-anchor="middle">G</text><text transform="matrix(0.779,0,0,1.262,314.95,293.64)" font-size="10" font-weight="bold" fill="#c52a2e" stroke="#c52a2e" stroke-width="0.25" text-anchor="middle">T</text><text transform="matrix(0.659,0,0,1.262,319.70,293.64)" font-size="10" font-weight="bold" fill="#2438a6" stroke="#2438a6" stroke-width="0.25" text-anchor="middle">C</text><text transform="matrix(0.659,0,0,1.262,324.46,293.64)" font-size="10" font-weight="bold" fill="#53a83c" stroke="#53a83c" stroke-width="0.25" text-anchor="middle">A</text><text transform="matrix(0.659,0,0,0.361,329.22,293.64)" font-size="10" font-weight="bold" fill="#2438a6" stroke="#2438a6" stroke-width="0.25" text-anchor="middle">C</text><text transform="matrix(0.779,0,0,0.901,329.22,291.06)" font-size="10" font-weight="bold" fill="#c52a2e" stroke="#c52a2e" stroke-width="0.25" text-anchor="middle">T</text>
<text x="374.80" y="292.02" font-size="7.3" fill="#231f20" stroke="#231f20" stroke-width="0.07" text-anchor="start" textLength="17.73" lengthAdjust="spacingAndGlyphs">NRF2</text>
<text x="417.50" y="292.02" font-size="7.3" fill="#231f20" stroke="#231f20" stroke-width="0.07" text-anchor="start" textLength="17.19" lengthAdjust="spacingAndGlyphs">1e-33</text>
<text x="449.60" y="292.02" font-size="7.3" fill="#231f20" stroke="#231f20" stroke-width="0.07" text-anchor="start" textLength="7.40" lengthAdjust="spacingAndGlyphs">71</text>
<text x="263.00" y="302.02" font-size="7.2" fill="#231f20" stroke="#231f20" stroke-width="0.07" text-anchor="start">5</text>
<text transform="matrix(0.585,0,0,0.252,276.77,303.68)" font-size="10" font-weight="bold" fill="#e6a024" stroke="#e6a024" stroke-width="0.25" text-anchor="middle">G</text><text transform="matrix(0.630,0,0,0.252,276.77,301.87)" font-size="10" font-weight="bold" fill="#53a83c" stroke="#53a83c" stroke-width="0.25" text-anchor="middle">A</text><text transform="matrix(0.630,0,0,0.505,276.77,300.06)" font-size="10" font-weight="bold" fill="#2438a6" stroke="#2438a6" stroke-width="0.25" text-anchor="middle">C</text><text transform="matrix(0.630,0,0,0.449,281.32,303.68)" font-size="10" font-weight="bold" fill="#53a83c" stroke="#53a83c" stroke-width="0.25" text-anchor="middle">A</text><text transform="matrix(0.630,0,0,0.673,281.32,300.46)" font-size="10" font-weight="bold" fill="#2438a6" stroke="#2438a6" stroke-width="0.25" text-anchor="middle">C</text><text transform="matrix(0.630,0,0,0.505,285.87,303.68)" font-size="10" font-weight="bold" fill="#53a83c" stroke="#53a83c" stroke-width="0.25" text-anchor="middle">A</text><text transform="matrix(0.744,0,0,0.505,285.87,300.06)" font-size="10" font-weight="bold" fill="#c52a2e" stroke="#c52a2e" stroke-width="0.25" text-anchor="middle">T</text><text transform="matrix(0.630,0,0,1.262,290.42,303.68)" font-size="10" font-weight="bold" fill="#2438a6" stroke="#2438a6" stroke-width="0.25" text-anchor="middle">C</text><text transform="matrix(0.744,0,0,1.262,294.96,303.68)" font-size="10" font-weight="bold" fill="#c52a2e" stroke="#c52a2e" stroke-width="0.25" text-anchor="middle">T</text><text transform="matrix(0.585,0,0,1.262,299.51,303.68)" font-size="10" font-weight="bold" fill="#e6a024" stroke="#e6a024" stroke-width="0.25" text-anchor="middle">G</text><text transform="matrix(0.630,0,0,0.210,304.06,303.68)" font-size="10" font-weight="bold" fill="#53a83c" stroke="#53a83c" stroke-width="0.25" text-anchor="middle">A</text><text transform="matrix(0.744,0,0,0.421,304.06,302.17)" font-size="10" font-weight="bold" fill="#c52a2e" stroke="#c52a2e" stroke-width="0.25" text-anchor="middle">T</text><text transform="matrix(0.630,0,0,0.631,304.06,299.16)" font-size="10" font-weight="bold" fill="#2438a6" stroke="#2438a6" stroke-width="0.25" text-anchor="middle">C</text><text transform="matrix(0.585,0,0,0.505,308.61,303.68)" font-size="10" font-weight="bold" fill="#e6a024" stroke="#e6a024" stroke-width="0.25" text-anchor="middle">G</text><text transform="matrix(0.744,0,0,0.505,308.61,300.06)" font-size="10" font-weight="bold" fill="#c52a2e" stroke="#c52a2e" stroke-width="0.25" text-anchor="middle">T</text><text transform="matrix(0.744,0,0,0.505,313.15,303.68)" font-size="10" font-weight="bold" fill="#c52a2e" stroke="#c52a2e" stroke-width="0.25" text-anchor="middle">T</text><text transform="matrix(0.630,0,0,0.505,313.15,300.06)" font-size="10" font-weight="bold" fill="#2438a6" stroke="#2438a6" stroke-width="0.25" text-anchor="middle">C</text><text transform="matrix(0.585,0,0,0.252,317.70,303.68)" font-size="10" font-weight="bold" fill="#e6a024" stroke="#e6a024" stroke-width="0.25" text-anchor="middle">G</text><text transform="matrix(0.630,0,0,0.757,317.70,301.87)" font-size="10" font-weight="bold" fill="#2438a6" stroke="#2438a6" stroke-width="0.25" text-anchor="middle">C</text><text transform="matrix(0.744,0,0,0.505,322.25,303.68)" font-size="10" font-weight="bold" fill="#c52a2e" stroke="#c52a2e" stroke-width="0.25" text-anchor="middle">T</text><text transform="matrix(0.630,0,0,0.505,322.25,300.06)" font-size="10" font-weight="bold" fill="#2438a6" stroke="#2438a6" stroke-width="0.25" text-anchor="middle">C</text><text transform="matrix(0.630,0,0,0.252,326.80,303.68)" font-size="10" font-weight="bold" fill="#53a83c" stroke="#53a83c" stroke-width="0.25" text-anchor="middle">A</text><text transform="matrix(0.630,0,0,0.757,326.80,301.87)" font-size="10" font-weight="bold" fill="#2438a6" stroke="#2438a6" stroke-width="0.25" text-anchor="middle">C</text><text transform="matrix(0.585,0,0,0.505,331.35,303.68)" font-size="10" font-weight="bold" fill="#e6a024" stroke="#e6a024" stroke-width="0.25" text-anchor="middle">G</text><text transform="matrix(0.630,0,0,0.505,331.35,300.06)" font-size="10" font-weight="bold" fill="#2438a6" stroke="#2438a6" stroke-width="0.25" text-anchor="middle">C</text><text transform="matrix(0.630,0,0,0.449,335.89,303.68)" font-size="10" font-weight="bold" fill="#2438a6" stroke="#2438a6" stroke-width="0.25" text-anchor="middle">C</text><text transform="matrix(0.630,0,0,0.673,335.89,300.46)" font-size="10" font-weight="bold" fill="#53a83c" stroke="#53a83c" stroke-width="0.25" text-anchor="middle">A</text><text transform="matrix(0.585,0,0,0.449,340.44,303.68)" font-size="10" font-weight="bold" fill="#e6a024" stroke="#e6a024" stroke-width="0.25" text-anchor="middle">G</text><text transform="matrix(0.630,0,0,0.673,340.44,300.46)" font-size="10" font-weight="bold" fill="#2438a6" stroke="#2438a6" stroke-width="0.25" text-anchor="middle">C</text><text transform="matrix(0.630,0,0,1.262,344.99,303.68)" font-size="10" font-weight="bold" fill="#53a83c" stroke="#53a83c" stroke-width="0.25" text-anchor="middle">A</text><text transform="matrix(0.585,0,0,1.262,349.54,303.68)" font-size="10" font-weight="bold" fill="#e6a024" stroke="#e6a024" stroke-width="0.25" text-anchor="middle">G</text><text transform="matrix(0.630,0,0,1.262,354.08,303.68)" font-size="10" font-weight="bold" fill="#53a83c" stroke="#53a83c" stroke-width="0.25" text-anchor="middle">A</text><text transform="matrix(0.744,0,0,1.262,358.63,303.68)" font-size="10" font-weight="bold" fill="#c52a2e" stroke="#c52a2e" stroke-width="0.25" text-anchor="middle">T</text><text transform="matrix(0.630,0,0,1.262,363.18,303.68)" font-size="10" font-weight="bold" fill="#53a83c" stroke="#53a83c" stroke-width="0.25" text-anchor="middle">A</text><text transform="matrix(0.630,0,0,1.262,367.73,303.68)" font-size="10" font-weight="bold" fill="#53a83c" stroke="#53a83c" stroke-width="0.25" text-anchor="middle">A</text>
<text x="374.80" y="302.05" font-size="7.3" fill="#231f20" stroke="#231f20" stroke-width="0.07" text-anchor="start" textLength="34.46" lengthAdjust="spacingAndGlyphs">GATA: SCL</text>
<text x="417.50" y="302.05" font-size="7.3" fill="#231f20" stroke="#231f20" stroke-width="0.07" text-anchor="start" textLength="17.19" lengthAdjust="spacingAndGlyphs">1e-23</text>
<text x="449.60" y="302.05" font-size="7.3" fill="#231f20" stroke="#231f20" stroke-width="0.07" text-anchor="start" textLength="7.40" lengthAdjust="spacingAndGlyphs">98</text>
<text x="263.00" y="312.05" font-size="7.2" fill="#231f20" stroke="#231f20" stroke-width="0.07" text-anchor="start">6</text>
<text transform="matrix(0.794,0,0,1.262,276.93,313.71)" font-size="10" font-weight="bold" fill="#c52a2e" stroke="#c52a2e" stroke-width="0.25" text-anchor="middle">T</text><text transform="matrix(0.624,0,0,1.262,281.78,313.71)" font-size="10" font-weight="bold" fill="#e6a024" stroke="#e6a024" stroke-width="0.25" text-anchor="middle">G</text><text transform="matrix(0.672,0,0,1.262,286.62,313.71)" font-size="10" font-weight="bold" fill="#2438a6" stroke="#2438a6" stroke-width="0.25" text-anchor="middle">C</text><text transform="matrix(0.794,0,0,1.262,291.48,313.71)" font-size="10" font-weight="bold" fill="#c52a2e" stroke="#c52a2e" stroke-width="0.25" text-anchor="middle">T</text><text transform="matrix(0.624,0,0,1.262,296.32,313.71)" font-size="10" font-weight="bold" fill="#e6a024" stroke="#e6a024" stroke-width="0.25" text-anchor="middle">G</text><text transform="matrix(0.672,0,0,1.262,301.18,313.71)" font-size="10" font-weight="bold" fill="#53a83c" stroke="#53a83c" stroke-width="0.25" text-anchor="middle">A</text><text transform="matrix(0.672,0,0,0.473,306.03,313.71)" font-size="10" font-weight="bold" fill="#2438a6" stroke="#2438a6" stroke-width="0.25" text-anchor="middle">C</text><text transform="matrix(0.624,0,0,0.789,306.03,310.32)" font-size="10" font-weight="bold" fill="#e6a024" stroke="#e6a024" stroke-width="0.25" text-anchor="middle">G</text><text transform="matrix(0.794,0,0,1.262,310.88,313.71)" font-size="10" font-weight="bold" fill="#c52a2e" stroke="#c52a2e" stroke-width="0.25" text-anchor="middle">T</text><text transform="matrix(0.672,0,0,1.262,315.73,313.71)" font-size="10" font-weight="bold" fill="#2438a6" stroke="#2438a6" stroke-width="0.25" text-anchor="middle">C</text><text transform="matrix(0.672,0,0,1.262,320.57,313.71)" font-size="10" font-weight="bold" fill="#53a83c" stroke="#53a83c" stroke-width="0.25" text-anchor="middle">A</text>
<text x="374.80" y="312.09" font-size="7.3" fill="#231f20" stroke="#231f20" stroke-width="0.07" text-anchor="start" textLength="22.64" lengthAdjust="spacingAndGlyphs">BACH2</text>
<text x="417.50" y="312.09" font-size="7.3" fill="#231f20" stroke="#231f20" stroke-width="0.07" text-anchor="start" textLength="17.19" lengthAdjust="spacingAndGlyphs">1e-18</text>
<text x="449.60" y="312.09" font-size="7.3" fill="#231f20" stroke="#231f20" stroke-width="0.07" text-anchor="start" textLength="11.10" lengthAdjust="spacingAndGlyphs">108</text>
<text x="263.00" y="322.09" font-size="7.2" fill="#231f20" stroke="#231f20" stroke-width="0.07" text-anchor="start">7</text>
<text transform="matrix(0.737,0,0,0.449,277.16,323.75)" font-size="10" font-weight="bold" fill="#53a83c" stroke="#53a83c" stroke-width="0.25" text-anchor="middle">A</text><text transform="matrix(0.737,0,0,0.673,277.16,320.53)" font-size="10" font-weight="bold" fill="#2438a6" stroke="#2438a6" stroke-width="0.25" text-anchor="middle">C</text><text transform="matrix(0.737,0,0,1.262,282.48,323.75)" font-size="10" font-weight="bold" fill="#53a83c" stroke="#53a83c" stroke-width="0.25" text-anchor="middle">A</text><text transform="matrix(0.684,0,0,1.262,287.81,323.75)" font-size="10" font-weight="bold" fill="#e6a024" stroke="#e6a024" stroke-width="0.25" text-anchor="middle">G</text><text transform="matrix(0.737,0,0,1.262,293.13,323.75)" font-size="10" font-weight="bold" fill="#53a83c" stroke="#53a83c" stroke-width="0.25" text-anchor="middle">A</text><text transform="matrix(0.871,0,0,1.262,298.45,323.75)" font-size="10" font-weight="bold" fill="#c52a2e" stroke="#c52a2e" stroke-width="0.25" text-anchor="middle">T</text><text transform="matrix(0.737,0,0,1.262,303.77,323.75)" font-size="10" font-weight="bold" fill="#53a83c" stroke="#53a83c" stroke-width="0.25" text-anchor="middle">A</text><text transform="matrix(0.737,0,0,1.262,309.09,323.75)" font-size="10" font-weight="bold" fill="#53a83c" stroke="#53a83c" stroke-width="0.25" text-anchor="middle">A</text><text transform="matrix(0.737,0,0,0.315,314.42,323.75)" font-size="10" font-weight="bold" fill="#2438a6" stroke="#2438a6" stroke-width="0.25" text-anchor="middle">C</text><text transform="matrix(0.684,0,0,0.946,314.42,321.49)" font-size="10" font-weight="bold" fill="#e6a024" stroke="#e6a024" stroke-width="0.25" text-anchor="middle">G</text><text transform="matrix(0.737,0,0,0.449,319.74,323.75)" font-size="10" font-weight="bold" fill="#2438a6" stroke="#2438a6" stroke-width="0.25" text-anchor="middle">C</text><text transform="matrix(0.684,0,0,0.673,319.74,320.53)" font-size="10" font-weight="bold" fill="#e6a024" stroke="#e6a024" stroke-width="0.25" text-anchor="middle">G</text>
<text x="374.80" y="322.12" font-size="7.3" fill="#231f20" stroke="#231f20" stroke-width="0.07" text-anchor="start" textLength="21.26" lengthAdjust="spacingAndGlyphs">GATA1</text>
<text x="417.50" y="322.12" font-size="7.3" fill="#231f20" stroke="#231f20" stroke-width="0.07" text-anchor="start" textLength="17.19" lengthAdjust="spacingAndGlyphs">1e-13</text>
<text x="449.60" y="322.12" font-size="7.3" fill="#231f20" stroke="#231f20" stroke-width="0.07" text-anchor="start" textLength="11.10" lengthAdjust="spacingAndGlyphs">202</text>
<text x="263.00" y="332.12" font-size="7.2" fill="#231f20" stroke="#231f20" stroke-width="0.07" text-anchor="start">8</text>
<text transform="matrix(0.622,0,0,1.262,276.92,333.78)" font-size="10" font-weight="bold" fill="#e6a024" stroke="#e6a024" stroke-width="0.25" text-anchor="middle">G</text><text transform="matrix(0.670,0,0,1.262,281.76,333.78)" font-size="10" font-weight="bold" fill="#2438a6" stroke="#2438a6" stroke-width="0.25" text-anchor="middle">C</text><text transform="matrix(0.793,0,0,1.262,286.60,333.78)" font-size="10" font-weight="bold" fill="#c52a2e" stroke="#c52a2e" stroke-width="0.25" text-anchor="middle">T</text><text transform="matrix(0.622,0,0,1.262,291.45,333.78)" font-size="10" font-weight="bold" fill="#e6a024" stroke="#e6a024" stroke-width="0.25" text-anchor="middle">G</text><text transform="matrix(0.670,0,0,1.262,296.29,333.78)" font-size="10" font-weight="bold" fill="#53a83c" stroke="#53a83c" stroke-width="0.25" text-anchor="middle">A</text><text transform="matrix(0.670,0,0,0.541,301.13,333.78)" font-size="10" font-weight="bold" fill="#2438a6" stroke="#2438a6" stroke-width="0.25" text-anchor="middle">C</text><text transform="matrix(0.622,0,0,0.721,301.13,329.91)" font-size="10" font-weight="bold" fill="#e6a024" stroke="#e6a024" stroke-width="0.25" text-anchor="middle">G</text><text transform="matrix(0.793,0,0,1.262,305.97,333.78)" font-size="10" font-weight="bold" fill="#c52a2e" stroke="#c52a2e" stroke-width="0.25" text-anchor="middle">T</text><text transform="matrix(0.670,0,0,1.262,310.81,333.78)" font-size="10" font-weight="bold" fill="#2438a6" stroke="#2438a6" stroke-width="0.25" text-anchor="middle">C</text><text transform="matrix(0.670,0,0,1.262,315.65,333.78)" font-size="10" font-weight="bold" fill="#53a83c" stroke="#53a83c" stroke-width="0.25" text-anchor="middle">A</text><text transform="matrix(0.622,0,0,1.262,320.50,333.78)" font-size="10" font-weight="bold" fill="#e6a024" stroke="#e6a024" stroke-width="0.25" text-anchor="middle">G</text><text transform="matrix(0.670,0,0,1.009,325.34,333.78)" font-size="10" font-weight="bold" fill="#2438a6" stroke="#2438a6" stroke-width="0.25" text-anchor="middle">C</text><text transform="matrix(0.670,0,0,1.178,330.18,333.78)" font-size="10" font-weight="bold" fill="#53a83c" stroke="#53a83c" stroke-width="0.25" text-anchor="middle">A</text>
<text x="374.80" y="332.16" font-size="7.3" fill="#231f20" stroke="#231f20" stroke-width="0.07" text-anchor="start" textLength="18.86" lengthAdjust="spacingAndGlyphs">MAFK</text>
<text x="417.50" y="332.16" font-size="7.3" fill="#231f20" stroke="#231f20" stroke-width="0.07" text-anchor="start" textLength="17.19" lengthAdjust="spacingAndGlyphs">1e-10</text>
<text x="449.60" y="332.16" font-size="7.3" fill="#231f20" stroke="#231f20" stroke-width="0.07" text-anchor="start" textLength="10.60" lengthAdjust="spacingAndGlyphs">115</text>
<text x="263.00" y="342.16" font-size="7.2" fill="#231f20" stroke="#231f20" stroke-width="0.07" text-anchor="start">9</text>
<text transform="matrix(0.672,0,0,0.631,276.93,343.82)" font-size="10" font-weight="bold" fill="#53a83c" stroke="#53a83c" stroke-width="0.25" text-anchor="middle">A</text><text transform="matrix(0.624,0,0,0.631,276.93,339.30)" font-size="10" font-weight="bold" fill="#e6a024" stroke="#e6a024" stroke-width="0.25" text-anchor="middle">G</text><text transform="matrix(0.672,0,0,1.262,281.78,343.82)" font-size="10" font-weight="bold" fill="#53a83c" stroke="#53a83c" stroke-width="0.25" text-anchor="middle">A</text><text transform="matrix(0.794,0,0,1.262,286.62,343.82)" font-size="10" font-weight="bold" fill="#c52a2e" stroke="#c52a2e" stroke-width="0.25" text-anchor="middle">T</text><text transform="matrix(0.624,0,0,1.262,291.48,343.82)" font-size="10" font-weight="bold" fill="#e6a024" stroke="#e6a024" stroke-width="0.25" text-anchor="middle">G</text><text transform="matrix(0.672,0,0,1.262,296.32,343.82)" font-size="10" font-weight="bold" fill="#53a83c" stroke="#53a83c" stroke-width="0.25" text-anchor="middle">A</text><text transform="matrix(0.624,0,0,0.541,301.18,343.82)" font-size="10" font-weight="bold" fill="#e6a024" stroke="#e6a024" stroke-width="0.25" text-anchor="middle">G</text><text transform="matrix(0.672,0,0,0.721,301.18,339.94)" font-size="10" font-weight="bold" fill="#2438a6" stroke="#2438a6" stroke-width="0.25" text-anchor="middle">C</text><text transform="matrix(0.794,0,0,1.262,306.03,343.82)" font-size="10" font-weight="bold" fill="#c52a2e" stroke="#c52a2e" stroke-width="0.25" text-anchor="middle">T</text><text transform="matrix(0.672,0,0,1.262,310.88,343.82)" font-size="10" font-weight="bold" fill="#2438a6" stroke="#2438a6" stroke-width="0.25" text-anchor="middle">C</text><text transform="matrix(0.672,0,0,1.262,315.73,343.82)" font-size="10" font-weight="bold" fill="#53a83c" stroke="#53a83c" stroke-width="0.25" text-anchor="middle">A</text><text transform="matrix(0.672,0,0,0.361,320.57,343.82)" font-size="10" font-weight="bold" fill="#2438a6" stroke="#2438a6" stroke-width="0.25" text-anchor="middle">C</text><text transform="matrix(0.794,0,0,0.901,320.57,341.23)" font-size="10" font-weight="bold" fill="#c52a2e" stroke="#c52a2e" stroke-width="0.25" text-anchor="middle">T</text>
<text x="374.80" y="342.19" font-size="7.3" fill="#231f20" stroke="#231f20" stroke-width="0.07" text-anchor="start" textLength="17.73" lengthAdjust="spacingAndGlyphs">JUNB</text>
<text x="417.50" y="342.19" font-size="7.3" fill="#231f20" stroke="#231f20" stroke-width="0.07" text-anchor="start" textLength="17.19" lengthAdjust="spacingAndGlyphs">1e-10</text>
<text x="449.60" y="342.19" font-size="7.3" fill="#231f20" stroke="#231f20" stroke-width="0.07" text-anchor="start" textLength="11.10" lengthAdjust="spacingAndGlyphs">175</text>
<text x="263.00" y="352.19" font-size="7.2" fill="#231f20" stroke="#231f20" stroke-width="0.07" text-anchor="start">10</text>
<text transform="matrix(0.672,0,0,0.631,276.93,353.85)" font-size="10" font-weight="bold" fill="#2438a6" stroke="#2438a6" stroke-width="0.25" text-anchor="middle">C</text><text transform="matrix(0.794,0,0,0.631,276.93,349.33)" font-size="10" font-weight="bold" fill="#c52a2e" stroke="#c52a2e" stroke-width="0.25" text-anchor="middle">T</text><text transform="matrix(0.794,0,0,0.421,281.78,353.85)" font-size="10" font-weight="bold" fill="#c52a2e" stroke="#c52a2e" stroke-width="0.25" text-anchor="middle">T</text><text transform="matrix(0.672,0,0,0.841,281.78,350.84)" font-size="10" font-weight="bold" fill="#2438a6" stroke="#2438a6" stroke-width="0.25" text-anchor="middle">C</text><text transform="matrix(0.672,0,0,1.262,286.62,353.85)" font-size="10" font-weight="bold" fill="#2438a6" stroke="#2438a6" stroke-width="0.25" text-anchor="middle">C</text><text transform="matrix(0.794,0,0,1.262,291.48,353.85)" font-size="10" font-weight="bold" fill="#c52a2e" stroke="#c52a2e" stroke-width="0.25" text-anchor="middle">T</text><text transform="matrix(0.794,0,0,1.262,296.32,353.85)" font-size="10" font-weight="bold" fill="#c52a2e" stroke="#c52a2e" stroke-width="0.25" text-anchor="middle">T</text><text transform="matrix(0.672,0,0,1.262,301.18,353.85)" font-size="10" font-weight="bold" fill="#53a83c" stroke="#53a83c" stroke-width="0.25" text-anchor="middle">A</text><text transform="matrix(0.794,0,0,1.262,306.03,353.85)" font-size="10" font-weight="bold" fill="#c52a2e" stroke="#c52a2e" stroke-width="0.25" text-anchor="middle">T</text><text transform="matrix(0.672,0,0,1.262,310.88,353.85)" font-size="10" font-weight="bold" fill="#2438a6" stroke="#2438a6" stroke-width="0.25" text-anchor="middle">C</text><text transform="matrix(0.672,0,0,0.421,315.73,353.85)" font-size="10" font-weight="bold" fill="#53a83c" stroke="#53a83c" stroke-width="0.25" text-anchor="middle">A</text><text transform="matrix(0.794,0,0,0.841,315.73,350.84)" font-size="10" font-weight="bold" fill="#c52a2e" stroke="#c52a2e" stroke-width="0.25" text-anchor="middle">T</text><text transform="matrix(0.624,0,0,0.449,320.57,353.85)" font-size="10" font-weight="bold" fill="#e6a024" stroke="#e6a024" stroke-width="0.25" text-anchor="middle">G</text><text transform="matrix(0.672,0,0,0.673,320.57,350.64)" font-size="10" font-weight="bold" fill="#2438a6" stroke="#2438a6" stroke-width="0.25" text-anchor="middle">C</text>
<text x="374.80" y="352.23" font-size="7.3" fill="#231f20" stroke="#231f20" stroke-width="0.07" text-anchor="start" textLength="21.26" lengthAdjust="spacingAndGlyphs">GATA2</text>
<text x="417.50" y="352.23" font-size="7.3" fill="#231f20" stroke="#231f20" stroke-width="0.07" text-anchor="start" textLength="17.19" lengthAdjust="spacingAndGlyphs">1e-10</text>
<text x="449.60" y="352.23" font-size="7.3" fill="#231f20" stroke="#231f20" stroke-width="0.07" text-anchor="start" textLength="11.10" lengthAdjust="spacingAndGlyphs">209</text>
<text x="263.00" y="362.23" font-size="7.2" fill="#231f20" stroke="#231f20" stroke-width="0.07" text-anchor="start">11</text>
<text transform="matrix(0.670,0,0,0.631,276.92,363.88)" font-size="10" font-weight="bold" fill="#53a83c" stroke="#53a83c" stroke-width="0.25" text-anchor="middle">A</text><text transform="matrix(0.622,0,0,0.631,276.92,359.37)" font-size="10" font-weight="bold" fill="#e6a024" stroke="#e6a024" stroke-width="0.25" text-anchor="middle">G</text><text transform="matrix(0.670,0,0,0.449,281.76,363.88)" font-size="10" font-weight="bold" fill="#2438a6" stroke="#2438a6" stroke-width="0.25" text-anchor="middle">C</text><text transform="matrix(0.670,0,0,0.673,281.76,360.67)" font-size="10" font-weight="bold" fill="#53a83c" stroke="#53a83c" stroke-width="0.25" text-anchor="middle">A</text><text transform="matrix(0.670,0,0,1.262,286.60,363.88)" font-size="10" font-weight="bold" fill="#53a83c" stroke="#53a83c" stroke-width="0.25" text-anchor="middle">A</text><text transform="matrix(0.793,0,0,1.262,291.45,363.88)" font-size="10" font-weight="bold" fill="#c52a2e" stroke="#c52a2e" stroke-width="0.25" text-anchor="middle">T</text><text transform="matrix(0.622,0,0,1.262,296.29,363.88)" font-size="10" font-weight="bold" fill="#e6a024" stroke="#e6a024" stroke-width="0.25" text-anchor="middle">G</text><text transform="matrix(0.670,0,0,1.262,301.13,363.88)" font-size="10" font-weight="bold" fill="#53a83c" stroke="#53a83c" stroke-width="0.25" text-anchor="middle">A</text><text transform="matrix(0.622,0,0,0.541,305.97,363.88)" font-size="10" font-weight="bold" fill="#e6a024" stroke="#e6a024" stroke-width="0.25" text-anchor="middle">G</text><text transform="matrix(0.670,0,0,0.721,305.97,360.01)" font-size="10" font-weight="bold" fill="#2438a6" stroke="#2438a6" stroke-width="0.25" text-anchor="middle">C</text><text transform="matrix(0.793,0,0,1.262,310.81,363.88)" font-size="10" font-weight="bold" fill="#c52a2e" stroke="#c52a2e" stroke-width="0.25" text-anchor="middle">T</text><text transform="matrix(0.670,0,0,1.262,315.65,363.88)" font-size="10" font-weight="bold" fill="#2438a6" stroke="#2438a6" stroke-width="0.25" text-anchor="middle">C</text><text transform="matrix(0.670,0,0,1.262,320.50,363.88)" font-size="10" font-weight="bold" fill="#53a83c" stroke="#53a83c" stroke-width="0.25" text-anchor="middle">A</text><text transform="matrix(0.670,0,0,0.361,325.34,363.88)" font-size="10" font-weight="bold" fill="#2438a6" stroke="#2438a6" stroke-width="0.25" text-anchor="middle">C</text><text transform="matrix(0.793,0,0,0.901,325.34,361.30)" font-size="10" font-weight="bold" fill="#c52a2e" stroke="#c52a2e" stroke-width="0.25" text-anchor="middle">T</text><text transform="matrix(0.793,0,0,0.449,330.18,363.88)" font-size="10" font-weight="bold" fill="#c52a2e" stroke="#c52a2e" stroke-width="0.25" text-anchor="middle">T</text><text transform="matrix(0.670,0,0,0.673,330.18,360.67)" font-size="10" font-weight="bold" fill="#2438a6" stroke="#2438a6" stroke-width="0.25" text-anchor="middle">C</text>
<text x="374.80" y="362.26" font-size="7.3" fill="#231f20" stroke="#231f20" stroke-width="0.07" text-anchor="start" textLength="28.30" lengthAdjust="spacingAndGlyphs">JUN-AP1</text>
<text x="417.50" y="362.26" font-size="7.3" fill="#231f20" stroke="#231f20" stroke-width="0.07" text-anchor="start" textLength="13.45" lengthAdjust="spacingAndGlyphs">1e-9</text>
<text x="449.60" y="362.26" font-size="7.3" fill="#231f20" stroke="#231f20" stroke-width="0.07" text-anchor="start" textLength="11.10" lengthAdjust="spacingAndGlyphs">100</text>
<text x="263.00" y="372.26" font-size="7.2" fill="#231f20" stroke="#231f20" stroke-width="0.07" text-anchor="start">12</text>
<text transform="matrix(0.670,0,0,0.631,276.92,373.92)" font-size="10" font-weight="bold" fill="#53a83c" stroke="#53a83c" stroke-width="0.25" text-anchor="middle">A</text><text transform="matrix(0.622,0,0,0.631,276.92,369.40)" font-size="10" font-weight="bold" fill="#e6a024" stroke="#e6a024" stroke-width="0.25" text-anchor="middle">G</text><text transform="matrix(0.670,0,0,0.449,281.76,373.92)" font-size="10" font-weight="bold" fill="#2438a6" stroke="#2438a6" stroke-width="0.25" text-anchor="middle">C</text><text transform="matrix(0.670,0,0,0.673,281.76,370.71)" font-size="10" font-weight="bold" fill="#53a83c" stroke="#53a83c" stroke-width="0.25" text-anchor="middle">A</text><text transform="matrix(0.670,0,0,1.262,286.60,373.92)" font-size="10" font-weight="bold" fill="#53a83c" stroke="#53a83c" stroke-width="0.25" text-anchor="middle">A</text><text transform="matrix(0.793,0,0,1.262,291.45,373.92)" font-size="10" font-weight="bold" fill="#c52a2e" stroke="#c52a2e" stroke-width="0.25" text-anchor="middle">T</text><text transform="matrix(0.622,0,0,1.262,296.29,373.92)" font-size="10" font-weight="bold" fill="#e6a024" stroke="#e6a024" stroke-width="0.25" text-anchor="middle">G</text><text transform="matrix(0.670,0,0,1.262,301.13,373.92)" font-size="10" font-weight="bold" fill="#53a83c" stroke="#53a83c" stroke-width="0.25" text-anchor="middle">A</text><text transform="matrix(0.622,0,0,0.541,305.97,373.92)" font-size="10" font-weight="bold" fill="#e6a024" stroke="#e6a024" stroke-width="0.25" text-anchor="middle">G</text><text transform="matrix(0.670,0,0,0.721,305.97,370.05)" font-size="10" font-weight="bold" fill="#2438a6" stroke="#2438a6" stroke-width="0.25" text-anchor="middle">C</text><text transform="matrix(0.793,0,0,1.262,310.81,373.92)" font-size="10" font-weight="bold" fill="#c52a2e" stroke="#c52a2e" stroke-width="0.25" text-anchor="middle">T</text><text transform="matrix(0.670,0,0,1.262,315.65,373.92)" font-size="10" font-weight="bold" fill="#2438a6" stroke="#2438a6" stroke-width="0.25" text-anchor="middle">C</text><text transform="matrix(0.670,0,0,1.262,320.50,373.92)" font-size="10" font-weight="bold" fill="#53a83c" stroke="#53a83c" stroke-width="0.25" text-anchor="middle">A</text><text transform="matrix(0.670,0,0,0.361,325.34,373.92)" font-size="10" font-weight="bold" fill="#2438a6" stroke="#2438a6" stroke-width="0.25" text-anchor="middle">C</text><text transform="matrix(0.793,0,0,0.901,325.34,371.34)" font-size="10" font-weight="bold" fill="#c52a2e" stroke="#c52a2e" stroke-width="0.25" text-anchor="middle">T</text><text transform="matrix(0.793,0,0,0.449,330.18,373.92)" font-size="10" font-weight="bold" fill="#c52a2e" stroke="#c52a2e" stroke-width="0.25" text-anchor="middle">T</text><text transform="matrix(0.670,0,0,0.673,330.18,370.71)" font-size="10" font-weight="bold" fill="#2438a6" stroke="#2438a6" stroke-width="0.25" text-anchor="middle">C</text>
<text x="374.80" y="372.30" font-size="7.3" fill="#231f20" stroke="#231f20" stroke-width="0.07" text-anchor="start" textLength="21.51" lengthAdjust="spacingAndGlyphs">FOSL2</text>
<text x="417.50" y="372.30" font-size="7.3" fill="#231f20" stroke="#231f20" stroke-width="0.07" text-anchor="start" textLength="13.45" lengthAdjust="spacingAndGlyphs">1e-9</text>
<text x="449.60" y="372.30" font-size="7.3" fill="#231f20" stroke="#231f20" stroke-width="0.07" text-anchor="start" textLength="11.10" lengthAdjust="spacingAndGlyphs">123</text>
<text x="263.00" y="382.30" font-size="7.2" fill="#231f20" stroke="#231f20" stroke-width="0.07" text-anchor="start">13</text>
<text transform="matrix(0.670,0,0,0.449,276.92,383.96)" font-size="10" font-weight="bold" fill="#53a83c" stroke="#53a83c" stroke-width="0.25" text-anchor="middle">A</text><text transform="matrix(0.622,0,0,0.673,276.92,380.74)" font-size="10" font-weight="bold" fill="#e6a024" stroke="#e6a024" stroke-width="0.25" text-anchor="middle">G</text><text transform="matrix(0.622,0,0,0.449,281.76,383.96)" font-size="10" font-weight="bold" fill="#e6a024" stroke="#e6a024" stroke-width="0.25" text-anchor="middle">G</text><text transform="matrix(0.670,0,0,0.673,281.76,380.74)" font-size="10" font-weight="bold" fill="#53a83c" stroke="#53a83c" stroke-width="0.25" text-anchor="middle">A</text><text transform="matrix(0.670,0,0,1.262,286.60,383.96)" font-size="10" font-weight="bold" fill="#53a83c" stroke="#53a83c" stroke-width="0.25" text-anchor="middle">A</text><text transform="matrix(0.793,0,0,1.262,291.45,383.96)" font-size="10" font-weight="bold" fill="#c52a2e" stroke="#c52a2e" stroke-width="0.25" text-anchor="middle">T</text><text transform="matrix(0.622,0,0,1.262,296.29,383.96)" font-size="10" font-weight="bold" fill="#e6a024" stroke="#e6a024" stroke-width="0.25" text-anchor="middle">G</text><text transform="matrix(0.670,0,0,1.262,301.13,383.96)" font-size="10" font-weight="bold" fill="#53a83c" stroke="#53a83c" stroke-width="0.25" text-anchor="middle">A</text><text transform="matrix(0.622,0,0,0.541,305.97,383.96)" font-size="10" font-weight="bold" fill="#e6a024" stroke="#e6a024" stroke-width="0.25" text-anchor="middle">G</text><text transform="matrix(0.670,0,0,0.721,305.97,380.08)" font-size="10" font-weight="bold" fill="#2438a6" stroke="#2438a6" stroke-width="0.25" text-anchor="middle">C</text><text transform="matrix(0.793,0,0,1.262,310.81,383.96)" font-size="10" font-weight="bold" fill="#c52a2e" stroke="#c52a2e" stroke-width="0.25" text-anchor="middle">T</text><text transform="matrix(0.670,0,0,1.262,315.65,383.96)" font-size="10" font-weight="bold" fill="#2438a6" stroke="#2438a6" stroke-width="0.25" text-anchor="middle">C</text><text transform="matrix(0.670,0,0,1.262,320.50,383.96)" font-size="10" font-weight="bold" fill="#53a83c" stroke="#53a83c" stroke-width="0.25" text-anchor="middle">A</text><text transform="matrix(0.670,0,0,0.541,325.34,383.96)" font-size="10" font-weight="bold" fill="#2438a6" stroke="#2438a6" stroke-width="0.25" text-anchor="middle">C</text><text transform="matrix(0.793,0,0,0.721,325.34,380.08)" font-size="10" font-weight="bold" fill="#c52a2e" stroke="#c52a2e" stroke-width="0.25" text-anchor="middle">T</text><text transform="matrix(0.793,0,0,0.449,330.18,383.96)" font-size="10" font-weight="bold" fill="#c52a2e" stroke="#c52a2e" stroke-width="0.25" text-anchor="middle">T</text><text transform="matrix(0.670,0,0,0.673,330.18,380.74)" font-size="10" font-weight="bold" fill="#2438a6" stroke="#2438a6" stroke-width="0.25" text-anchor="middle">C</text>
<text x="374.80" y="382.33" font-size="7.3" fill="#231f20" stroke="#231f20" stroke-width="0.07" text-anchor="start" textLength="17.36" lengthAdjust="spacingAndGlyphs">FRA2</text>
<text x="417.50" y="382.33" font-size="7.3" fill="#231f20" stroke="#231f20" stroke-width="0.07" text-anchor="start" textLength="13.45" lengthAdjust="spacingAndGlyphs">1e-9</text>
<text x="449.60" y="382.33" font-size="7.3" fill="#231f20" stroke="#231f20" stroke-width="0.07" text-anchor="start" textLength="11.10" lengthAdjust="spacingAndGlyphs">155</text>
<text x="263.00" y="392.33" font-size="7.2" fill="#231f20" stroke="#231f20" stroke-width="0.07" text-anchor="start">14</text>
<text transform="matrix(0.611,0,0,0.631,276.88,393.99)" font-size="10" font-weight="bold" fill="#e6a024" stroke="#e6a024" stroke-width="0.25" text-anchor="middle">G</text><text transform="matrix(0.658,0,0,0.631,276.88,389.47)" font-size="10" font-weight="bold" fill="#53a83c" stroke="#53a83c" stroke-width="0.25" text-anchor="middle">A</text><text transform="matrix(0.658,0,0,1.262,281.62,393.99)" font-size="10" font-weight="bold" fill="#53a83c" stroke="#53a83c" stroke-width="0.25" text-anchor="middle">A</text><text transform="matrix(0.778,0,0,1.262,286.38,393.99)" font-size="10" font-weight="bold" fill="#c52a2e" stroke="#c52a2e" stroke-width="0.25" text-anchor="middle">T</text><text transform="matrix(0.611,0,0,1.262,291.12,393.99)" font-size="10" font-weight="bold" fill="#e6a024" stroke="#e6a024" stroke-width="0.25" text-anchor="middle">G</text><text transform="matrix(0.658,0,0,1.262,295.88,393.99)" font-size="10" font-weight="bold" fill="#53a83c" stroke="#53a83c" stroke-width="0.25" text-anchor="middle">A</text><text transform="matrix(0.658,0,0,0.541,300.62,393.99)" font-size="10" font-weight="bold" fill="#2438a6" stroke="#2438a6" stroke-width="0.25" text-anchor="middle">C</text><text transform="matrix(0.611,0,0,0.721,300.62,390.12)" font-size="10" font-weight="bold" fill="#e6a024" stroke="#e6a024" stroke-width="0.25" text-anchor="middle">G</text><text transform="matrix(0.778,0,0,1.262,305.38,393.99)" font-size="10" font-weight="bold" fill="#c52a2e" stroke="#c52a2e" stroke-width="0.25" text-anchor="middle">T</text><text transform="matrix(0.658,0,0,1.262,310.12,393.99)" font-size="10" font-weight="bold" fill="#2438a6" stroke="#2438a6" stroke-width="0.25" text-anchor="middle">C</text><text transform="matrix(0.658,0,0,1.262,314.88,393.99)" font-size="10" font-weight="bold" fill="#53a83c" stroke="#53a83c" stroke-width="0.25" text-anchor="middle">A</text><text transform="matrix(0.658,0,0,0.361,319.62,393.99)" font-size="10" font-weight="bold" fill="#2438a6" stroke="#2438a6" stroke-width="0.25" text-anchor="middle">C</text><text transform="matrix(0.778,0,0,0.901,319.62,391.41)" font-size="10" font-weight="bold" fill="#c52a2e" stroke="#c52a2e" stroke-width="0.25" text-anchor="middle">T</text>
<text x="374.80" y="392.37" font-size="7.3" fill="#231f20" stroke="#231f20" stroke-width="0.07" text-anchor="start" textLength="16.85" lengthAdjust="spacingAndGlyphs">BATF</text>
<text x="417.50" y="392.37" font-size="7.3" fill="#231f20" stroke="#231f20" stroke-width="0.07" text-anchor="start" textLength="13.45" lengthAdjust="spacingAndGlyphs">1e-9</text>
<text x="449.60" y="392.37" font-size="7.3" fill="#231f20" stroke="#231f20" stroke-width="0.07" text-anchor="start" textLength="11.10" lengthAdjust="spacingAndGlyphs">193</text>
<text x="263.00" y="402.37" font-size="7.2" fill="#231f20" stroke="#231f20" stroke-width="0.07" text-anchor="start">15</text>
<text transform="matrix(0.658,0,0,0.631,276.88,404.03)" font-size="10" font-weight="bold" fill="#2438a6" stroke="#2438a6" stroke-width="0.25" text-anchor="middle">C</text><text transform="matrix(0.778,0,0,0.631,276.88,399.51)" font-size="10" font-weight="bold" fill="#c52a2e" stroke="#c52a2e" stroke-width="0.25" text-anchor="middle">T</text><text transform="matrix(0.658,0,0,1.262,281.62,404.03)" font-size="10" font-weight="bold" fill="#2438a6" stroke="#2438a6" stroke-width="0.25" text-anchor="middle">C</text><text transform="matrix(0.778,0,0,1.262,286.38,404.03)" font-size="10" font-weight="bold" fill="#c52a2e" stroke="#c52a2e" stroke-width="0.25" text-anchor="middle">T</text><text transform="matrix(0.778,0,0,1.262,291.12,404.03)" font-size="10" font-weight="bold" fill="#c52a2e" stroke="#c52a2e" stroke-width="0.25" text-anchor="middle">T</text><text transform="matrix(0.658,0,0,1.262,295.88,404.03)" font-size="10" font-weight="bold" fill="#53a83c" stroke="#53a83c" stroke-width="0.25" text-anchor="middle">A</text><text transform="matrix(0.778,0,0,1.262,300.62,404.03)" font-size="10" font-weight="bold" fill="#c52a2e" stroke="#c52a2e" stroke-width="0.25" text-anchor="middle">T</text><text transform="matrix(0.658,0,0,1.262,305.38,404.03)" font-size="10" font-weight="bold" fill="#2438a6" stroke="#2438a6" stroke-width="0.25" text-anchor="middle">C</text><text transform="matrix(0.658,0,0,0.421,310.12,404.03)" font-size="10" font-weight="bold" fill="#53a83c" stroke="#53a83c" stroke-width="0.25" text-anchor="middle">A</text><text transform="matrix(0.778,0,0,0.841,310.12,401.01)" font-size="10" font-weight="bold" fill="#c52a2e" stroke="#c52a2e" stroke-width="0.25" text-anchor="middle">T</text><text transform="matrix(0.778,0,0,0.449,314.88,404.03)" font-size="10" font-weight="bold" fill="#c52a2e" stroke="#c52a2e" stroke-width="0.25" text-anchor="middle">T</text><text transform="matrix(0.658,0,0,0.673,314.88,400.81)" font-size="10" font-weight="bold" fill="#2438a6" stroke="#2438a6" stroke-width="0.25" text-anchor="middle">C</text><text transform="matrix(0.611,0,0,0.449,319.62,404.03)" font-size="10" font-weight="bold" fill="#e6a024" stroke="#e6a024" stroke-width="0.25" text-anchor="middle">G</text><text transform="matrix(0.658,0,0,0.673,319.62,400.81)" font-size="10" font-weight="bold" fill="#2438a6" stroke="#2438a6" stroke-width="0.25" text-anchor="middle">C</text>
<text x="374.80" y="402.40" font-size="7.3" fill="#231f20" stroke="#231f20" stroke-width="0.07" text-anchor="start" textLength="21.26" lengthAdjust="spacingAndGlyphs">GATA6</text>
<text x="417.50" y="402.40" font-size="7.3" fill="#231f20" stroke="#231f20" stroke-width="0.07" text-anchor="start" textLength="13.45" lengthAdjust="spacingAndGlyphs">1e-9</text>
<text x="449.60" y="402.40" font-size="7.3" fill="#231f20" stroke="#231f20" stroke-width="0.07" text-anchor="start" textLength="11.10" lengthAdjust="spacingAndGlyphs">245</text>
<text x="263.00" y="412.40" font-size="7.2" fill="#231f20" stroke="#231f20" stroke-width="0.07" text-anchor="start">16</text>
<text transform="matrix(0.664,0,0,0.449,276.90,414.06)" font-size="10" font-weight="bold" fill="#53a83c" stroke="#53a83c" stroke-width="0.25" text-anchor="middle">A</text><text transform="matrix(0.616,0,0,0.673,276.90,410.85)" font-size="10" font-weight="bold" fill="#e6a024" stroke="#e6a024" stroke-width="0.25" text-anchor="middle">G</text><text transform="matrix(0.616,0,0,0.449,281.69,414.06)" font-size="10" font-weight="bold" fill="#e6a024" stroke="#e6a024" stroke-width="0.25" text-anchor="middle">G</text><text transform="matrix(0.664,0,0,0.673,281.69,410.85)" font-size="10" font-weight="bold" fill="#53a83c" stroke="#53a83c" stroke-width="0.25" text-anchor="middle">A</text><text transform="matrix(0.664,0,0,1.262,286.48,414.06)" font-size="10" font-weight="bold" fill="#53a83c" stroke="#53a83c" stroke-width="0.25" text-anchor="middle">A</text><text transform="matrix(0.784,0,0,1.262,291.27,414.06)" font-size="10" font-weight="bold" fill="#c52a2e" stroke="#c52a2e" stroke-width="0.25" text-anchor="middle">T</text><text transform="matrix(0.616,0,0,1.262,296.06,414.06)" font-size="10" font-weight="bold" fill="#e6a024" stroke="#e6a024" stroke-width="0.25" text-anchor="middle">G</text><text transform="matrix(0.664,0,0,1.262,300.85,414.06)" font-size="10" font-weight="bold" fill="#53a83c" stroke="#53a83c" stroke-width="0.25" text-anchor="middle">A</text><text transform="matrix(0.616,0,0,0.541,305.65,414.06)" font-size="10" font-weight="bold" fill="#e6a024" stroke="#e6a024" stroke-width="0.25" text-anchor="middle">G</text><text transform="matrix(0.664,0,0,0.721,305.65,410.19)" font-size="10" font-weight="bold" fill="#2438a6" stroke="#2438a6" stroke-width="0.25" text-anchor="middle">C</text><text transform="matrix(0.784,0,0,1.262,310.44,414.06)" font-size="10" font-weight="bold" fill="#c52a2e" stroke="#c52a2e" stroke-width="0.25" text-anchor="middle">T</text><text transform="matrix(0.664,0,0,1.262,315.23,414.06)" font-size="10" font-weight="bold" fill="#2438a6" stroke="#2438a6" stroke-width="0.25" text-anchor="middle">C</text><text transform="matrix(0.664,0,0,1.262,320.02,414.06)" font-size="10" font-weight="bold" fill="#53a83c" stroke="#53a83c" stroke-width="0.25" text-anchor="middle">A</text><text transform="matrix(0.664,0,0,0.421,324.81,414.06)" font-size="10" font-weight="bold" fill="#2438a6" stroke="#2438a6" stroke-width="0.25" text-anchor="middle">C</text><text transform="matrix(0.784,0,0,0.841,324.81,411.05)" font-size="10" font-weight="bold" fill="#c52a2e" stroke="#c52a2e" stroke-width="0.25" text-anchor="middle">T</text><text transform="matrix(0.784,0,0,0.449,329.60,414.06)" font-size="10" font-weight="bold" fill="#c52a2e" stroke="#c52a2e" stroke-width="0.25" text-anchor="middle">T</text><text transform="matrix(0.664,0,0,0.673,329.60,410.85)" font-size="10" font-weight="bold" fill="#2438a6" stroke="#2438a6" stroke-width="0.25" text-anchor="middle">C</text>
<text x="374.80" y="412.44" font-size="7.3" fill="#231f20" stroke="#231f20" stroke-width="0.07" text-anchor="start" textLength="17.36" lengthAdjust="spacingAndGlyphs">FRA1</text>
<text x="417.50" y="412.44" font-size="7.3" fill="#231f20" stroke="#231f20" stroke-width="0.07" text-anchor="start" textLength="13.45" lengthAdjust="spacingAndGlyphs">1e-8</text>
<text x="449.60" y="412.44" font-size="7.3" fill="#231f20" stroke="#231f20" stroke-width="0.07" text-anchor="start" textLength="11.10" lengthAdjust="spacingAndGlyphs">170</text>
<text x="263.00" y="422.44" font-size="7.2" fill="#231f20" stroke="#231f20" stroke-width="0.07" text-anchor="start">17</text>
<text transform="matrix(0.778,0,0,0.315,276.88,424.10)" font-size="10" font-weight="bold" fill="#c52a2e" stroke="#c52a2e" stroke-width="0.25" text-anchor="middle">T</text><text transform="matrix(0.658,0,0,0.946,276.88,421.84)" font-size="10" font-weight="bold" fill="#53a83c" stroke="#53a83c" stroke-width="0.25" text-anchor="middle">A</text><text transform="matrix(0.778,0,0,1.262,281.62,424.10)" font-size="10" font-weight="bold" fill="#c52a2e" stroke="#c52a2e" stroke-width="0.25" text-anchor="middle">T</text><text transform="matrix(0.611,0,0,1.262,286.38,424.10)" font-size="10" font-weight="bold" fill="#e6a024" stroke="#e6a024" stroke-width="0.25" text-anchor="middle">G</text><text transform="matrix(0.658,0,0,1.262,291.12,424.10)" font-size="10" font-weight="bold" fill="#53a83c" stroke="#53a83c" stroke-width="0.25" text-anchor="middle">A</text><text transform="matrix(0.611,0,0,0.541,295.88,424.10)" font-size="10" font-weight="bold" fill="#e6a024" stroke="#e6a024" stroke-width="0.25" text-anchor="middle">G</text><text transform="matrix(0.658,0,0,0.721,295.88,420.22)" font-size="10" font-weight="bold" fill="#2438a6" stroke="#2438a6" stroke-width="0.25" text-anchor="middle">C</text><text transform="matrix(0.778,0,0,1.262,300.62,424.10)" font-size="10" font-weight="bold" fill="#c52a2e" stroke="#c52a2e" stroke-width="0.25" text-anchor="middle">T</text><text transform="matrix(0.658,0,0,1.262,305.38,424.10)" font-size="10" font-weight="bold" fill="#2438a6" stroke="#2438a6" stroke-width="0.25" text-anchor="middle">C</text><text transform="matrix(0.658,0,0,1.262,310.12,424.10)" font-size="10" font-weight="bold" fill="#53a83c" stroke="#53a83c" stroke-width="0.25" text-anchor="middle">A</text><text transform="matrix(0.658,0,0,0.421,314.88,424.10)" font-size="10" font-weight="bold" fill="#2438a6" stroke="#2438a6" stroke-width="0.25" text-anchor="middle">C</text><text transform="matrix(0.778,0,0,0.841,314.88,421.08)" font-size="10" font-weight="bold" fill="#c52a2e" stroke="#c52a2e" stroke-width="0.25" text-anchor="middle">T</text><text transform="matrix(0.611,0,0,0.421,319.62,424.10)" font-size="10" font-weight="bold" fill="#e6a024" stroke="#e6a024" stroke-width="0.25" text-anchor="middle">G</text><text transform="matrix(0.658,0,0,0.841,319.62,421.08)" font-size="10" font-weight="bold" fill="#2438a6" stroke="#2438a6" stroke-width="0.25" text-anchor="middle">C</text>
<text x="374.80" y="422.47" font-size="7.3" fill="#231f20" stroke="#231f20" stroke-width="0.07" text-anchor="start" textLength="15.10" lengthAdjust="spacingAndGlyphs">AP-1</text>
<text x="417.50" y="422.47" font-size="7.3" fill="#231f20" stroke="#231f20" stroke-width="0.07" text-anchor="start" textLength="13.45" lengthAdjust="spacingAndGlyphs">1e-8</text>
<text x="449.60" y="422.47" font-size="7.3" fill="#231f20" stroke="#231f20" stroke-width="0.07" text-anchor="start" textLength="11.10" lengthAdjust="spacingAndGlyphs">202</text>
<text x="263.00" y="432.47" font-size="7.2" fill="#231f20" stroke="#231f20" stroke-width="0.07" text-anchor="start">18</text>
<text transform="matrix(0.664,0,0,0.449,276.90,434.13)" font-size="10" font-weight="bold" fill="#53a83c" stroke="#53a83c" stroke-width="0.25" text-anchor="middle">A</text><text transform="matrix(0.616,0,0,0.673,276.90,430.92)" font-size="10" font-weight="bold" fill="#e6a024" stroke="#e6a024" stroke-width="0.25" text-anchor="middle">G</text><text transform="matrix(0.616,0,0,0.449,281.69,434.13)" font-size="10" font-weight="bold" fill="#e6a024" stroke="#e6a024" stroke-width="0.25" text-anchor="middle">G</text><text transform="matrix(0.664,0,0,0.673,281.69,430.92)" font-size="10" font-weight="bold" fill="#53a83c" stroke="#53a83c" stroke-width="0.25" text-anchor="middle">A</text><text transform="matrix(0.664,0,0,1.262,286.48,434.13)" font-size="10" font-weight="bold" fill="#53a83c" stroke="#53a83c" stroke-width="0.25" text-anchor="middle">A</text><text transform="matrix(0.784,0,0,1.262,291.27,434.13)" font-size="10" font-weight="bold" fill="#c52a2e" stroke="#c52a2e" stroke-width="0.25" text-anchor="middle">T</text><text transform="matrix(0.616,0,0,1.262,296.06,434.13)" font-size="10" font-weight="bold" fill="#e6a024" stroke="#e6a024" stroke-width="0.25" text-anchor="middle">G</text><text transform="matrix(0.664,0,0,1.262,300.85,434.13)" font-size="10" font-weight="bold" fill="#53a83c" stroke="#53a83c" stroke-width="0.25" text-anchor="middle">A</text><text transform="matrix(0.616,0,0,0.541,305.65,434.13)" font-size="10" font-weight="bold" fill="#e6a024" stroke="#e6a024" stroke-width="0.25" text-anchor="middle">G</text><text transform="matrix(0.664,0,0,0.721,305.65,430.26)" font-size="10" font-weight="bold" fill="#2438a6" stroke="#2438a6" stroke-width="0.25" text-anchor="middle">C</text><text transform="matrix(0.784,0,0,1.262,310.44,434.13)" font-size="10" font-weight="bold" fill="#c52a2e" stroke="#c52a2e" stroke-width="0.25" text-anchor="middle">T</text><text transform="matrix(0.664,0,0,1.262,315.23,434.13)" font-size="10" font-weight="bold" fill="#2438a6" stroke="#2438a6" stroke-width="0.25" text-anchor="middle">C</text><text transform="matrix(0.664,0,0,1.262,320.02,434.13)" font-size="10" font-weight="bold" fill="#53a83c" stroke="#53a83c" stroke-width="0.25" text-anchor="middle">A</text><text transform="matrix(0.664,0,0,0.421,324.81,434.13)" font-size="10" font-weight="bold" fill="#2438a6" stroke="#2438a6" stroke-width="0.25" text-anchor="middle">C</text><text transform="matrix(0.784,0,0,0.841,324.81,431.12)" font-size="10" font-weight="bold" fill="#c52a2e" stroke="#c52a2e" stroke-width="0.25" text-anchor="middle">T</text><text transform="matrix(0.784,0,0,0.449,329.60,434.13)" font-size="10" font-weight="bold" fill="#c52a2e" stroke="#c52a2e" stroke-width="0.25" text-anchor="middle">T</text><text transform="matrix(0.664,0,0,0.673,329.60,430.92)" font-size="10" font-weight="bold" fill="#2438a6" stroke="#2438a6" stroke-width="0.25" text-anchor="middle">C</text>
<text x="374.80" y="432.51" font-size="7.3" fill="#231f20" stroke="#231f20" stroke-width="0.07" text-anchor="start" textLength="16.10" lengthAdjust="spacingAndGlyphs">ATF3</text>
<text x="417.50" y="432.51" font-size="7.3" fill="#231f20" stroke="#231f20" stroke-width="0.07" text-anchor="start" textLength="13.45" lengthAdjust="spacingAndGlyphs">1e-7</text>
<text x="449.60" y="432.51" font-size="7.3" fill="#231f20" stroke="#231f20" stroke-width="0.07" text-anchor="start" textLength="11.10" lengthAdjust="spacingAndGlyphs">183</text>
<text x="263.00" y="442.51" font-size="7.2" fill="#231f20" stroke="#231f20" stroke-width="0.07" text-anchor="start">19</text>
<text transform="matrix(0.679,0,0,0.449,277.14,444.17)" font-size="10" font-weight="bold" fill="#e6a024" stroke="#e6a024" stroke-width="0.25" text-anchor="middle">G</text><text transform="matrix(0.731,0,0,0.673,277.14,440.95)" font-size="10" font-weight="bold" fill="#2438a6" stroke="#2438a6" stroke-width="0.25" text-anchor="middle">C</text><text transform="matrix(0.731,0,0,0.449,282.42,444.17)" font-size="10" font-weight="bold" fill="#53a83c" stroke="#53a83c" stroke-width="0.25" text-anchor="middle">A</text><text transform="matrix(0.731,0,0,0.673,282.42,440.95)" font-size="10" font-weight="bold" fill="#2438a6" stroke="#2438a6" stroke-width="0.25" text-anchor="middle">C</text><text transform="matrix(0.731,0,0,1.262,287.69,444.17)" font-size="10" font-weight="bold" fill="#53a83c" stroke="#53a83c" stroke-width="0.25" text-anchor="middle">A</text><text transform="matrix(0.679,0,0,1.262,292.97,444.17)" font-size="10" font-weight="bold" fill="#e6a024" stroke="#e6a024" stroke-width="0.25" text-anchor="middle">G</text><text transform="matrix(0.731,0,0,1.262,298.25,444.17)" font-size="10" font-weight="bold" fill="#53a83c" stroke="#53a83c" stroke-width="0.25" text-anchor="middle">A</text><text transform="matrix(0.864,0,0,1.262,303.53,444.17)" font-size="10" font-weight="bold" fill="#c52a2e" stroke="#c52a2e" stroke-width="0.25" text-anchor="middle">T</text><text transform="matrix(0.731,0,0,1.262,308.81,444.17)" font-size="10" font-weight="bold" fill="#53a83c" stroke="#53a83c" stroke-width="0.25" text-anchor="middle">A</text><text transform="matrix(0.731,0,0,1.262,314.08,444.17)" font-size="10" font-weight="bold" fill="#53a83c" stroke="#53a83c" stroke-width="0.25" text-anchor="middle">A</text><text transform="matrix(0.731,0,0,0.421,319.36,444.17)" font-size="10" font-weight="bold" fill="#2438a6" stroke="#2438a6" stroke-width="0.25" text-anchor="middle">C</text><text transform="matrix(0.679,0,0,0.841,319.36,441.15)" font-size="10" font-weight="bold" fill="#e6a024" stroke="#e6a024" stroke-width="0.25" text-anchor="middle">G</text>
<text x="374.80" y="442.54" font-size="7.3" fill="#231f20" stroke="#231f20" stroke-width="0.07" text-anchor="start" textLength="21.26" lengthAdjust="spacingAndGlyphs">GATA4</text>
<text x="417.50" y="442.54" font-size="7.3" fill="#231f20" stroke="#231f20" stroke-width="0.07" text-anchor="start" textLength="13.45" lengthAdjust="spacingAndGlyphs">1e-7</text>
<text x="449.60" y="442.54" font-size="7.3" fill="#231f20" stroke="#231f20" stroke-width="0.07" text-anchor="start" textLength="11.10" lengthAdjust="spacingAndGlyphs">250</text>
<text x="263.00" y="452.54" font-size="7.2" fill="#231f20" stroke="#231f20" stroke-width="0.07" text-anchor="start">20</text>
<text transform="matrix(0.782,0,0,0.631,276.89,454.20)" font-size="10" font-weight="bold" fill="#c52a2e" stroke="#c52a2e" stroke-width="0.25" text-anchor="middle">T</text><text transform="matrix(0.661,0,0,0.631,276.89,449.68)" font-size="10" font-weight="bold" fill="#53a83c" stroke="#53a83c" stroke-width="0.25" text-anchor="middle">A</text><text transform="matrix(0.661,0,0,0.421,281.66,454.20)" font-size="10" font-weight="bold" fill="#2438a6" stroke="#2438a6" stroke-width="0.25" text-anchor="middle">C</text><text transform="matrix(0.782,0,0,0.841,281.66,451.19)" font-size="10" font-weight="bold" fill="#c52a2e" stroke="#c52a2e" stroke-width="0.25" text-anchor="middle">T</text><text transform="matrix(0.782,0,0,1.262,286.44,454.20)" font-size="10" font-weight="bold" fill="#c52a2e" stroke="#c52a2e" stroke-width="0.25" text-anchor="middle">T</text><text transform="matrix(0.614,0,0,1.262,291.21,454.20)" font-size="10" font-weight="bold" fill="#e6a024" stroke="#e6a024" stroke-width="0.25" text-anchor="middle">G</text><text transform="matrix(0.661,0,0,1.262,295.99,454.20)" font-size="10" font-weight="bold" fill="#2438a6" stroke="#2438a6" stroke-width="0.25" text-anchor="middle">C</text><text transform="matrix(0.782,0,0,1.262,300.76,454.20)" font-size="10" font-weight="bold" fill="#c52a2e" stroke="#c52a2e" stroke-width="0.25" text-anchor="middle">T</text><text transform="matrix(0.614,0,0,1.262,305.54,454.20)" font-size="10" font-weight="bold" fill="#e6a024" stroke="#e6a024" stroke-width="0.25" text-anchor="middle">G</text><text transform="matrix(0.661,0,0,1.262,310.31,454.20)" font-size="10" font-weight="bold" fill="#53a83c" stroke="#53a83c" stroke-width="0.25" text-anchor="middle">A</text><text transform="matrix(0.661,0,0,0.541,315.09,454.20)" font-size="10" font-weight="bold" fill="#2438a6" stroke="#2438a6" stroke-width="0.25" text-anchor="middle">C</text><text transform="matrix(0.614,0,0,0.721,315.09,450.33)" font-size="10" font-weight="bold" fill="#e6a024" stroke="#e6a024" stroke-width="0.25" text-anchor="middle">G</text><text transform="matrix(0.782,0,0,1.262,319.86,454.20)" font-size="10" font-weight="bold" fill="#c52a2e" stroke="#c52a2e" stroke-width="0.25" text-anchor="middle">T</text><text transform="matrix(0.661,0,0,1.262,324.64,454.20)" font-size="10" font-weight="bold" fill="#2438a6" stroke="#2438a6" stroke-width="0.25" text-anchor="middle">C</text><text transform="matrix(0.661,0,0,1.262,329.41,454.20)" font-size="10" font-weight="bold" fill="#53a83c" stroke="#53a83c" stroke-width="0.25" text-anchor="middle">A</text><text transform="matrix(0.614,0,0,1.262,334.19,454.20)" font-size="10" font-weight="bold" fill="#e6a024" stroke="#e6a024" stroke-width="0.25" text-anchor="middle">G</text><text transform="matrix(0.661,0,0,1.262,338.96,454.20)" font-size="10" font-weight="bold" fill="#2438a6" stroke="#2438a6" stroke-width="0.25" text-anchor="middle">C</text><text transform="matrix(0.661,0,0,1.262,343.74,454.20)" font-size="10" font-weight="bold" fill="#53a83c" stroke="#53a83c" stroke-width="0.25" text-anchor="middle">A</text><text transform="matrix(0.661,0,0,0.449,348.51,454.20)" font-size="10" font-weight="bold" fill="#53a83c" stroke="#53a83c" stroke-width="0.25" text-anchor="middle">A</text><text transform="matrix(0.782,0,0,0.673,348.51,450.99)" font-size="10" font-weight="bold" fill="#c52a2e" stroke="#c52a2e" stroke-width="0.25" text-anchor="middle">T</text><text transform="matrix(0.661,0,0,0.210,353.29,454.20)" font-size="10" font-weight="bold" fill="#53a83c" stroke="#53a83c" stroke-width="0.25" text-anchor="middle">A</text><text transform="matrix(0.782,0,0,1.052,353.29,452.69)" font-size="10" font-weight="bold" fill="#c52a2e" stroke="#c52a2e" stroke-width="0.25" text-anchor="middle">T</text><text transform="matrix(0.661,0,0,0.210,358.06,454.20)" font-size="10" font-weight="bold" fill="#53a83c" stroke="#53a83c" stroke-width="0.25" text-anchor="middle">A</text><text transform="matrix(0.782,0,0,1.052,358.06,452.69)" font-size="10" font-weight="bold" fill="#c52a2e" stroke="#c52a2e" stroke-width="0.25" text-anchor="middle">T</text><text transform="matrix(0.661,0,0,0.449,362.84,454.20)" font-size="10" font-weight="bold" fill="#53a83c" stroke="#53a83c" stroke-width="0.25" text-anchor="middle">A</text><text transform="matrix(0.782,0,0,0.673,362.84,450.99)" font-size="10" font-weight="bold" fill="#c52a2e" stroke="#c52a2e" stroke-width="0.25" text-anchor="middle">T</text><text transform="matrix(0.661,0,0,0.449,367.61,454.20)" font-size="10" font-weight="bold" fill="#2438a6" stroke="#2438a6" stroke-width="0.25" text-anchor="middle">C</text><text transform="matrix(0.661,0,0,0.673,367.61,450.99)" font-size="10" font-weight="bold" fill="#53a83c" stroke="#53a83c" stroke-width="0.25" text-anchor="middle">A</text>
<text x="374.80" y="452.58" font-size="7.3" fill="#231f20" stroke="#231f20" stroke-width="0.07" text-anchor="start" textLength="18.86" lengthAdjust="spacingAndGlyphs">MAFB</text>
<text x="417.50" y="452.58" font-size="7.3" fill="#231f20" stroke="#231f20" stroke-width="0.07" text-anchor="start" textLength="13.45" lengthAdjust="spacingAndGlyphs">1e-6</text>
<text x="449.60" y="452.58" font-size="7.3" fill="#231f20" stroke="#231f20" stroke-width="0.07" text-anchor="start" textLength="11.10" lengthAdjust="spacingAndGlyphs">156</text>
<text x="263.00" y="462.58" font-size="7.2" fill="#231f20" stroke="#231f20" stroke-width="0.07" text-anchor="start">21</text>
<text transform="matrix(0.660,0,0,0.449,276.88,464.24)" font-size="10" font-weight="bold" fill="#53a83c" stroke="#53a83c" stroke-width="0.25" text-anchor="middle">A</text><text transform="matrix(0.780,0,0,0.673,276.88,461.02)" font-size="10" font-weight="bold" fill="#c52a2e" stroke="#c52a2e" stroke-width="0.25" text-anchor="middle">T</text><text transform="matrix(0.660,0,0,0.421,281.65,464.24)" font-size="10" font-weight="bold" fill="#2438a6" stroke="#2438a6" stroke-width="0.25" text-anchor="middle">C</text><text transform="matrix(0.613,0,0,0.841,281.65,461.22)" font-size="10" font-weight="bold" fill="#e6a024" stroke="#e6a024" stroke-width="0.25" text-anchor="middle">G</text><text transform="matrix(0.660,0,0,0.631,286.42,464.24)" font-size="10" font-weight="bold" fill="#53a83c" stroke="#53a83c" stroke-width="0.25" text-anchor="middle">A</text><text transform="matrix(0.613,0,0,0.631,286.42,459.72)" font-size="10" font-weight="bold" fill="#e6a024" stroke="#e6a024" stroke-width="0.25" text-anchor="middle">G</text><text transform="matrix(0.660,0,0,1.262,291.18,464.24)" font-size="10" font-weight="bold" fill="#2438a6" stroke="#2438a6" stroke-width="0.25" text-anchor="middle">C</text><text transform="matrix(0.660,0,0,1.262,295.95,464.24)" font-size="10" font-weight="bold" fill="#2438a6" stroke="#2438a6" stroke-width="0.25" text-anchor="middle">C</text><text transform="matrix(0.613,0,0,0.541,300.72,464.24)" font-size="10" font-weight="bold" fill="#e6a024" stroke="#e6a024" stroke-width="0.25" text-anchor="middle">G</text><text transform="matrix(0.660,0,0,0.721,300.72,460.36)" font-size="10" font-weight="bold" fill="#2438a6" stroke="#2438a6" stroke-width="0.25" text-anchor="middle">C</text><text transform="matrix(0.660,0,0,1.262,305.48,464.24)" font-size="10" font-weight="bold" fill="#2438a6" stroke="#2438a6" stroke-width="0.25" text-anchor="middle">C</text><text transform="matrix(0.613,0,0,0.421,310.25,464.24)" font-size="10" font-weight="bold" fill="#e6a024" stroke="#e6a024" stroke-width="0.25" text-anchor="middle">G</text><text transform="matrix(0.660,0,0,0.841,310.25,461.22)" font-size="10" font-weight="bold" fill="#53a83c" stroke="#53a83c" stroke-width="0.25" text-anchor="middle">A</text><text transform="matrix(0.660,0,0,1.262,315.02,464.24)" font-size="10" font-weight="bold" fill="#2438a6" stroke="#2438a6" stroke-width="0.25" text-anchor="middle">C</text><text transform="matrix(0.660,0,0,1.262,319.78,464.24)" font-size="10" font-weight="bold" fill="#2438a6" stroke="#2438a6" stroke-width="0.25" text-anchor="middle">C</text><text transform="matrix(0.660,0,0,1.262,324.55,464.24)" font-size="10" font-weight="bold" fill="#2438a6" stroke="#2438a6" stroke-width="0.25" text-anchor="middle">C</text><text transform="matrix(0.780,0,0,0.449,329.32,464.24)" font-size="10" font-weight="bold" fill="#c52a2e" stroke="#c52a2e" stroke-width="0.25" text-anchor="middle">T</text><text transform="matrix(0.660,0,0,0.673,329.32,461.02)" font-size="10" font-weight="bold" fill="#2438a6" stroke="#2438a6" stroke-width="0.25" text-anchor="middle">C</text><text transform="matrix(0.660,0,0,0.449,334.08,464.24)" font-size="10" font-weight="bold" fill="#2438a6" stroke="#2438a6" stroke-width="0.25" text-anchor="middle">C</text><text transform="matrix(0.780,0,0,0.673,334.08,461.02)" font-size="10" font-weight="bold" fill="#c52a2e" stroke="#c52a2e" stroke-width="0.25" text-anchor="middle">T</text><text transform="matrix(0.660,0,0,0.449,338.85,464.24)" font-size="10" font-weight="bold" fill="#2438a6" stroke="#2438a6" stroke-width="0.25" text-anchor="middle">C</text><text transform="matrix(0.780,0,0,0.673,338.85,461.02)" font-size="10" font-weight="bold" fill="#c52a2e" stroke="#c52a2e" stroke-width="0.25" text-anchor="middle">T</text><text transform="matrix(0.660,0,0,0.449,343.62,464.24)" font-size="10" font-weight="bold" fill="#53a83c" stroke="#53a83c" stroke-width="0.25" text-anchor="middle">A</text><text transform="matrix(0.660,0,0,0.673,343.62,461.02)" font-size="10" font-weight="bold" fill="#2438a6" stroke="#2438a6" stroke-width="0.25" text-anchor="middle">C</text>
<text x="374.80" y="462.61" font-size="7.3" fill="#231f20" stroke="#231f20" stroke-width="0.07" text-anchor="start" textLength="16.23" lengthAdjust="spacingAndGlyphs">KLF3</text>
<text x="417.50" y="462.61" font-size="7.3" fill="#231f20" stroke="#231f20" stroke-width="0.07" text-anchor="start" textLength="13.45" lengthAdjust="spacingAndGlyphs">1e-5</text>
<text x="449.60" y="462.61" font-size="7.3" fill="#231f20" stroke="#231f20" stroke-width="0.07" text-anchor="start" textLength="11.10" lengthAdjust="spacingAndGlyphs">134</text>
<text x="263.00" y="472.61" font-size="7.2" fill="#231f20" stroke="#231f20" stroke-width="0.07" text-anchor="start">22</text>
<text transform="matrix(0.778,0,0,1.262,276.88,474.27)" font-size="10" font-weight="bold" fill="#c52a2e" stroke="#c52a2e" stroke-width="0.25" text-anchor="middle">T</text><text transform="matrix(0.611,0,0,1.262,281.62,474.27)" font-size="10" font-weight="bold" fill="#e6a024" stroke="#e6a024" stroke-width="0.25" text-anchor="middle">G</text><text transform="matrix(0.658,0,0,1.262,286.38,474.27)" font-size="10" font-weight="bold" fill="#2438a6" stroke="#2438a6" stroke-width="0.25" text-anchor="middle">C</text><text transform="matrix(0.778,0,0,1.262,291.12,474.27)" font-size="10" font-weight="bold" fill="#c52a2e" stroke="#c52a2e" stroke-width="0.25" text-anchor="middle">T</text><text transform="matrix(0.611,0,0,1.262,295.88,474.27)" font-size="10" font-weight="bold" fill="#e6a024" stroke="#e6a024" stroke-width="0.25" text-anchor="middle">G</text><text transform="matrix(0.658,0,0,1.262,300.62,474.27)" font-size="10" font-weight="bold" fill="#53a83c" stroke="#53a83c" stroke-width="0.25" text-anchor="middle">A</text><text transform="matrix(0.658,0,0,0.361,305.38,474.27)" font-size="10" font-weight="bold" fill="#53a83c" stroke="#53a83c" stroke-width="0.25" text-anchor="middle">A</text><text transform="matrix(0.658,0,0,0.901,305.38,471.69)" font-size="10" font-weight="bold" fill="#2438a6" stroke="#2438a6" stroke-width="0.25" text-anchor="middle">C</text><text transform="matrix(0.778,0,0,1.262,310.12,474.27)" font-size="10" font-weight="bold" fill="#c52a2e" stroke="#c52a2e" stroke-width="0.25" text-anchor="middle">T</text><text transform="matrix(0.658,0,0,0.361,314.88,474.27)" font-size="10" font-weight="bold" fill="#53a83c" stroke="#53a83c" stroke-width="0.25" text-anchor="middle">A</text><text transform="matrix(0.658,0,0,0.901,314.88,471.69)" font-size="10" font-weight="bold" fill="#2438a6" stroke="#2438a6" stroke-width="0.25" text-anchor="middle">C</text><text transform="matrix(0.658,0,0,1.262,319.62,474.27)" font-size="10" font-weight="bold" fill="#53a83c" stroke="#53a83c" stroke-width="0.25" text-anchor="middle">A</text>
<text x="374.80" y="472.65" font-size="7.3" fill="#231f20" stroke="#231f20" stroke-width="0.07" text-anchor="start" textLength="18.49" lengthAdjust="spacingAndGlyphs">MAFA</text>
<text x="417.50" y="472.65" font-size="7.3" fill="#231f20" stroke="#231f20" stroke-width="0.07" text-anchor="start" textLength="13.45" lengthAdjust="spacingAndGlyphs">1e-5</text>
<text x="449.60" y="472.65" font-size="7.3" fill="#231f20" stroke="#231f20" stroke-width="0.07" text-anchor="start" textLength="11.10" lengthAdjust="spacingAndGlyphs">213</text>
<text x="263.00" y="482.65" font-size="7.2" fill="#231f20" stroke="#231f20" stroke-width="0.07" text-anchor="start">23</text>
<text transform="matrix(0.664,0,0,0.631,276.90,484.31)" font-size="10" font-weight="bold" fill="#53a83c" stroke="#53a83c" stroke-width="0.25" text-anchor="middle">A</text><text transform="matrix(0.664,0,0,0.631,276.90,479.79)" font-size="10" font-weight="bold" fill="#2438a6" stroke="#2438a6" stroke-width="0.25" text-anchor="middle">C</text><text transform="matrix(0.784,0,0,1.262,281.69,484.31)" font-size="10" font-weight="bold" fill="#c52a2e" stroke="#c52a2e" stroke-width="0.25" text-anchor="middle">T</text><text transform="matrix(0.616,0,0,1.262,286.48,484.31)" font-size="10" font-weight="bold" fill="#e6a024" stroke="#e6a024" stroke-width="0.25" text-anchor="middle">G</text><text transform="matrix(0.616,0,0,1.262,291.27,484.31)" font-size="10" font-weight="bold" fill="#e6a024" stroke="#e6a024" stroke-width="0.25" text-anchor="middle">G</text><text transform="matrix(0.616,0,0,1.262,296.06,484.31)" font-size="10" font-weight="bold" fill="#e6a024" stroke="#e6a024" stroke-width="0.25" text-anchor="middle">G</text><text transform="matrix(0.784,0,0,1.262,300.85,484.31)" font-size="10" font-weight="bold" fill="#c52a2e" stroke="#c52a2e" stroke-width="0.25" text-anchor="middle">T</text><text transform="matrix(0.616,0,0,1.262,305.65,484.31)" font-size="10" font-weight="bold" fill="#e6a024" stroke="#e6a024" stroke-width="0.25" text-anchor="middle">G</text><text transform="matrix(0.784,0,0,1.262,310.44,484.31)" font-size="10" font-weight="bold" fill="#c52a2e" stroke="#c52a2e" stroke-width="0.25" text-anchor="middle">T</text><text transform="matrix(0.616,0,0,1.262,315.23,484.31)" font-size="10" font-weight="bold" fill="#e6a024" stroke="#e6a024" stroke-width="0.25" text-anchor="middle">G</text><text transform="matrix(0.616,0,0,1.262,320.02,484.31)" font-size="10" font-weight="bold" fill="#e6a024" stroke="#e6a024" stroke-width="0.25" text-anchor="middle">G</text><text transform="matrix(0.664,0,0,1.262,324.81,484.31)" font-size="10" font-weight="bold" fill="#2438a6" stroke="#2438a6" stroke-width="0.25" text-anchor="middle">C</text><text transform="matrix(0.784,0,0,0.361,329.60,484.31)" font-size="10" font-weight="bold" fill="#c52a2e" stroke="#c52a2e" stroke-width="0.25" text-anchor="middle">T</text><text transform="matrix(0.664,0,0,0.901,329.60,481.72)" font-size="10" font-weight="bold" fill="#2438a6" stroke="#2438a6" stroke-width="0.25" text-anchor="middle">C</text>
<text x="374.80" y="482.68" font-size="7.3" fill="#231f20" stroke="#231f20" stroke-width="0.07" text-anchor="start" textLength="16.98" lengthAdjust="spacingAndGlyphs">EKLF</text>
<text x="417.50" y="482.68" font-size="7.3" fill="#231f20" stroke="#231f20" stroke-width="0.07" text-anchor="start" textLength="13.45" lengthAdjust="spacingAndGlyphs">1e-4</text>
<text x="449.60" y="482.68" font-size="7.3" fill="#231f20" stroke="#231f20" stroke-width="0.07" text-anchor="start" textLength="7.40" lengthAdjust="spacingAndGlyphs">86</text>
<text x="263.00" y="492.68" font-size="7.2" fill="#231f20" stroke="#231f20" stroke-width="0.07" text-anchor="start">24</text>
<text transform="matrix(0.616,0,0,0.631,276.90,494.34)" font-size="10" font-weight="bold" fill="#e6a024" stroke="#e6a024" stroke-width="0.25" text-anchor="middle">G</text><text transform="matrix(0.664,0,0,0.631,276.90,489.82)" font-size="10" font-weight="bold" fill="#2438a6" stroke="#2438a6" stroke-width="0.25" text-anchor="middle">C</text><text transform="matrix(0.616,0,0,1.262,281.69,494.34)" font-size="10" font-weight="bold" fill="#e6a024" stroke="#e6a024" stroke-width="0.25" text-anchor="middle">G</text><text transform="matrix(0.664,0,0,1.262,286.48,494.34)" font-size="10" font-weight="bold" fill="#2438a6" stroke="#2438a6" stroke-width="0.25" text-anchor="middle">C</text><text transform="matrix(0.664,0,0,1.262,291.27,494.34)" font-size="10" font-weight="bold" fill="#2438a6" stroke="#2438a6" stroke-width="0.25" text-anchor="middle">C</text><text transform="matrix(0.664,0,0,1.262,296.06,494.34)" font-size="10" font-weight="bold" fill="#2438a6" stroke="#2438a6" stroke-width="0.25" text-anchor="middle">C</text><text transform="matrix(0.664,0,0,1.262,300.85,494.34)" font-size="10" font-weight="bold" fill="#2438a6" stroke="#2438a6" stroke-width="0.25" text-anchor="middle">C</text><text transform="matrix(0.616,0,0,1.262,305.65,494.34)" font-size="10" font-weight="bold" fill="#e6a024" stroke="#e6a024" stroke-width="0.25" text-anchor="middle">G</text><text transform="matrix(0.664,0,0,1.262,310.44,494.34)" font-size="10" font-weight="bold" fill="#2438a6" stroke="#2438a6" stroke-width="0.25" text-anchor="middle">C</text><text transform="matrix(0.664,0,0,1.262,315.23,494.34)" font-size="10" font-weight="bold" fill="#2438a6" stroke="#2438a6" stroke-width="0.25" text-anchor="middle">C</text><text transform="matrix(0.664,0,0,1.262,320.02,494.34)" font-size="10" font-weight="bold" fill="#2438a6" stroke="#2438a6" stroke-width="0.25" text-anchor="middle">C</text><text transform="matrix(0.664,0,0,1.262,324.81,494.34)" font-size="10" font-weight="bold" fill="#2438a6" stroke="#2438a6" stroke-width="0.25" text-anchor="middle">C</text><text transform="matrix(0.616,0,0,0.315,329.60,494.34)" font-size="10" font-weight="bold" fill="#e6a024" stroke="#e6a024" stroke-width="0.25" text-anchor="middle">G</text><text transform="matrix(0.664,0,0,0.946,329.60,492.08)" font-size="10" font-weight="bold" fill="#2438a6" stroke="#2438a6" stroke-width="0.25" text-anchor="middle">C</text>
<text x="374.80" y="492.72" font-size="7.3" fill="#231f20" stroke="#231f20" stroke-width="0.07" text-anchor="start" textLength="12.83" lengthAdjust="spacingAndGlyphs">SP1</text>
<text x="417.50" y="492.72" font-size="7.3" fill="#231f20" stroke="#231f20" stroke-width="0.07" text-anchor="start" textLength="13.45" lengthAdjust="spacingAndGlyphs">1e-3</text>
<text x="449.60" y="492.72" font-size="7.3" fill="#231f20" stroke="#231f20" stroke-width="0.07" text-anchor="start" textLength="7.40" lengthAdjust="spacingAndGlyphs">50</text>
<text x="263.00" y="502.72" font-size="7.2" fill="#231f20" stroke="#231f20" stroke-width="0.07" text-anchor="start">25</text>
<text transform="matrix(0.666,0,0,1.262,276.91,504.38)" font-size="10" font-weight="bold" fill="#53a83c" stroke="#53a83c" stroke-width="0.25" text-anchor="middle">A</text><text transform="matrix(0.619,0,0,1.262,281.72,504.38)" font-size="10" font-weight="bold" fill="#e6a024" stroke="#e6a024" stroke-width="0.25" text-anchor="middle">G</text><text transform="matrix(0.666,0,0,1.262,286.53,504.38)" font-size="10" font-weight="bold" fill="#53a83c" stroke="#53a83c" stroke-width="0.25" text-anchor="middle">A</text><text transform="matrix(0.788,0,0,1.262,291.34,504.38)" font-size="10" font-weight="bold" fill="#c52a2e" stroke="#c52a2e" stroke-width="0.25" text-anchor="middle">T</text><text transform="matrix(0.666,0,0,1.262,296.16,504.38)" font-size="10" font-weight="bold" fill="#53a83c" stroke="#53a83c" stroke-width="0.25" text-anchor="middle">A</text><text transform="matrix(0.666,0,0,1.262,300.97,504.38)" font-size="10" font-weight="bold" fill="#53a83c" stroke="#53a83c" stroke-width="0.25" text-anchor="middle">A</text><text transform="matrix(0.619,0,0,0.541,305.78,504.38)" font-size="10" font-weight="bold" fill="#e6a024" stroke="#e6a024" stroke-width="0.25" text-anchor="middle">G</text><text transform="matrix(0.666,0,0,0.721,305.78,500.50)" font-size="10" font-weight="bold" fill="#2438a6" stroke="#2438a6" stroke-width="0.25" text-anchor="middle">C</text><text transform="matrix(0.619,0,0,0.421,310.59,504.38)" font-size="10" font-weight="bold" fill="#e6a024" stroke="#e6a024" stroke-width="0.25" text-anchor="middle">G</text><text transform="matrix(0.666,0,0,0.841,310.59,501.36)" font-size="10" font-weight="bold" fill="#53a83c" stroke="#53a83c" stroke-width="0.25" text-anchor="middle">A</text>
<text x="374.80" y="502.75" font-size="7.3" fill="#231f20" stroke="#231f20" stroke-width="0.07" text-anchor="start" textLength="21.26" lengthAdjust="spacingAndGlyphs">GATA3</text>
<text x="417.50" y="502.75" font-size="7.3" fill="#231f20" stroke="#231f20" stroke-width="0.07" text-anchor="start" textLength="13.45" lengthAdjust="spacingAndGlyphs">1e-3</text>
<text x="449.60" y="502.75" font-size="7.3" fill="#231f20" stroke="#231f20" stroke-width="0.07" text-anchor="start" textLength="11.10" lengthAdjust="spacingAndGlyphs">282</text>
<text x="263.00" y="512.75" font-size="7.2" fill="#231f20" stroke="#231f20" stroke-width="0.07" text-anchor="start">26</text>
<text transform="matrix(0.616,0,0,0.631,276.90,514.41)" font-size="10" font-weight="bold" fill="#e6a024" stroke="#e6a024" stroke-width="0.25" text-anchor="middle">G</text><text transform="matrix(0.664,0,0,0.631,276.90,509.89)" font-size="10" font-weight="bold" fill="#53a83c" stroke="#53a83c" stroke-width="0.25" text-anchor="middle">A</text><text transform="matrix(0.616,0,0,1.262,281.69,514.41)" font-size="10" font-weight="bold" fill="#e6a024" stroke="#e6a024" stroke-width="0.25" text-anchor="middle">G</text><text transform="matrix(0.616,0,0,0.361,286.48,514.41)" font-size="10" font-weight="bold" fill="#e6a024" stroke="#e6a024" stroke-width="0.25" text-anchor="middle">G</text><text transform="matrix(0.784,0,0,0.901,286.48,511.83)" font-size="10" font-weight="bold" fill="#c52a2e" stroke="#c52a2e" stroke-width="0.25" text-anchor="middle">T</text><text transform="matrix(0.616,0,0,1.262,291.27,514.41)" font-size="10" font-weight="bold" fill="#e6a024" stroke="#e6a024" stroke-width="0.25" text-anchor="middle">G</text><text transform="matrix(0.616,0,0,1.262,296.06,514.41)" font-size="10" font-weight="bold" fill="#e6a024" stroke="#e6a024" stroke-width="0.25" text-anchor="middle">G</text><text transform="matrix(0.616,0,0,1.262,300.85,514.41)" font-size="10" font-weight="bold" fill="#e6a024" stroke="#e6a024" stroke-width="0.25" text-anchor="middle">G</text><text transform="matrix(0.664,0,0,1.262,305.65,514.41)" font-size="10" font-weight="bold" fill="#2438a6" stroke="#2438a6" stroke-width="0.25" text-anchor="middle">C</text><text transform="matrix(0.616,0,0,1.262,310.44,514.41)" font-size="10" font-weight="bold" fill="#e6a024" stroke="#e6a024" stroke-width="0.25" text-anchor="middle">G</text><text transform="matrix(0.616,0,0,1.262,315.23,514.41)" font-size="10" font-weight="bold" fill="#e6a024" stroke="#e6a024" stroke-width="0.25" text-anchor="middle">G</text><text transform="matrix(0.664,0,0,1.262,320.02,514.41)" font-size="10" font-weight="bold" fill="#53a83c" stroke="#53a83c" stroke-width="0.25" text-anchor="middle">A</text><text transform="matrix(0.616,0,0,1.262,324.81,514.41)" font-size="10" font-weight="bold" fill="#e6a024" stroke="#e6a024" stroke-width="0.25" text-anchor="middle">G</text><text transform="matrix(0.664,0,0,1.262,329.60,514.41)" font-size="10" font-weight="bold" fill="#2438a6" stroke="#2438a6" stroke-width="0.25" text-anchor="middle">C</text>
<text x="374.80" y="512.79" font-size="7.3" fill="#231f20" stroke="#231f20" stroke-width="0.07" text-anchor="start" textLength="12.83" lengthAdjust="spacingAndGlyphs">SP5</text>
<text x="417.50" y="512.79" font-size="7.3" fill="#231f20" stroke="#231f20" stroke-width="0.07" text-anchor="start" textLength="13.45" lengthAdjust="spacingAndGlyphs">1e-2</text>
<text x="449.60" y="512.79" font-size="7.3" fill="#231f20" stroke="#231f20" stroke-width="0.07" text-anchor="start" textLength="11.10" lengthAdjust="spacingAndGlyphs">187</text>
<text x="263.00" y="522.79" font-size="7.2" fill="#231f20" stroke="#231f20" stroke-width="0.07" text-anchor="start">27</text>
<text transform="matrix(0.555,0,0,0.449,276.66,524.45)" font-size="10" font-weight="bold" fill="#e6a024" stroke="#e6a024" stroke-width="0.25" text-anchor="middle">G</text><text transform="matrix(0.598,0,0,0.673,276.66,521.23)" font-size="10" font-weight="bold" fill="#2438a6" stroke="#2438a6" stroke-width="0.25" text-anchor="middle">C</text><text transform="matrix(0.598,0,0,0.449,280.98,524.45)" font-size="10" font-weight="bold" fill="#2438a6" stroke="#2438a6" stroke-width="0.25" text-anchor="middle">C</text><text transform="matrix(0.598,0,0,0.673,280.98,521.23)" font-size="10" font-weight="bold" fill="#53a83c" stroke="#53a83c" stroke-width="0.25" text-anchor="middle">A</text><text transform="matrix(0.598,0,0,1.262,285.30,524.45)" font-size="10" font-weight="bold" fill="#53a83c" stroke="#53a83c" stroke-width="0.25" text-anchor="middle">A</text><text transform="matrix(0.707,0,0,1.262,289.61,524.45)" font-size="10" font-weight="bold" fill="#c52a2e" stroke="#c52a2e" stroke-width="0.25" text-anchor="middle">T</text><text transform="matrix(0.555,0,0,1.262,293.93,524.45)" font-size="10" font-weight="bold" fill="#e6a024" stroke="#e6a024" stroke-width="0.25" text-anchor="middle">G</text><text transform="matrix(0.598,0,0,1.262,298.25,524.45)" font-size="10" font-weight="bold" fill="#53a83c" stroke="#53a83c" stroke-width="0.25" text-anchor="middle">A</text><text transform="matrix(0.555,0,0,0.541,302.57,524.45)" font-size="10" font-weight="bold" fill="#e6a024" stroke="#e6a024" stroke-width="0.25" text-anchor="middle">G</text><text transform="matrix(0.598,0,0,0.721,302.57,520.57)" font-size="10" font-weight="bold" fill="#2438a6" stroke="#2438a6" stroke-width="0.25" text-anchor="middle">C</text><text transform="matrix(0.707,0,0,0.421,306.89,524.45)" font-size="10" font-weight="bold" fill="#c52a2e" stroke="#c52a2e" stroke-width="0.25" text-anchor="middle">T</text><text transform="matrix(0.555,0,0,0.841,306.89,521.43)" font-size="10" font-weight="bold" fill="#e6a024" stroke="#e6a024" stroke-width="0.25" text-anchor="middle">G</text><text transform="matrix(0.598,0,0,1.262,311.20,524.45)" font-size="10" font-weight="bold" fill="#2438a6" stroke="#2438a6" stroke-width="0.25" text-anchor="middle">C</text><text transform="matrix(0.598,0,0,1.262,315.52,524.45)" font-size="10" font-weight="bold" fill="#53a83c" stroke="#53a83c" stroke-width="0.25" text-anchor="middle">A</text><text transform="matrix(0.598,0,0,0.361,319.84,524.45)" font-size="10" font-weight="bold" fill="#2438a6" stroke="#2438a6" stroke-width="0.25" text-anchor="middle">C</text><text transform="matrix(0.707,0,0,0.901,319.84,521.86)" font-size="10" font-weight="bold" fill="#c52a2e" stroke="#c52a2e" stroke-width="0.25" text-anchor="middle">T</text>
<text x="374.80" y="522.82" font-size="7.3" fill="#231f20" stroke="#231f20" stroke-width="0.07" text-anchor="start" textLength="16.10" lengthAdjust="spacingAndGlyphs">ATF2</text>
<text x="417.50" y="522.82" font-size="7.3" fill="#231f20" stroke="#231f20" stroke-width="0.07" text-anchor="start" textLength="13.45" lengthAdjust="spacingAndGlyphs">1e-2</text>
<text x="449.60" y="522.82" font-size="7.3" fill="#231f20" stroke="#231f20" stroke-width="0.07" text-anchor="start" textLength="7.40" lengthAdjust="spacingAndGlyphs">92</text>
<text x="263.00" y="532.82" font-size="7.2" fill="#231f20" stroke="#231f20" stroke-width="0.07" text-anchor="start">28</text>
<text transform="matrix(0.616,0,0,0.631,276.90,534.48)" font-size="10" font-weight="bold" fill="#e6a024" stroke="#e6a024" stroke-width="0.25" text-anchor="middle">G</text><text transform="matrix(0.664,0,0,0.631,276.90,529.96)" font-size="10" font-weight="bold" fill="#2438a6" stroke="#2438a6" stroke-width="0.25" text-anchor="middle">C</text><text transform="matrix(0.616,0,0,0.421,281.69,534.48)" font-size="10" font-weight="bold" fill="#e6a024" stroke="#e6a024" stroke-width="0.25" text-anchor="middle">G</text><text transform="matrix(0.784,0,0,0.841,281.69,531.47)" font-size="10" font-weight="bold" fill="#c52a2e" stroke="#c52a2e" stroke-width="0.25" text-anchor="middle">T</text><text transform="matrix(0.616,0,0,1.262,286.48,534.48)" font-size="10" font-weight="bold" fill="#e6a024" stroke="#e6a024" stroke-width="0.25" text-anchor="middle">G</text><text transform="matrix(0.616,0,0,1.262,291.27,534.48)" font-size="10" font-weight="bold" fill="#e6a024" stroke="#e6a024" stroke-width="0.25" text-anchor="middle">G</text><text transform="matrix(0.616,0,0,1.262,296.06,534.48)" font-size="10" font-weight="bold" fill="#e6a024" stroke="#e6a024" stroke-width="0.25" text-anchor="middle">G</text><text transform="matrix(0.784,0,0,0.421,300.85,534.48)" font-size="10" font-weight="bold" fill="#c52a2e" stroke="#c52a2e" stroke-width="0.25" text-anchor="middle">T</text><text transform="matrix(0.664,0,0,0.841,300.85,531.47)" font-size="10" font-weight="bold" fill="#2438a6" stroke="#2438a6" stroke-width="0.25" text-anchor="middle">C</text><text transform="matrix(0.616,0,0,1.262,305.65,534.48)" font-size="10" font-weight="bold" fill="#e6a024" stroke="#e6a024" stroke-width="0.25" text-anchor="middle">G</text><text transform="matrix(0.616,0,0,0.361,310.44,534.48)" font-size="10" font-weight="bold" fill="#e6a024" stroke="#e6a024" stroke-width="0.25" text-anchor="middle">G</text><text transform="matrix(0.784,0,0,0.901,310.44,531.90)" font-size="10" font-weight="bold" fill="#c52a2e" stroke="#c52a2e" stroke-width="0.25" text-anchor="middle">T</text><text transform="matrix(0.616,0,0,1.262,315.23,534.48)" font-size="10" font-weight="bold" fill="#e6a024" stroke="#e6a024" stroke-width="0.25" text-anchor="middle">G</text><text transform="matrix(0.664,0,0,1.262,320.02,534.48)" font-size="10" font-weight="bold" fill="#2438a6" stroke="#2438a6" stroke-width="0.25" text-anchor="middle">C</text><text transform="matrix(0.664,0,0,1.009,324.81,534.48)" font-size="10" font-weight="bold" fill="#2438a6" stroke="#2438a6" stroke-width="0.25" text-anchor="middle">C</text><text transform="matrix(0.784,0,0,0.361,329.60,534.48)" font-size="10" font-weight="bold" fill="#c52a2e" stroke="#c52a2e" stroke-width="0.25" text-anchor="middle">T</text><text transform="matrix(0.664,0,0,0.901,329.60,531.90)" font-size="10" font-weight="bold" fill="#2438a6" stroke="#2438a6" stroke-width="0.25" text-anchor="middle">C</text>
<text x="374.80" y="532.86" font-size="7.3" fill="#231f20" stroke="#231f20" stroke-width="0.07" text-anchor="start" textLength="16.23" lengthAdjust="spacingAndGlyphs">KLF6</text>
<text x="417.50" y="532.86" font-size="7.3" fill="#231f20" stroke="#231f20" stroke-width="0.07" text-anchor="start" textLength="13.45" lengthAdjust="spacingAndGlyphs">1e-2</text>
<text x="449.60" y="532.86" font-size="7.3" fill="#231f20" stroke="#231f20" stroke-width="0.07" text-anchor="start" textLength="11.10" lengthAdjust="spacingAndGlyphs">199</text>
<text x="263.00" y="542.86" font-size="7.2" fill="#231f20" stroke="#231f20" stroke-width="0.07" text-anchor="start">29</text>
<text transform="matrix(0.658,0,0,1.262,276.88,544.51)" font-size="10" font-weight="bold" fill="#53a83c" stroke="#53a83c" stroke-width="0.25" text-anchor="middle">A</text><text transform="matrix(0.778,0,0,1.262,281.62,544.51)" font-size="10" font-weight="bold" fill="#c52a2e" stroke="#c52a2e" stroke-width="0.25" text-anchor="middle">T</text><text transform="matrix(0.778,0,0,1.262,286.38,544.51)" font-size="10" font-weight="bold" fill="#c52a2e" stroke="#c52a2e" stroke-width="0.25" text-anchor="middle">T</text><text transform="matrix(0.658,0,0,0.541,291.12,544.51)" font-size="10" font-weight="bold" fill="#53a83c" stroke="#53a83c" stroke-width="0.25" text-anchor="middle">A</text><text transform="matrix(0.611,0,0,0.721,291.12,540.64)" font-size="10" font-weight="bold" fill="#e6a024" stroke="#e6a024" stroke-width="0.25" text-anchor="middle">G</text><text transform="matrix(0.658,0,0,1.262,295.88,544.51)" font-size="10" font-weight="bold" fill="#2438a6" stroke="#2438a6" stroke-width="0.25" text-anchor="middle">C</text><text transform="matrix(0.658,0,0,1.262,300.62,544.51)" font-size="10" font-weight="bold" fill="#53a83c" stroke="#53a83c" stroke-width="0.25" text-anchor="middle">A</text><text transform="matrix(0.778,0,0,1.262,305.38,544.51)" font-size="10" font-weight="bold" fill="#c52a2e" stroke="#c52a2e" stroke-width="0.25" text-anchor="middle">T</text><text transform="matrix(0.658,0,0,1.262,310.12,544.51)" font-size="10" font-weight="bold" fill="#2438a6" stroke="#2438a6" stroke-width="0.25" text-anchor="middle">C</text><text transform="matrix(0.658,0,0,1.262,314.88,544.51)" font-size="10" font-weight="bold" fill="#53a83c" stroke="#53a83c" stroke-width="0.25" text-anchor="middle">A</text><text transform="matrix(0.611,0,0,0.421,319.62,544.51)" font-size="10" font-weight="bold" fill="#e6a024" stroke="#e6a024" stroke-width="0.25" text-anchor="middle">G</text><text transform="matrix(0.778,0,0,0.841,319.62,541.50)" font-size="10" font-weight="bold" fill="#c52a2e" stroke="#c52a2e" stroke-width="0.25" text-anchor="middle">T</text>
<text x="374.80" y="542.89" font-size="7.3" fill="#231f20" stroke="#231f20" stroke-width="0.07" text-anchor="start" textLength="19.62" lengthAdjust="spacingAndGlyphs">CHOP</text>
<text x="417.50" y="542.89" font-size="7.3" fill="#231f20" stroke="#231f20" stroke-width="0.07" text-anchor="start" textLength="13.45" lengthAdjust="spacingAndGlyphs">1e-2</text>
<text x="449.60" y="542.89" font-size="7.3" fill="#231f20" stroke="#231f20" stroke-width="0.07" text-anchor="start" textLength="7.40" lengthAdjust="spacingAndGlyphs">63</text>
<text x="263.00" y="552.89" font-size="7.2" fill="#231f20" stroke="#231f20" stroke-width="0.07" text-anchor="start">30</text>
<text transform="matrix(0.611,0,0,1.262,276.88,554.55)" font-size="10" font-weight="bold" fill="#e6a024" stroke="#e6a024" stroke-width="0.25" text-anchor="middle">G</text><text transform="matrix(0.658,0,0,1.262,281.62,554.55)" font-size="10" font-weight="bold" fill="#2438a6" stroke="#2438a6" stroke-width="0.25" text-anchor="middle">C</text><text transform="matrix(0.658,0,0,1.262,286.38,554.55)" font-size="10" font-weight="bold" fill="#2438a6" stroke="#2438a6" stroke-width="0.25" text-anchor="middle">C</text><text transform="matrix(0.658,0,0,1.262,291.12,554.55)" font-size="10" font-weight="bold" fill="#53a83c" stroke="#53a83c" stroke-width="0.25" text-anchor="middle">A</text><text transform="matrix(0.658,0,0,1.262,295.88,554.55)" font-size="10" font-weight="bold" fill="#2438a6" stroke="#2438a6" stroke-width="0.25" text-anchor="middle">C</text><text transform="matrix(0.658,0,0,1.262,300.62,554.55)" font-size="10" font-weight="bold" fill="#53a83c" stroke="#53a83c" stroke-width="0.25" text-anchor="middle">A</text><text transform="matrix(0.658,0,0,1.262,305.38,554.55)" font-size="10" font-weight="bold" fill="#2438a6" stroke="#2438a6" stroke-width="0.25" text-anchor="middle">C</text><text transform="matrix(0.658,0,0,1.262,310.12,554.55)" font-size="10" font-weight="bold" fill="#2438a6" stroke="#2438a6" stroke-width="0.25" text-anchor="middle">C</text><text transform="matrix(0.658,0,0,1.262,314.88,554.55)" font-size="10" font-weight="bold" fill="#2438a6" stroke="#2438a6" stroke-width="0.25" text-anchor="middle">C</text><text transform="matrix(0.658,0,0,1.178,319.62,554.55)" font-size="10" font-weight="bold" fill="#53a83c" stroke="#53a83c" stroke-width="0.25" text-anchor="middle">A</text>
<text x="374.80" y="552.93" font-size="7.3" fill="#231f20" stroke="#231f20" stroke-width="0.07" text-anchor="start" textLength="16.23" lengthAdjust="spacingAndGlyphs">KLF4</text>
<text x="417.50" y="552.93" font-size="7.3" fill="#231f20" stroke="#231f20" stroke-width="0.07" text-anchor="start" textLength="13.45" lengthAdjust="spacingAndGlyphs">1e-2</text>
<text x="449.60" y="552.93" font-size="7.3" fill="#231f20" stroke="#231f20" stroke-width="0.07" text-anchor="start" textLength="11.10" lengthAdjust="spacingAndGlyphs">107</text>
<text x="263.00" y="562.93" font-size="7.2" fill="#231f20" stroke="#231f20" stroke-width="0.07" text-anchor="start">31</text>
<text transform="matrix(0.664,0,0,0.421,276.90,564.59)" font-size="10" font-weight="bold" fill="#53a83c" stroke="#53a83c" stroke-width="0.25" text-anchor="middle">A</text><text transform="matrix(0.616,0,0,0.841,276.90,561.57)" font-size="10" font-weight="bold" fill="#e6a024" stroke="#e6a024" stroke-width="0.25" text-anchor="middle">G</text><text transform="matrix(0.616,0,0,0.421,281.69,564.59)" font-size="10" font-weight="bold" fill="#e6a024" stroke="#e6a024" stroke-width="0.25" text-anchor="middle">G</text><text transform="matrix(0.664,0,0,0.841,281.69,561.57)" font-size="10" font-weight="bold" fill="#2438a6" stroke="#2438a6" stroke-width="0.25" text-anchor="middle">C</text><text transform="matrix(0.664,0,0,1.262,286.48,564.59)" font-size="10" font-weight="bold" fill="#2438a6" stroke="#2438a6" stroke-width="0.25" text-anchor="middle">C</text><text transform="matrix(0.784,0,0,1.262,291.27,564.59)" font-size="10" font-weight="bold" fill="#c52a2e" stroke="#c52a2e" stroke-width="0.25" text-anchor="middle">T</text><text transform="matrix(0.616,0,0,1.262,296.06,564.59)" font-size="10" font-weight="bold" fill="#e6a024" stroke="#e6a024" stroke-width="0.25" text-anchor="middle">G</text><text transform="matrix(0.784,0,0,1.262,300.85,564.59)" font-size="10" font-weight="bold" fill="#c52a2e" stroke="#c52a2e" stroke-width="0.25" text-anchor="middle">T</text><text transform="matrix(0.664,0,0,1.262,305.65,564.59)" font-size="10" font-weight="bold" fill="#2438a6" stroke="#2438a6" stroke-width="0.25" text-anchor="middle">C</text><text transform="matrix(0.664,0,0,1.262,310.44,564.59)" font-size="10" font-weight="bold" fill="#53a83c" stroke="#53a83c" stroke-width="0.25" text-anchor="middle">A</text><text transform="matrix(0.784,0,0,0.421,315.23,564.59)" font-size="10" font-weight="bold" fill="#c52a2e" stroke="#c52a2e" stroke-width="0.25" text-anchor="middle">T</text><text transform="matrix(0.664,0,0,0.841,315.23,561.57)" font-size="10" font-weight="bold" fill="#2438a6" stroke="#2438a6" stroke-width="0.25" text-anchor="middle">C</text><text transform="matrix(0.784,0,0,1.262,320.02,564.59)" font-size="10" font-weight="bold" fill="#c52a2e" stroke="#c52a2e" stroke-width="0.25" text-anchor="middle">T</text><text transform="matrix(0.664,0,0,1.262,324.81,564.59)" font-size="10" font-weight="bold" fill="#2438a6" stroke="#2438a6" stroke-width="0.25" text-anchor="middle">C</text><text transform="matrix(0.664,0,0,1.262,329.60,564.59)" font-size="10" font-weight="bold" fill="#53a83c" stroke="#53a83c" stroke-width="0.25" text-anchor="middle">A</text>
<text x="374.80" y="562.96" font-size="7.3" fill="#231f20" stroke="#231f20" stroke-width="0.07" text-anchor="start" textLength="17.36" lengthAdjust="spacingAndGlyphs">PBX1</text>
<text x="417.50" y="562.96" font-size="7.3" fill="#231f20" stroke="#231f20" stroke-width="0.07" text-anchor="start" textLength="13.45" lengthAdjust="spacingAndGlyphs">1e-2</text>
<text x="449.60" y="562.96" font-size="7.3" fill="#231f20" stroke="#231f20" stroke-width="0.07" text-anchor="start" textLength="7.40" lengthAdjust="spacingAndGlyphs">34</text>
<text x="263.00" y="572.96" font-size="7.2" fill="#231f20" stroke="#231f20" stroke-width="0.07" text-anchor="start">32</text>
<text transform="matrix(0.658,0,0,0.631,276.88,574.62)" font-size="10" font-weight="bold" fill="#2438a6" stroke="#2438a6" stroke-width="0.25" text-anchor="middle">C</text><text transform="matrix(0.658,0,0,0.631,276.88,570.10)" font-size="10" font-weight="bold" fill="#53a83c" stroke="#53a83c" stroke-width="0.25" text-anchor="middle">A</text><text transform="matrix(0.778,0,0,1.262,281.62,574.62)" font-size="10" font-weight="bold" fill="#c52a2e" stroke="#c52a2e" stroke-width="0.25" text-anchor="middle">T</text><text transform="matrix(0.611,0,0,1.262,286.38,574.62)" font-size="10" font-weight="bold" fill="#e6a024" stroke="#e6a024" stroke-width="0.25" text-anchor="middle">G</text><text transform="matrix(0.658,0,0,1.262,291.12,574.62)" font-size="10" font-weight="bold" fill="#53a83c" stroke="#53a83c" stroke-width="0.25" text-anchor="middle">A</text><text transform="matrix(0.778,0,0,1.262,295.88,574.62)" font-size="10" font-weight="bold" fill="#c52a2e" stroke="#c52a2e" stroke-width="0.25" text-anchor="middle">T</text><text transform="matrix(0.611,0,0,1.262,300.62,574.62)" font-size="10" font-weight="bold" fill="#e6a024" stroke="#e6a024" stroke-width="0.25" text-anchor="middle">G</text><text transform="matrix(0.611,0,0,0.361,305.38,574.62)" font-size="10" font-weight="bold" fill="#e6a024" stroke="#e6a024" stroke-width="0.25" text-anchor="middle">G</text><text transform="matrix(0.658,0,0,0.901,305.38,572.04)" font-size="10" font-weight="bold" fill="#2438a6" stroke="#2438a6" stroke-width="0.25" text-anchor="middle">C</text><text transform="matrix(0.658,0,0,1.262,310.12,574.62)" font-size="10" font-weight="bold" fill="#53a83c" stroke="#53a83c" stroke-width="0.25" text-anchor="middle">A</text><text transform="matrix(0.658,0,0,1.262,314.88,574.62)" font-size="10" font-weight="bold" fill="#53a83c" stroke="#53a83c" stroke-width="0.25" text-anchor="middle">A</text><text transform="matrix(0.658,0,0,0.421,319.62,574.62)" font-size="10" font-weight="bold" fill="#2438a6" stroke="#2438a6" stroke-width="0.25" text-anchor="middle">C</text><text transform="matrix(0.778,0,0,0.841,319.62,571.61)" font-size="10" font-weight="bold" fill="#c52a2e" stroke="#c52a2e" stroke-width="0.25" text-anchor="middle">T</text>
<text x="374.80" y="573.00" font-size="7.3" fill="#231f20" stroke="#231f20" stroke-width="0.07" text-anchor="start" textLength="16.10" lengthAdjust="spacingAndGlyphs">ATF4</text>
<text x="417.50" y="573.00" font-size="7.3" fill="#231f20" stroke="#231f20" stroke-width="0.07" text-anchor="start" textLength="13.45" lengthAdjust="spacingAndGlyphs">1e-2</text>
<text x="449.60" y="573.00" font-size="7.3" fill="#231f20" stroke="#231f20" stroke-width="0.07" text-anchor="start" textLength="7.40" lengthAdjust="spacingAndGlyphs">75</text>
<text x="263.00" y="583.00" font-size="7.2" fill="#231f20" stroke="#231f20" stroke-width="0.07" text-anchor="start">33</text>
<text transform="matrix(0.611,0,0,0.361,276.88,584.66)" font-size="10" font-weight="bold" fill="#e6a024" stroke="#e6a024" stroke-width="0.25" text-anchor="middle">G</text><text transform="matrix(0.658,0,0,0.361,276.88,582.07)" font-size="10" font-weight="bold" fill="#53a83c" stroke="#53a83c" stroke-width="0.25" text-anchor="middle">A</text><text transform="matrix(0.658,0,0,0.541,276.88,579.49)" font-size="10" font-weight="bold" fill="#2438a6" stroke="#2438a6" stroke-width="0.25" text-anchor="middle">C</text><text transform="matrix(0.778,0,0,0.449,281.62,584.66)" font-size="10" font-weight="bold" fill="#c52a2e" stroke="#c52a2e" stroke-width="0.25" text-anchor="middle">T</text><text transform="matrix(0.658,0,0,0.673,281.62,581.44)" font-size="10" font-weight="bold" fill="#53a83c" stroke="#53a83c" stroke-width="0.25" text-anchor="middle">A</text><text transform="matrix(0.778,0,0,1.262,286.38,584.66)" font-size="10" font-weight="bold" fill="#c52a2e" stroke="#c52a2e" stroke-width="0.25" text-anchor="middle">T</text><text transform="matrix(0.778,0,0,1.262,291.12,584.66)" font-size="10" font-weight="bold" fill="#c52a2e" stroke="#c52a2e" stroke-width="0.25" text-anchor="middle">T</text><text transform="matrix(0.778,0,0,1.262,295.88,584.66)" font-size="10" font-weight="bold" fill="#c52a2e" stroke="#c52a2e" stroke-width="0.25" text-anchor="middle">T</text><text transform="matrix(0.658,0,0,1.262,300.62,584.66)" font-size="10" font-weight="bold" fill="#2438a6" stroke="#2438a6" stroke-width="0.25" text-anchor="middle">C</text><text transform="matrix(0.658,0,0,1.262,305.38,584.66)" font-size="10" font-weight="bold" fill="#2438a6" stroke="#2438a6" stroke-width="0.25" text-anchor="middle">C</text><text transform="matrix(0.611,0,0,0.449,310.12,584.66)" font-size="10" font-weight="bold" fill="#e6a024" stroke="#e6a024" stroke-width="0.25" text-anchor="middle">G</text><text transform="matrix(0.658,0,0,0.673,310.12,581.44)" font-size="10" font-weight="bold" fill="#53a83c" stroke="#53a83c" stroke-width="0.25" text-anchor="middle">A</text><text transform="matrix(0.611,0,0,1.262,314.88,584.66)" font-size="10" font-weight="bold" fill="#e6a024" stroke="#e6a024" stroke-width="0.25" text-anchor="middle">G</text><text transform="matrix(0.611,0,0,1.262,319.62,584.66)" font-size="10" font-weight="bold" fill="#e6a024" stroke="#e6a024" stroke-width="0.25" text-anchor="middle">G</text><text transform="matrix(0.658,0,0,1.262,324.38,584.66)" font-size="10" font-weight="bold" fill="#53a83c" stroke="#53a83c" stroke-width="0.25" text-anchor="middle">A</text><text transform="matrix(0.658,0,0,1.262,329.12,584.66)" font-size="10" font-weight="bold" fill="#53a83c" stroke="#53a83c" stroke-width="0.25" text-anchor="middle">A</text><text transform="matrix(0.658,0,0,0.421,333.88,584.66)" font-size="10" font-weight="bold" fill="#2438a6" stroke="#2438a6" stroke-width="0.25" text-anchor="middle">C</text><text transform="matrix(0.658,0,0,0.841,333.88,581.64)" font-size="10" font-weight="bold" fill="#53a83c" stroke="#53a83c" stroke-width="0.25" text-anchor="middle">A</text><text transform="matrix(0.658,0,0,0.421,338.62,584.66)" font-size="10" font-weight="bold" fill="#2438a6" stroke="#2438a6" stroke-width="0.25" text-anchor="middle">C</text><text transform="matrix(0.778,0,0,0.841,338.62,581.64)" font-size="10" font-weight="bold" fill="#c52a2e" stroke="#c52a2e" stroke-width="0.25" text-anchor="middle">T</text>
<text x="374.80" y="583.03" font-size="7.3" fill="#231f20" stroke="#231f20" stroke-width="0.07" text-anchor="start" textLength="20.12" lengthAdjust="spacingAndGlyphs">STAT1</text>
<text x="417.50" y="583.03" font-size="7.3" fill="#231f20" stroke="#231f20" stroke-width="0.07" text-anchor="start" textLength="13.45" lengthAdjust="spacingAndGlyphs">1e-2</text>
<text x="449.60" y="583.03" font-size="7.3" fill="#231f20" stroke="#231f20" stroke-width="0.07" text-anchor="start" textLength="7.40" lengthAdjust="spacingAndGlyphs">94</text>
<rect x="0.6" y="0.6" width="518.8" height="605.8" fill="none" stroke="#000" stroke-width="1.3"/>
</svg></body></html>
